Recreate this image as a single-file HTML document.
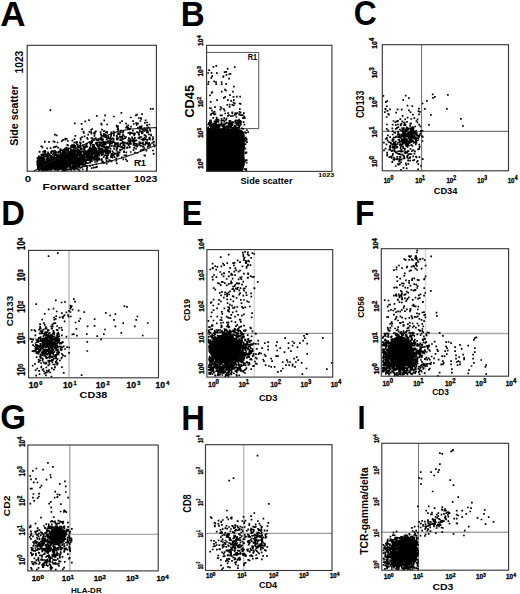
<!DOCTYPE html><html><head><meta charset="utf-8"><style>html,body{margin:0;padding:0;background:#fff;width:520px;height:594px;overflow:hidden}</style></head><body><svg width="520" height="594" viewBox="0 0 520 594" style="position:absolute;left:0;top:0;font-family:'Liberation Sans', sans-serif">
<rect width="520" height="594" fill="#fff"/>
<path d="M421.6 44.7V170.8" stroke="#666" stroke-width="1" fill="none"/>
<path d="M382.3 131.3H508.5" stroke="#555" stroke-width="1" fill="none"/>
<path d="M69.0 250.4V377.8" stroke="#bbb" stroke-width="1.4" fill="none"/>
<path d="M28.6 338.3H158.5" stroke="#999" stroke-width="1" fill="none"/>
<path d="M254.3 249.6V377.1" stroke="#d8d8d8" stroke-width="1.6" fill="none"/>
<path d="M206.9 333.3H332.7" stroke="#7a7a7a" stroke-width="1" fill="none"/>
<path d="M425.5 248.7V376.2" stroke="#d8d8d8" stroke-width="1.5" fill="none"/>
<path d="M381.3 333.5H508.6" stroke="#aaa" stroke-width="1.4" fill="none"/>
<path d="M69.8 445.0V570.9" stroke="#aaa" stroke-width="1.4" fill="none"/>
<path d="M27.8 534.3H158.2" stroke="#999" stroke-width="1" fill="none"/>
<path d="M243.7 444.7V570.5" stroke="#bbb" stroke-width="1.4" fill="none"/>
<path d="M205.5 533.3H332.0" stroke="#888" stroke-width="1" fill="none"/>
<path d="M418.5 443.3V570.2" stroke="#777" stroke-width="1" fill="none"/>
<path d="M381.8 532.2H508.6" stroke="#777" stroke-width="1" fill="none"/>
<path d="M206.6 52.45 H258.75 V128.6 H206.6" fill="none" stroke="#555" stroke-width="1"/>
<path d="M206.6 171.4 L206.6 128.5 L236 128.5 Q244.8 129 244.8 136 L244.3 166 L243 171.4 Z" fill="#000"/>
<ellipse cx="225" cy="349" rx="16" ry="13.5" fill="#000"/>
<ellipse cx="400" cy="352" rx="12" ry="16" fill="#000"/>
<ellipse cx="57.5" cy="535.5" rx="8" ry="9" fill="#000"/>
<ellipse cx="408" cy="550" rx="9" ry="13" fill="#000"/>
<path d="M213.4 66.9h0m2.9-1h0m11.4 3h0m7-1.8h0m-26.6 5.9h0m1-2.8h0m2.4 2.7h0m5.4 0.3h0m7.7-1h0m1.7-0.3h0m0.2 3h0m2.7-0.9h0m1.3-0.2h0m-21.9 8h0m2.7-3.9h0m0.8-1.8h0m2.1 5.3h0m9-4.6h0m0.3-0.4h0m5.5 2.3h0m-20.8 5.4h0m7.8-2h0m0.2 2h0m5.4-2.1h0m0.2 2.2h0m4.3-0.4h0m7.7 2.8h0m-22.1 6.4h0m0.5-0.8h0m9.5-0.6h0m3.3-1.9h0m1 0.8h0m7 1.1h0m-23 3.7h0m13.8 2.6h0m1.4-1h0m4.8-1.8h0m3.5 1.8h0m3.3-0.3h0m3.3 0.1h0m143.3-0.9h0m22.3-0.1h0m3.2 2.5h0m23.8-3.9h0m0.2 3.5h0m2-1h0m13-2h0m-237.3 7h0m6.4-1.6h0m10.2 4.8h0m0.7-4.8h0m1.7 4.5h0m1.6-3.8h0m1.2 4h0m1.1-2.2h0m0.3 2.6h0m0-5.2h0m1 3.3h0m4.8 0.1h0m1 0.3h0m145.2-1.6h0m1.3-1.1h0m16.1-1.2h0m4.3 5.7h0m15.1-2.1h0m4.3-2.7h0m-376.5 9.4h0m100.3-1.4h0m2.3 0h0m57-0.6h0m0.9 0.1h0m1.1 2.4h0m2.1 1.1h0m0.9-4.6h0m5.3 2.4h0m0.3-2.6h0m0.9 1.3h0m2.3 0.7h0m0.8 1.6h0m5-3.8h0m10.2 2.3h0m145.5-0.2h0m0.4 0.4h0m1.1-2.9h0m0.7 4.5h0m2.6-1.5h0m7.5 0h0m4.1 0.3h0m7.2 0.6h0m3.5-4.1h0m6.1 5h0m0.4-2.5h0m6 0.1h0m22 0h0m-350.1 7.1h0m8.3-0.6h0m8.7 1.2h0m7.6-3.7h0m9.4 4.7h0m5-2.2h0m1.2-0.7h0m5.1-0.4h0m68.7 0.7h0m0.7-1.2h0m1.8-0.5h0m0.8 1.2h0m0.5-2.5h0m0.8 2.3h0m1.2 3.5h0m3.9-2.3h0m1.5-0.1h0m3.2-1.8h0m2.6 2.3h0m0.2-2.6h0m1 2h0m1.9 0.9h0m1.3-3.8h0m0.2 1.2h0m0.4 2.5h0m1.9-1h0m0.3-0.7h0m0.3-1.1h0m0.4 1.5h0m0.5-1h0m0.2 3.3h0m1-3.8h0m1.8 1.1h0m0.4-2.4h0m0.7 3.3h0m0.3-2.5h0m0.6 2.5h0m1 0.3h0m0.7-0.5h0m1-1.9h0m0.3 3.6h0m0.4 1h0m140.2-5.6h0m1.9 4.9h0m1.5-3.2h0m0.8 0.8h0m7.1-1.9h0m6.5 3.2h0m5 1.7h0m2.9-5.5h0m2.4 2.6h0m6.2-0.3h0m0.7-2.5h0m11.1 2.9h0m-356.1 8.5h0m10.5-1.9h0m3.8-1.2h0m12.1 3.5h0m3.1-3.4h0m15.8 2.4h0m1.9-1.5h0m4.1 2.5h0m7-2.5h0m3 1.9h0m0.5-0.1h0m1.3 0.7h0m0.9-5.7h0m1.6 3h0m0.4-2.9h0m0.3 0.7h0m3.7 4.1h0m0.8-2.5h0m1.5 2.1h0m61.8 1h0m0.1-0.7h0m0.5 0.4h0m0.4-2.1h0m0.6-0.7h0m0 2.9h0m0-0.1h0m0.4-2.9h0m0.2 1.8h0m2.1 1.6h0m0-5.8h0m0.1 5.8h0m0.3 0.1h0m0.9-2.4h0m0.3 2.1h0m0.3-1.8h0m0.2 0.5h0m0.4-0.8h0m0.4-1.5h0m0.2 3h0m0.7-3.8h0m0.1 2.2h0m1.2-1.6h0m0.1 2.1h0m0.2-1.6h0m2.7 0.7h0m0.2-2.1h0m0.1 4.1h0m1-2.4h0m0.8-0.1h0m0.5 0h0m0.3-2.3h0m0.2 3.5h0m1 2.2h0m0.6-3.8h0m0.3 3.1h0m0.2-4.4h0m0.1 3.9h0m1.8 0.5h0m1-2.2h0m0.2 1.5h0m0.3 0.1h0m0.3 0.3h0m0.4-1.7h0m0.5 2.2h0m1.1-0.7h0m0.1-0.3h0m0.8-0.2h0m2 0.9h0m0-1.8h0m0.8 1.7h0m0.2-2.5h0m0.9 2.2h0m0.3-1.2h0m0.1-0.9h0m0.8 2.8h0m0.3-1.1h0m0.2-0.6h0m0-0.5h0m0.2 1.2h0m0.1-2.7h0m0.1 0.9h0m1 0.4h0m0.3 2.2h0m0.1-0.5h0m0.6-0.9h0m1.9-3.6h0m0.6 4.1h0m1-4h0m0.2-0.2h0m148.7 3h0m2 1.1h0m1.2-0.8h0m1 0.2h0m0.2-0.7h0m2.4-1.6h0m1.2 4.4h0m0.8-2.3h0m1.8 1.3h0m0.6 0.5h0m0 0.6h0m0.5-4.3h0m1.8 2.5h0m4 1.4h0m0.2-4.3h0m3.2-0.8h0m2 2.8h0m1.1 1.4h0m0.1-3.1h0m43.3-0.5h0m-379.3 5.1h0m0.5 5.3h0m9 0.6h0m1.1-0.8h0m9.5-4.3h0m0.3 5h0m5.1-5.2h0m9.5 1h0m0.3 0.6h0m0.4 1.2h0m0.4 2.3h0m0.4-1h0m0-2.3h0m0.2 3.5h0m7.9-2.2h0m0.7-1.3h0m1 1.9h0m0.1-0.6h0m0.3-2.3h0m0.2 3.1h0m0.8 1h0m0.8-0.6h0m0.9-2.2h0m2.7-2.6h0m3 0.8h0m1.2 2.8h0m1.1 0.9h0m0.9-1h0m0-0.7h0m1.3 1h0m0.1-0.4h0m0.2 1.4h0m0.1-2.7h0m2.7 1.9h0m0 1h0m1.2 0.6h0m1.4-1.5h0m0.2 0.6h0m0-3.7h0m0.1 0.7h0m1.6 1.9h0m0.6-3.1h0m0.6 4.8h0m58.1-4.8h0m0 3.8h0m0-0.9h0m0.8-3.5h0m0.6 5h0m0.1-3.6h0m0.9 1.6h0m0.4-1.4h0m0.3 3h0m0.3-4.5h0m0.1 1.4h0m0.1 0.8h0m0.5-0.7h0m0.2 1.9h0m0-3h0m0 1.8h0m0.8-2.1h0m0 2.8h0m0-1.4h0m0 0.7h0m0.1 1.4h0m0.4-3.5h0m0.8 4.8h0m0-3.7h0m0.1-0.5h0m0.1 2.4h0m0.4-1.6h0m0.6 3.7h0m0-2.1h0m0.1-1.9h0m0.1 4.2h0m0.1-4.7h0m0.6 2.6h0m0-0.5h0m0.4-1h0m0-0.7h0m0.2 2.1h0m0.6-2h0m0.4 3.4h0m0.1-3.8h0m0.2 2.1h0m0 2.5h0m0.2-0.8h0m0.2-1.6h0m0.1-2.7h0m0.1 1.7h0m0.3-1.7h0m0.1 1.2h0m0.2 1.1h0m1.1-1.7h0m0.5-0.9h0m0.5 1.7h0m0.3-1h0m0.7 1.4h0m0.2 2.3h0m0.2-0.7h0m0.4-2.7h0m0.2-1h0m0 0.8h0m0.2 2.3h0m0.1-0.5h0m0.1 1.5h0m0.3-3.6h0m0.2-0.1h0m0.7 2.7h0m0-0.3h0m0.2 0.9h0m0.2-0.2h0m0.5-0.3h0m0.3-1h0m0.3 1.5h0m0.6-0.8h0m0 1.3h0m0.4 0.1h0m0.6-3.2h0m0 2h0m0.1-0.7h0m0.4 0.3h0m0.2-2.6h0m0.1 0.2h0m0.1 1.1h0m0.1 0.3h0m0 1.4h0m0.3-2.2h0m0-0.7h0m0.1 0.8h0m0.2 0.2h0m0 1.4h0m0.1-0.4h0m0.4 0.9h0m0.7-1.8h0m0 2.2h0m0.1-0.3h0m0.1-2.8h0m0 1.6h0m0.8-1.5h0m0 0.7h0m0.3-0.8h0m0.1 3.4h0m1.4-0.7h0m0.4 1.4h0m0-1.5h0m0.1-0.9h0m0.6-0.6h0m0.2 2.8h0m0-2.5h0m0 0.8h0m0.2-0.4h0m0.1 1.1h0m0 2.2h0m0-2.8h0m0.1 1h0m1-3.7h0m0.4 3.8h0m0.2-2.9h0m0-0.7h0m0.1 3.7h0m0.6-0.2h0m0-3.7h0m0.3 0.1h0m0.1 3.9h0m0.2-2.7h0m0.1 1.6h0m0.4-0.1h0m0 0.9h0m0.1-2.7h0m0 0.6h0m0.5 0.1h0m1.1-1.3h0m0.9 4h0m1.5 0.6h0m1.1-4.4h0m142.3 4.3h0m0.3-4.4h0m5.3 3.9h0m0.3-3.7h0m3 4.3h0m0.2-3.8h0m0.9 3.3h0m0.4-0.6h0m0.8-3.4h0m0.4 2.6h0m1.6 2.4h0m0.6-4.8h0m0.3 0.7h0m1.4 2.8h0m0.4 0.8h0m1.2-1h0m0.2 0.8h0m0.2-3.7h0m1 0h0m0.3-0.3h0m0.4 4.5h0m0.3 0.2h0m0.4-2.1h0m0.4 0.4h0m0.5 1.8h0m0.6 0.1h0m0.2-0.7h0m0.3-0.7h0m1.5 0.3h0m0-2.7h0m0.1 2.6h0m0.1-4.6h0m1 4h0m0.5 1.4h0m0.8-2.1h0m0.3 0.8h0m0.6 0.8h0m0.1-1.2h0m1.6-1.1h0m3.9-1.8h0m1.3 1.6h0m8.5-1.5h0m34 1h0m-408.1 8.9h0m1.8 0.6h0m26.8-3.6h0m0.5 1.2h0m4.3 1.8h0m1.2-2.8h0m1.9 0.3h0m0.2 1.4h0m2.5-0.6h0m0.3 0.4h0m0.1 2.4h0m0.3-1.9h0m0.2-1.7h0m1-0.9h0m4.7 0.9h0m0.3 2h0m0.4 1.6h0m0.7-0.2h0m0.7 0h0m0.9 0.2h0m0.2-4.7h0m0.1 2.8h0m0.6-2.9h0m0.6 4h0m0.6 0.7h0m0.1-3.1h0m0 2.2h0m1.2-3h0m0.2 0.9h0m3.9 3.1h0m0-1.7h0m0.3-1.7h0m2.2-0.7h0m0.2 2.1h0m0.1 1.8h0m0.3-3h0m3.4 1h0m0.6 0.5h0m0.4-1.1h0m1 0.4h0m0.1 1.2h0m0.9-2.1h0m0.2-1.8h0m0.1 1h0m2 0.8h0m0.1 2.2h0m0 0.7h0m0.3-4.3h0m5.1 1.7h0m1.4-0.1h0m0.3 1.6h0m0.6-1.6h0m1 0.3h0m1.1 0.3h0m0-2.7h0m0.1 0.1h0m0.9 3.3h0m0.3-0.6h0m0.1 2h0m0.1 0h0m0.8-1.7h0m1.9-1.5h0m0.5-0.2h0m0.9 1.2h0m0.3 0.8h0m0.5 0.8h0m0.6-4.5h0m0 1.6h0m0.2-1.2h0m1.9 2h0m0-1.2h0m0 1.8h0m0.6-1.3h0m0.2 0.9h0m0.2-3h0m1.5 1h0m0.1 4.2h0m1 0.4h0m1.1-4.9h0m0.1 0.9h0m0.1 0.4h0m0.3 0.6h0m0.4-0.2h0m0.2-1.7h0m0.4 2h0m0.9 1.9h0m1.3-3.7h0m0.7 3.8h0m0.1 0.8h0m93.6-3.4h0m1.3 0.8h0m0.8-2.7h0m1.3 2h0m139.8 3.2h0m0.2-5h0m4.6 4.2h0m0.1-3.4h0m1.4 1.4h0m1 0.4h0m2.5 2.1h0m0.3-0.2h0m0.2-1.4h0m0-1.9h0m0.1 1.6h0m1.2 1.3h0m0.2 1.4h0m1.5-5.3h0m0.3 4h0m0.8 1h0m0.3-1.2h0m0.2-2.6h0m0.2-1.2h0m0.1 2.9h0m0.1 1.7h0m0.2 0.3h0m0-1.6h0m0.4 0h0m0-1.1h0m0.1-0.4h0m0.6 0.2h0m0 1.3h0m0.3-1.6h0m0.1 0.9h0m0.1-2.6h0m0 4.8h0m0.3-0.1h0m0.1 0.6h0m0-2.2h0m0.5-2.7h0m0.1 0.6h0m0.7 2.2h0m0.1-3h0m0.2 0.7h0m0.1 3.8h0m0.1 0.5h0m0.1-0.6h0m0.2-1.3h0m0.6 1h0m0.2 0.3h0m0.1-0.4h0m0.1-1.8h0m0.2 0.8h0m0.1-1.1h0m0.4-0.5h0m0.1 0.7h0m0.2 0.4h0m0.2 1.6h0m0-0.5h0m0.2 0.6h0m0-1.2h0m0.3-2.1h0m0.2 0.6h0m0.2 2.2h0m0.1-0.2h0m0.1-4.2h0m0 3.6h0m0.1 0.9h0m0-2.8h0m0 1.9h0m0.2-1.7h0m0.1 3h0m0.5-4.6h0m0.2 0.2h0m0 1.7h0m0 2.3h0m0.2 0.4h0m0-0.8h0m0.3-0.9h0m0.4 0.1h0m0.2-2.7h0m0.5 3.2h0m0.4-1.8h0m0.1-0.9h0m0.3 1.1h0m0.2 0.2h0m0.3 3.3h0m0.4-3.1h0m0.1 1h0m0.4-0.8h0m0 0.6h0m0.4-2.5h0m0.5 3.3h0m0.2-1.2h0m0.2 1.3h0m2 1.2h0m0.7-0.4h0m0.6-1.4h0m0.5-2.6h0m0.1 2.2h0m1.5-2.5h0m-377.6 10.7h0m4.2 0.3h0m4.5-0.4h0m8.4-0.2h0m1.2-1.4h0m2.1-0.1h0m0.1-1.1h0m1.4 0.3h0m1.1 1.9h0m4.6-0.1h0m2.1-1.5h0m0.9-3.3h0m5.2 2.2h0m0.1 1.5h0m1.5-2.6h0m1.1 4.8h0m1.3-5.4h0m2.6 1.4h0m0.5 1.1h0m3.7-0.9h0m0.2 2.6h0m0 0.8h0m0.5 0h0m0.2-3h0m0.3 2.3h0m0.1-0.4h0m0.8-0.3h0m1-1.4h0m1.3-0.4h0m1.1 2h0m1.1 0.1h0m1-0.7h0m1.8-0.2h0m0.2-0.2h0m0.1-0.3h0m0.1-0.4h0m0.6 0.7h0m0.1 0.9h0m1.2-0.8h0m0 2.4h0m2.1-4.6h0m0.7-0.6h0m0.1 0.3h0m0.6 2.8h0m0.1-1.9h0m1.3 3.4h0m0.1-2.7h0m0.2-2h0m0 0.5h0m0.1-0.5h0m1.3 4.8h0m0-2.8h0m0.6 1.6h0m0.3-2.5h0m0.3 1.3h0m0.5 3h0m0.1-2.2h0m1.3-1.2h0m0.4 3h0m0.3-0.4h0m0.2-1.9h0m3-0.8h0m0-2.4h0m0.3 0.4h0m0.1 3.4h0m0.6-0.6h0m0.6-1.1h0m1.5-1.1h0m0.4 2.7h0m0.1 0.6h0m0.3-2.9h0m0.9-0.7h0m0.2 3.5h0m0.4-3.4h0m0.1 0.8h0m0.1 1.1h0m0.3 3.2h0m1-3h0m0.8-2.4h0m0.9 1.7h0m0.3-1h0m0.4-0.1h0m2.4 3.2h0m0.5-2h0m0.3 3.2h0m1.1-1.5h0m0.1-0.9h0m0.1 0.2h0m0 2.1h0m0.3-0.7h0m1.2-3.3h0m0.4 3.1h0m0.4 0.9h0m0-2.1h0m0.2 0.3h0m0.1 1.7h0m0.4-1.2h0m1-0.8h0m0.4-1.4h0m0 3h0m0.3 0h0m1.3-0.4h0m1.8-2.4h0m1.1-0.4h0m0.2 0.8h0m0.1-1.4h0m1.7 0h0m0.1 2.5h0m1.2 0.3h0m0.4-0.9h0m0.6 1.4h0m0.5-1h0m0.2-1.8h0m1 1.4h0m0.2-0.3h0m0 0.7h0m0.6-2.6h0m0.9 3.2h0m0.3 0.1h0m1.8-2.2h0m0.2 1.4h0m0.4-1.5h0m0.2 1.7h0m2.6 0.3h0m0.4-2.7h0m0.1 1.8h0m91 1h0m0.6 1.6h0m0.3-0.8h0m0.4-2.3h0m0.1-0.4h0m0.1-0.3h0m0 3.1h0m0.3-2.3h0m0.2 1h0m0.1-0.8h0m0.6 1h0m138.9-0.6h0m1.1-1.1h0m0.1 0.8h0m0.8 2h0m2.4-3.6h0m2.1 3.2h0m0.5-0.5h0m0.2 1.1h0m0.1-1.8h0m0.6-1.6h0m0 2.1h0m1-2.1h0m1.1 4h0m0.1-4.4h0m0.3-0.6h0m1.9 0.6h0m0.2-0.1h0m0.3 2.8h0m0.2 0.2h0m0.3-3.1h0m0.2 3h0m0.5-2.3h0m0.1 3.8h0m0.7-3.8h0m0.2 4h0m0.7-3.1h0m0.2-2.5h0m0 4.7h0m0.1-1h0m0.1 1.2h0m0.1-4.5h0m0.1 3.3h0m1.2 0.7h0m0.2-1.3h0m0.1 2.4h0m0-1.5h0m0.1-2.9h0m0.2 4.7h0m0.2-1.5h0m0.3-0.6h0m0.2-2.2h0m0 0.5h0m0.1 3.5h0m0.3-1.2h0m0-1.6h0m0.1 1.1h0m0.1 1.2h0m0.5-0.8h0m0.3-1.3h0m0 1.2h0m0.1 1.3h0m0.1-2.1h0m0.2-2.6h0m0 4.6h0m0.7-1.8h0m0.1 2h0m0.4 0.1h0m0-5.4h0m0.2 5h0m0.4-4.6h0m0.2-0.5h0m0.2 2.6h0m0-0.9h0m0.2 3.4h0m0.2 0.1h0m0.1-3.6h0m0-1h0m0 2h0m0.3-1h0m0-0.3h0m0.1 3.6h0m0.1-4.2h0m0 0.1h0m0.2 1.8h0m0.1-0.6h0m0.2 0.3h0m0.1 1h0m0.2-1.3h0m0.1 2.6h0m0.1 0.6h0m0.2-2h0m0 0.6h0m0.1-2.4h0m0-0.1h0m0.1-0.8h0m0 2.4h0m0.4-1.9h0m0.2 4.5h0m0.1-3.6h0m0-1.4h0m0.2 3.9h0m0.1 0.9h0m0.1-0.3h0m0-0.5h0m0.2-3.8h0m0 3.4h0m0.4-4.3h0m0.1 5.2h0m0.2-3.5h0m0.2-1.3h0m0.1-0.2h0m0 4.9h0m0.2-3.6h0m0.2 0.3h0m0.1 0.8h0m0.4 0.1h0m0.8-1.2h0m0.2 1.1h0m0.2-0.7h0m0.2 0.5h0m0.1 1h0m0.3 1.8h0m0.1-2.7h0m0.3 2.3h0m0.3-0.3h0m0.3-0.1h0m0.1-4.3h0m0.1 2.1h0m0.4-2.1h0m0-0.1h0m0.6 2.2h0m0.3 1.9h0m0.8-3.2h0m2.7-0.6h0m0.6 4.8h0m0.1-4.5h0m0.1 0.5h0m-381.4 9.3h0m0.3 0.1h0m0.8 0.9h0m2.4-5.4h0m8.9 5.4h0m1-5.3h0m0.4 4.9h0m1.3-0.6h0m1.2-3.8h0m0.4 5.2h0m8.3-0.2h0m1-2.6h0m0.7 0.4h0m3 0.9h0m0.8 0.5h0m0.2-1.7h0m0.1 2.4h0m0.3-2.3h0m0.3 1.5h0m1.3-2h0m0 2.6h0m0.1-1.6h0m0.1-3.1h0m0.9 3.4h0m0.3 1.4h0m0.7-4.4h0m0-0.8h0m0.9 2.4h0m0.1-2.4h0m0.5 4.9h0m0-2.6h0m0 1.4h0m0.9 1.3h0m1-1.2h0m0.4-3.5h0m0.2 4.9h0m0.3-1.2h0m0-1.7h0m0.4-1.2h0m2.2 2.2h0m0.3 1h0m0.4 0.8h0m0.1-0.6h0m0.5 0.8h0m0.5-0.6h0m0.6-0.6h0m0.9-1.8h0m0 2.6h0m0.2-1.7h0m0.7-1.8h0m0 3.1h0m2.2-4.5h0m0.3 5.2h0m0.5-4.2h0m0.2 4.2h0m0.2-2.2h0m0.3-1.6h0m0.7-0.1h0m0.5-1.2h0m0.6 4.7h0m0.1-2h0m0.3 2.8h0m0.1-1.7h0m0.7-1.1h0m0.3 0.9h0m0.4 1.7h0m0.9 0.1h0m0.4-3.9h0m0-0.3h0m0.1 0h0m0 0.2h0m0.1-0.6h0m0.4-0.4h0m0.5 2.6h0m0 0h0m0.5-2.4h0m0.1 1.8h0m0.1 1h0m0.2 0.7h0m0.3-0.5h0m0.2 0.5h0m0.1 1.3h0m0.3-0.3h0m0.3-2h0m0.2-3.1h0m0 3.6h0m0.3-1.1h0m0.1 0h0m0.1 0.2h0m0-0.9h0m0 0.8h0m0.3-0.7h0m0.1 1.1h0m0.6-2.9h0m0.3 0.9h0m0.3 2.1h0m0.1 1h0m0.5-3.9h0m0-0.1h0m0.1 3.6h0m0.2-3h0m0.2 1.9h0m0 1.5h0m0.1-3.5h0m0.2 2.7h0m1.1 1.6h0m0-3.3h0m0.1-0.6h0m0 2.7h0m0.1 1.8h0m0.1-4.5h0m0.1 4h0m0.1-5h0m0 2.1h0m0.4 0.1h0m0.1-1.3h0m0.2 4.2h0m0.1-3.6h0m0.1-0.2h0m0.1-0.4h0m0 0.5h0m0.2-1.3h0m0.1 1.9h0m0.3-2.2h0m0.4 4.9h0m0.2-0.3h0m0.8-4.3h0m0 5.1h0m0 0.4h0m0.3-4.8h0m0.4 4h0m0.2 0.7h0m0.4-0.3h0m0.1-4.5h0m0 0.1h0m0.9 3.8h0m0-3.6h0m0-1.2h0m0 4.6h0m0.1-2.6h0m0.1 1h0m0.3-3h0m0.4 1.1h0m1.3 2.7h0m0.1-2.1h0m0.8-1.6h0m1.2 4.6h0m0.2-4.4h0m0.2 3.8h0m0.4-1.1h0m0.1-1.4h0m0.4-0.5h0m0.2 2.9h0m0.6-2h0m0.2-0.8h0m0 1.1h0m0.2 3.1h0m0.1-3.1h0m0.7 3h0m0.3-4.1h0m0.3 2.3h0m0.1-2h0m0-0.5h0m0 3.3h0m0-1.3h0m1.5 1.5h0m0.7-1.7h0m0.2-0.9h0m0.8 3.2h0m0.2-4h0m0.4 4h0m0.3-0.5h0m0.9 1.2h0m0.2-3.1h0m0 2.8h0m0.1-4.7h0m0.3-0.5h0m0.1 2.9h0m0.1-2.9h0m0.1 1.3h0m0.7 3.3h0m0.1-1.4h0m0.3-2.8h0m1.4 0.9h0m0.5 4.2h0m0.3-4.1h0m0.3-1.1h0m0 4.8h0m1.1-2.3h0m0.5-1.6h0m0.5 4h0m0.2-0.6h0m0.1-5h0m0.3 2.1h0m0.3-1.8h0m0.4 1.7h0m2.6-0.4h0m0 1.4h0m0.3-2.8h0m0.3 1.6h0m0.7 2h0m0.6-2.2h0m0.5 2.5h0m0.1-2.2h0m0.9 0.3h0m0.1 0h0m0.2 2.2h0m0.1-0.9h0m1.9-1.6h0m0 1.1h0m0.1-0.6h0m0.1-2.2h0m0.2 2.5h0m0.6-1.9h0m0.3 0.6h0m0.1 2.7h0m0.3-0.1h0m0.3-2.6h0m1.7 3.3h0m0-3.9h0m0.2 1.4h0m0.3 2.1h0m1.7-1.5h0m0.5-1h0m0.3-1.7h0m0.8 1.5h0m0.3-1.3h0m0.7 4.7h0m0.3-3.3h0m0.3 1.3h0m0.4-1.4h0m0.4-0.7h0m0.2 3h0m0.6 0h0m0.4-1.4h0m1.8-1.4h0m1.5-1.1h0m0.2 2.4h0m0.2-2.4h0m0.6 4.5h0m88.8-1.4h0m0.5 2.8h0m0-3.6h0m0.1 1.9h0m1.5-2h0m1.5-2h0m136.9 0.6h0m2.6 1.6h0m2.5-2.1h0m0.7 4.3h0m0.4-0.1h0m0.1 1.4h0m0.4-5.2h0m0 3h0m0.3-2.3h0m1.3 0.7h0m0.2 3.3h0m0.1-3.1h0m0.4 2h0m0.3 1h0m0.6-4.5h0m0.3 4.9h0m0.1-3.5h0m0.1-0.3h0m0.4 2h0m0.5 0h0m0.1-3.7h0m0 1.1h0m0.1 2.6h0m0.3-1h0m1.1 1.9h0m0.1 1h0m0.5-3.6h0m0 3.1h0m0.7-4.7h0m1.3 0h0m0.5 2.3h0m0.6-0.7h0m0.1 2.9h0m0.5-1.3h0m0.1-0.8h0m0.2-0.1h0m1-2.5h0m0 0.2h0m0.1 1.8h0m0.1-0.1h0m0.3 2.4h0m0.6-4.2h0m0.6 0.9h0m1.6-0.6h0m0 2h0m0.5 0.7h0m0.2-2.1h0m0.1 2.5h0m0.6 0.4h0m0.5 0.6h0m0.1-1.8h0m0.4-1.1h0m0.4-1.6h0m0.5 3.2h0m0.9-3.5h0m0 0.9h0m1.2 2.1h0m0.6 0h0m0.1-3.1h0m0.6 4.1h0m1.4-3h0m0.4-1h0m1.6 2.4h0m0.1-1.9h0m0.5 0.1h0m2.8 2h0m0.2 2.7h0m0.3-0.7h0m-380.1 5.1h0m0.1 0.1h0m3.4 0.1h0m0.2 0h0m0.5-0.6h0m1.2-0.5h0m0 2.6h0m0.5-1.6h0m1.7-3.5h0m0.3 5.5h0m0.6-1.5h0m2.5-4.2h0m0.3 4h0m0.3 0.5h0m0.2 0.5h0m0.3-2h0m1 0.1h0m0.3 0.3h0m0.2-0.1h0m0.3 2.2h0m0.3-0.6h0m0.8 0.8h0m0.4-2.9h0m0.2 1.2h0m0.1 1.4h0m1.3-1.3h0m1.9 0.7h0m0.2-1.3h0m1.2-0.6h0m0.4-1.8h0m0 3.4h0m0.2 0.2h0m0-3.6h0m0.4 1.3h0m1.1 0h0m0.5 2.2h0m0.1-2.3h0m0.2 1h0m0.7 2.1h0m0-3.9h0m0.1 4h0m0.6-1.8h0m0.2-1.7h0m0.1 1.6h0m0.2 2h0m0.3-2.6h0m0.1-2.4h0m0.7 3.8h0m0.1 0.3h0m0.4-3.1h0m0.1-1.2h0m0 4.6h0m0.1-4.7h0m0.2 4.9h0m0.1-2.4h0m0.1-2.1h0m0.1-0.2h0m0.3 0.1h0m0.5 1.5h0m0.4-1.6h0m0.1 2.4h0m0-2.7h0m0.3 0.7h0m0.3 2.5h0m0 1.2h0m0.1-0.7h0m0.1 0.9h0m0.6 0.5h0m0-1.2h0m0.7 0.1h0m0-4.2h0m0 4.2h0m0.2 0.4h0m0.2-2.8h0m0.3 0.3h0m0 1.3h0m0.2-0.9h0m0.9 2h0m0 0.2h0m0.1-2.8h0m0.1 0.7h0m0 2.7h0m0-1.7h0m0.1 1.8h0m0.3-1.2h0m0 0.2h0m0.2-1.6h0m0.1 0.6h0m0.1-1.1h0m0 2.8h0m0.1 0.3h0m0-0.8h0m0.2-1.6h0m0.3-2.1h0m0.1 3.1h0m0.1 1.5h0m0.1-1.4h0m0.1-0.4h0m0.3 0.8h0m0.2-0.3h0m0.1 0.1h0m0-1.9h0m0 1.3h0m0.5-1.7h0m0.2 3.7h0m0.1-1.3h0m0 0.4h0m0-2h0m0.3-0.5h0m0.6-0.3h0m0.4 1.7h0m0.5-2.7h0m0.2 4.2h0m0.1-3.4h0m0.1 3.2h0m0.1-0.9h0m0.1 1.5h0m0-0.5h0m0.1-3h0m0-0.4h0m0.1-0.4h0m0 3.2h0m0.3-1.4h0m0.7-0.7h0m0.1 0.8h0m0.6 0.8h0m0.2-0.8h0m0 2.5h0m0.3-4.9h0m0.5 0.5h0m0.2 4h0m0-5.3h0m0.1 4h0m0-3.7h0m0.2 1h0m0.2 2.2h0m0.4-2.6h0m0.2 2.4h0m0.8 0.2h0m0.8 0.4h0m0.2 1.2h0m0-4.8h0m0 0.8h0m0.2 1.4h0m0.2-2.4h0m0 2.5h0m0 2h0m0.3-4.5h0m0.1 1.8h0m0.1 3.6h0m0-2.7h0m0.5 0.7h0m0.9 0.1h0m0.4 1.7h0m0-1.5h0m0.4 1.4h0m0.1 0.3h0m0.1-1h0m0.2-1.4h0m0.2 0.5h0m0.6-1.6h0m0.2 3.3h0m0.1-0.8h0m0-0.4h0m0.1 0.9h0m0.2 0.7h0m0.1-3.7h0m0.1 3.3h0m0-3.3h0m0.1 1.7h0m0 0.4h0m0-2.7h0m0.2-0.6h0m0.2 0h0m0 4.4h0m0.4-2.8h0m0.2-0.9h0m0 0.3h0m0 0.6h0m0.2 1.5h0m0 1.1h0m0.1 0.4h0m0.3-1.8h0m0.1-2.7h0m0.3 3.2h0m0.1 0.5h0m0.1-3h0m0-0.3h0m0.1-0.7h0m0.1 2.7h0m0.1-2h0m0.4 1.7h0m0.1 2.1h0m0.3-0.1h0m0.1-4.4h0m0 2.6h0m0.2 0.4h0m0.1-3.6h0m0.5 4.5h0m0.1-3h0m0.1 4h0m0.1-2.6h0m0.1-1.8h0m0.3 0.7h0m0.6-0.9h0m0 2.4h0m0-1.2h0m0.1 3.5h0m0-2.6h0m0.2 1.1h0m0 0.8h0m0.1-0.7h0m0.1-1.3h0m0.5-2.1h0m0.1 0.5h0m0 0.4h0m0.1 2.9h0m0.4-1.2h0m0.1-1h0m0.1 0.1h0m0.1 3h0m0.1-4.3h0m0 0.1h0m0-0.3h0m0.3 1.9h0m0.1 1.5h0m0.1 0.1h0m0.2 0.2h0m0.4 0.9h0m0.1-1.4h0m0.1 1.1h0m0.6-2.4h0m0.1 1h0m0.2-2.8h0m0.3 3.7h0m0.1-2.7h0m0.1-2.2h0m0.3 1.3h0m0.4 0.6h0m0 2.3h0m0.2 0.8h0m0.2-0.8h0m0.1-0.7h0m0.2 2.1h0m0.5-3.8h0m0.1 0.2h0m0-1.3h0m0.4 4.6h0m0.2-4.8h0m0.2 0.9h0m0 2.8h0m0.1-0.9h0m0-0.4h0m0.1 0.7h0m0 1.2h0m0.1-2.9h0m0.3 1.3h0m0.1 0h0m0.1 1.6h0m0.1-1.2h0m0.3-0.9h0m0.2 0.5h0m0.1 0.1h0m0.8-1.1h0m0.8 2.4h0m0.1-1.1h0m0.3-0.9h0m0-1.4h0m0.2 4.3h0m0.1-0.5h0m0.1-1.6h0m0.2 1.4h0m0.1 0.1h0m0.3-3.5h0m0 2.6h0m0.2-0.9h0m0-2.6h0m0.8 1h0m0.3-1.5h0m0.1 4.4h0m0.3-1.6h0m0.2 2.7h0m0.2-0.3h0m0.4-2.4h0m1 1.4h0m0.1-1h0m0.2-2.3h0m2.1 2.4h0m0.7 1.7h0m0.8-4.2h0m0.4 4.5h0m0.6 0.5h0m0.9-0.3h0m0.5-4h0m0 0.9h0m0.3-1.1h0m0.5-1.2h0m0.2 3.9h0m0.3 0.2h0m0 1.3h0m0.8 0.3h0m1-1.5h0m0.4-2.6h0m0.2 0.7h0m1.7-0.9h0m2.1 1.8h0m0.1 0.8h0m0.3-3.4h0m1.9 3.6h0m4.4-0.3h0m2.9-1.9h0m0.4-2.2h0m1 4.6h0m1-3.8h0m1.3 4.2h0m3.4-2.5h0m1.7-0.9h0m0.9 0.4h0m0.2-0.2h0m0.8-1.6h0m2.1 2.6h0m6.6-0.2h0m89.5-1.2h0m0.6 1.6h0m2.3-2.2h0m0.1 4.5h0m0.2-0.6h0m0.2-0.3h0m0.6 0.3h0m137.5-2.3h0m1.6-1.7h0m1.5 4.1h0m2.1-3.1h0m1 0.2h0m1.6 1.4h0m0.6-0.8h0m0.9-2.4h0m1 3.5h0m0-1.3h0m0.3-1.5h0m0.4-0.8h0m0.2 3.5h0m0.6 0.7h0m0.4 0.6h0m0.1-0.4h0m1.2 1.2h0m0.6-2.2h0m0.9 2.5h0m0.9-2.6h0m0.8-2.8h0m0.4 3.3h0m0.3-1.8h0m0.2 0.8h0m0.6 0.8h0m0.7 0h0m0.3-3.4h0m1.5 1.7h0m0.1-1.3h0m0.1 3.8h0m0.4 0.8h0m0.1-0.1h0m0.4-1.1h0m1.2 1h0m0.7-1.6h0m0.2-0.3h0m0.6 0.1h0m2-2.2h0m1.4 2.1h0m0.6 0h0m0.9-1h0m1.1 3.6h0m0.5-2.2h0m3.1-2h0m0.9-0.2h0m-381.5 8.6h0m0 0.8h0m1.4-2.2h0m0 0.6h0m0.1 1.8h0m0.4 0h0m0.4-1.2h0m0.4-0.2h0m0.1 1.3h0m0-0.4h0m0.3-1.2h0m0.3 1.1h0m0.1 0.8h0m0.3-4.3h0m0.1 4.8h0m0.2-3.3h0m0.5 1.7h0m0.1 1.8h0m0.1-1.6h0m0 1.6h0m0.1-0.5h0m0 0.3h0m0.1-4.6h0m0.1 4.6h0m0.3-2.2h0m0.1 0.4h0m0.1-2.6h0m0.1 4.1h0m0.1-5.2h0m0 5.4h0m0.1-0.4h0m0.6-2.7h0m0.2 2.6h0m0-4.7h0m0.1 1.8h0m0 0.9h0m0.5-0.3h0m0.1-0.4h0m0.7-1.1h0m0.1 0.7h0m0.4 3.2h0m0.6-4.3h0m0 2h0m0.7 0.6h0m0.2 2.1h0m0.1-1.2h0m0 0.8h0m0.1-0.9h0m0.1-0.5h0m0.1-1.4h0m0.1 2.9h0m0-3.3h0m0.4 2h0m0.2 1.9h0m0.1-1.7h0m0.3 1h0m0.1-4.8h0m0.5 0.7h0m0.1 0.7h0m0.1 3.8h0m0.2-3.8h0m0.3 1.4h0m0.5-1.1h0m0 2.1h0m0.1 0.3h0m0.6-0.2h0m0.1 0.4h0m0.1-2h0m0 2.9h0m0.5-1.2h0m0.4-1.1h0m0-2.4h0m0.2 4.4h0m0.2-1.6h0m0.4 0.2h0m0.2-0.4h0m0.3 0.1h0m0.1 0.7h0m0 0.9h0m0.2 0.4h0m0.1-4.3h0m0.2 3.1h0m0.1-2.2h0m0.1 2.8h0m0.1-0.4h0m0-3.1h0m0.3 3.5h0m0.1-0.7h0m0.1-2.9h0m0 2.7h0m0.6 0.5h0m0.1 0.7h0m0.1-4.8h0m0.4 5h0m0.1 0.5h0m0-0.8h0m0.1-1.8h0m0-2.6h0m0.2 4h0m0.1-3.3h0m0 1h0m0-0.5h0m0.2 3.4h0m0-4.6h0m0 4.5h0m0.1-4.1h0m0 3.6h0m0.4-1.1h0m0.4 1.2h0m0-2.8h0m0.1 2.3h0m0.2-2.3h0m0.1 0.3h0m0.2 1h0m0.2-1.8h0m0 2.9h0m0.2-2.1h0m0.2 1.6h0m0.2-2.8h0m0 1.9h0m0-0.7h0m0.3-0.1h0m0.1 1.2h0m0.2-1.8h0m0.2 3.6h0m0-2.7h0m0.2 1h0m0.2 2.4h0m0-1h0m0.2-0.9h0m0.1-3.6h0m0.2 0.2h0m0.1 2.8h0m0 2.1h0m0.2 0.1h0m0-3.2h0m0.1 2.1h0m0.1-1.5h0m0-1.5h0m0.3 2.6h0m0.1 1.4h0m0-2h0m0 2.4h0m0.4-5h0m0.1-0.1h0m0 4.4h0m0-4.9h0m0.1 4.2h0m0-3.3h0m0.1-0.9h0m0 4.4h0m0.1-4.5h0m0.1 3.2h0m0.1 2.1h0m0-3.7h0m0.1 0.8h0m0 2.5h0m0.3 0.4h0m0.1-0.8h0m0.2 0.8h0m0-1.7h0m0.1 1.8h0m0.2-1.4h0m0-3.3h0m0-0.5h0m0.1 0.2h0m0 4h0m0-2.2h0m0.1 3h0m0.1-3.6h0m0.1-1.8h0m0 2.7h0m0.4 2.5h0m0.1-3.4h0m0 4h0m0-1.4h0m0.1 0.5h0m0-2.8h0m0 3.8h0m0.2-5.7h0m0.1 1.6h0m0-0.9h0m0 4.5h0m0-1.4h0m0.1-1.2h0m0 0.1h0m0.1-0.5h0m0.1-0.8h0m0 1.5h0m0.2 0.6h0m0.3 0.5h0m0.6-0.5h0m0-1h0m0 1.3h0m0.1-2.9h0m0.1-0.4h0m0.1 1.6h0m0.1 1.4h0m0 0.5h0m0-2.4h0m0.1 1.8h0m0-0.2h0m0.1-3.4h0m0 0.8h0m0 0.3h0m0.3 4h0m0-2.9h0m0.4 1.4h0m0 2.2h0m0.4-3.7h0m0 3.5h0m0.2-4.5h0m0.1 2h0m0.1-0.1h0m0.1 1.8h0m0.1-4.2h0m0.1 4.9h0m0.3-3h0m0.1 0.1h0m0.1-2.4h0m0.2 1.8h0m0-1.8h0m0.2 4.6h0m0-2.5h0m0.3-2.1h0m0 1.1h0m0.1-0.5h0m0.2 3.1h0m0.2-3.2h0m0 1.5h0m0.1 0.4h0m0-2.3h0m0 3.7h0m0.1 1.9h0m0.1-3.6h0m0 1.2h0m0 2.1h0m0-2h0m0 0.3h0m0.1-3.7h0m0 3.3h0m0 0.1h0m0.1 2.3h0m0-0.4h0m0.1-1.8h0m0 1h0m0.1-3.5h0m0-1.1h0m0.2 2.8h0m0 0h0m0.1 1.8h0m0-0.6h0m0-0.2h0m0-0.4h0m0.2 1.3h0m0.1 0.9h0m0-5.3h0m0.2 4.3h0m0-3.3h0m0.1-0.5h0m0 1.7h0m0.6-2.4h0m0 4.2h0m0.2 0.1h0m0-0.8h0m0.3-2.2h0m0.1 2.4h0m0-0.7h0m0.5 1.1h0m0.1-1.5h0m0.2-1h0m0.2 1h0m0 1.3h0m0 1.8h0m0-0.8h0m0.1-4.6h0m0 2.9h0m0.1-0.6h0m0.1 1.8h0m0.1-3.7h0m0.1 0.7h0m0.1 1.5h0m0-1.2h0m0.2 2.6h0m0.1-2.9h0m0 1.8h0m0 2.5h0m0.1-0.2h0m0.1-4.4h0m0.1-0.5h0m0 1.4h0m0 3.3h0m0.1 0h0m0.1-3h0m0 0.6h0m0 1.2h0m0.1-3.6h0m0.1 2.7h0m0.1-0.8h0m0.2-0.9h0m0 2.7h0m0 1.1h0m0.1-3.7h0m0.1-0.1h0m0.2 2h0m0.2-0.2h0m0-2.1h0m0.1 2.2h0m0.6-2h0m0-0.9h0m0.1 4.8h0m0.2-4.1h0m0.4-1.1h0m0 3.9h0m0 1.4h0m0.6-4.7h0m0.1 4.6h0m0.1-3.2h0m0.2-1.6h0m0.1 3.2h0m0-2h0m0.1-1.3h0m0 3.7h0m0.2-3.8h0m0.1 5.1h0m0 0.3h0m0.4-0.5h0m0-1.7h0m0.1-1.3h0m0.3 0.1h0m0.1 3.3h0m0.2-0.4h0m0.1-2.2h0m0.2-2.3h0m0.1 4.5h0m0.2-2h0m0 1h0m0-0.7h0m0.3-1.9h0m0-0.9h0m0 0.1h0m0.1 3.1h0m0.3 1.2h0m0-4.7h0m0.3 5h0m0.2-2.3h0m0.1 2.5h0m0.2-4.1h0m0.1-0.4h0m0.1 1.8h0m0.1 1.9h0m0.1-3h0m0-1.3h0m0.2 1.3h0m0.3 1.7h0m0 0h0m0.4-2.6h0m0.1 2.4h0m0.2-3.1h0m0.1 0.4h0m0.3 3.2h0m0.1 1.9h0m0.2-5.2h0m0.2-0.7h0m0.4 2.9h0m0.4-0.7h0m0.2-0.2h0m0.1 3.3h0m0.6-3.8h0m0.1 2.2h0m0.1-3.1h0m0.2 5.2h0m0.2-2.7h0m0.2-1.7h0m0.1 2h0m0.4 0.8h0m0.1-2.6h0m0 0.2h0m0.1 0.7h0m0.6 1.7h0m0 0.6h0m0-3.9h0m0.1 1.2h0m0 0.7h0m0 2.8h0m0.1-1.3h0m0.1 0.6h0m0.5 0.9h0m0.1-0.6h0m0-2h0m0.3 0.3h0m0.3 1.5h0m0.1 0.5h0m0.2-3.5h0m0.2-1.5h0m0 2.9h0m0-0.1h0m0.2 0.5h0m0.1-3.2h0m0.1 1.9h0m0.1-0.6h0m0 0h0m0.1 3h0m0-2.3h0m0 1.1h0m0.4-3.2h0m0.1 2.7h0m0 0.9h0m0.1 0h0m0.2-1h0m1 1.4h0m0-0.6h0m0.4-2.1h0m0.3 0.7h0m0.1 0.3h0m0.5 2.6h0m0.1-2.5h0m0.2 3h0m0.1-4.8h0m0.2 3.2h0m0.3-3.6h0m0-0.3h0m0.1 1.8h0m0.1 0.5h0m0-1.7h0m0.5 2.9h0m0.1 1.6h0m0.1-3.3h0m0.5-0.3h0m0.1-0.4h0m0.6 2.6h0m0-3.1h0m0 3.4h0m0.5-4.2h0m0.3 4.3h0m0.1 1.2h0m0-3.9h0m2 3.7h0m0.3-5.3h0m0.1 0.8h0m0.1-0.2h0m0 0.5h0m0.1-0.9h0m0 4.8h0m1-4.7h0m0.8 2.8h0m0.9-1.8h0m0.7 0h0m0.8 3.6h0m0.2-1.1h0m0.5-0.7h0m0.1-1.1h0m0.2-0.7h0m0.3 2h0m0.2 0.9h0m0.4-4.3h0m0.1 1.2h0m0-0.3h0m2.9 2.2h0m0.1-1.6h0m0.3-1.6h0m0.4 0h0m0.1 2.5h0m0.6 1.3h0m0.2-2.3h0m0.3-0.6h0m0.7 0.7h0m0.9 1.7h0m1.6 1.3h0m0.8-3.5h0m0.3 1.4h0m1.2-0.8h0m3.3 1.8h0m1.5 2h0m1.1-4.1h0m1.4 0.2h0m0.1 3.8h0m0.5-3.9h0m18-0.1h0m0.7 0.4h0m8.5-1.8h0m90.3 4.7h0m143.2-2.9h0m0.2-1.1h0m2.1 2.6h0m0.6-0.2h0m1.1-0.3h0m0.5 1.1h0m0.1-0.1h0m0.9-2h0m0.4-1.8h0m0.5 5.6h0m0.6-1.7h0m2 1.3h0m1 0.2h0m0.1-2.4h0m0.3 1.9h0m1.9 0.2h0m0.4-2.1h0m0-2.7h0m0.2 2.7h0m0.1 2.8h0m0.5-2.4h0m0.3-2.6h0m0.6 4.9h0m1.2-5.1h0m0.6 1.2h0m0.1 2.8h0m0.6-2.4h0m0.2 1h0m0.4 1.2h0m2.6-1h0m0-1.1h0m0.7-0.9h0m0.4 3.1h0m0.4-4.4h0m1.2 3.9h0m0.3-0.9h0m0.1-2.8h0m1.1-0.2h0m1.8 2.3h0m2.8 0.3h0m0.5 0.7h0m2.9-0.1h0m3.4 2h0m-385.7 2.4h0m0.3 2.7h0m0 0.6h0m0.1 0.5h0m0-2.9h0m0 2.9h0m0 0h0m0.1-0.6h0m0 0.1h0m0.1-3.9h0m0 0.8h0m0 1.6h0m0.1 1.6h0m0-1.9h0m0 1.2h0m0.1-3.8h0m0 5h0m0.1-2.5h0m0 2.5h0m0.1-4.2h0m0 1.5h0m0.1-0.3h0m0.1 1.3h0m0 1.3h0m0.1-3.4h0m0.1 1.9h0m0 0.2h0m0.1 1.6h0m0.1-3.5h0m0 3.9h0m0.1-1.1h0m0-0.2h0m0-4.6h0m0 0.2h0m0 3.6h0m0 0.9h0m0.4-1.8h0m0.3 1.3h0m0.1 0.4h0m0-2.3h0m0-0.8h0m0.1 4.1h0m0 0.3h0m0-1.6h0m0.1 1h0m0.1-0.9h0m0.1-1.4h0m0-2.1h0m0.1 3.4h0m0.1-3.2h0m0 4.7h0m0-4.6h0m0.4 3.6h0m0-2.9h0m0.1 2h0m0.1 0.8h0m0-0.9h0m0.1-2.7h0m0.3-0.7h0m0 5h0m0.1-1.8h0m0-1h0m0-1.9h0m0.2 4.9h0m0-0.2h0m0-3.6h0m0.2 4h0m0.2-1.1h0m0-3.8h0m0 3.4h0m0.1 0.9h0m0.2-4.2h0m0 0.3h0m0.2-0.1h0m0.1 4.4h0m0.2-0.2h0m0-3.5h0m0.1-0.5h0m0 1.3h0m0.1 0.1h0m0.1 2.4h0m0-4.9h0m0 0.4h0m0-0.3h0m0.1 5.3h0m0.1-3.8h0m0-1h0m0.1 2.9h0m0.1-0.7h0m0-0.9h0m0.1-0.7h0m0.1 0.7h0m0.1-1.2h0m0 4.9h0m0-5.3h0m0.1-0.5h0m0.5 0h0m0.1 3.6h0m0 1.4h0m0.1-2.9h0m0-0.4h0m0.3 1.7h0m0 1.8h0m0-3.7h0m0.1 1.3h0m0.1 0.7h0m0-2.1h0m0 3.1h0m0.1-1.5h0m0.2 1.4h0m0.1-1.6h0m0.1 0h0m0.3-0.9h0m0.1 1.8h0m0-0.8h0m0.1 1.7h0m0.2-0.3h0m0.1-2.4h0m0 1.9h0m0.1 1.1h0m0 0.1h0m0.1-1.2h0m0 0.8h0m0.2-4.1h0m0.2 4.2h0m0.1 0.2h0m0.1-2.1h0m0-0.9h0m0.1 1.6h0m0.1-3.4h0m0 2.5h0m0 0.5h0m0.1 1.9h0m0.2-3.3h0m0 1.5h0m0.1 1.8h0m0.1-2.2h0m0.1-1h0m0 1.7h0m0.3-2.8h0m0.2 2.2h0m0.1-0.5h0m0.3-0.7h0m0 0.1h0m0.1 1.3h0m0.1 1.5h0m0-0.5h0m0 1.1h0m0.3-5h0m0 3.4h0m0-1.3h0m0.1 1.1h0m0.1-2.5h0m0-0.5h0m0.1 3.9h0m0 0.8h0m0.1-3.6h0m0.1-1.6h0m0.1 1.2h0m0 0.5h0m0 3.1h0m0.2 1h0m0.1-2.6h0m0.1-3.1h0m0 5.8h0m0.1-0.9h0m0-3.7h0m0.1 4.2h0m0-3.5h0m0.1 2h0m0-0.2h0m0.2-0.1h0m0 0.8h0m0.2-3.4h0m0.2 0.3h0m0 4.4h0m0.1-0.7h0m0.1-4.1h0m0.2 2.2h0m0-0.9h0m0.1-1.6h0m0.1 2.3h0m0.1 1.3h0m0.1-2.3h0m0-0.1h0m0.1 3.5h0m0-1.9h0m0.2 0.5h0m0-1.4h0m0 2.7h0m0.2-2.5h0m0 0.9h0m0-1.5h0m0.1-1.5h0m0.1 4.3h0m0.2-5h0m0 4.4h0m0.1-2h0m0.1-2.3h0m0 5.2h0m0-2.8h0m0.3 1.8h0m0-2.5h0m0.5 1.3h0m0 2h0m0.1-2.6h0m0.2-0.1h0m0.2 1.6h0m0-2.4h0m0.2 1.8h0m0-1.2h0m0.1 2.6h0m0.1 0.8h0m0.1-1.2h0m0.1-3.2h0m0.2 4.4h0m0-0.2h0m0.1-0.4h0m0.1-0.9h0m0.1-3.8h0m0.1 5.3h0m0.1-2h0m0.1-1.8h0m0 2.2h0m0.1 1.5h0m0.1-3.5h0m0.1 2.3h0m0-2.8h0m0-0.4h0m0 3.8h0m0.1-1h0m0.1-1h0m0-1.1h0m0.1 3.3h0m0.2 0.1h0m0-3.1h0m0.1 0.7h0m0-2.2h0m0 0.1h0m0.1 1.1h0m0.1 0h0m0 2.2h0m0 1.6h0m0-3.9h0m0 0.3h0m0.1 1.5h0m0-2.9h0m0.2 1h0m0 1.7h0m0.1 0.9h0m0.1-1.3h0m0 1.2h0m0.1-3.3h0m0.1 0.2h0m0.1 0h0m0.1-0.5h0m0.1 4.6h0m0-3.9h0m0.2 2.4h0m0.1 1.2h0m0.1-1h0m0 2.1h0m0.1-2.6h0m0.2-2.4h0m0.2 4.6h0m0.1-3h0m0-1.7h0m0.1 1.8h0m0-2h0m0 1.9h0m0-1.7h0m0 2.3h0m0.2 0.4h0m0-0.7h0m0.1 2h0m0.1-4.8h0m0 3.7h0m0-3.6h0m0.1 4.5h0m0-2.6h0m0.1 0.2h0m0.1-1.5h0m0.2-0.6h0m0 2.1h0m0.1-1.9h0m0 0.9h0m0.1 3.7h0m0-1.6h0m0.1-2.5h0m0.1-0.1h0m0.3 2.7h0m0-2.8h0m0.1 1.1h0m0 3.7h0m0-1.3h0m0.1-3.8h0m0 5.6h0m0.2-2.4h0m0.1 0.7h0m0-3.3h0m0.1 0.3h0m0 3.4h0m0-1.8h0m0 2.7h0m0-5h0m0 3.7h0m0.1-1.2h0m0 1.7h0m0.1-4.3h0m0 2h0m0.1-1.2h0m0 2.5h0m0 1.6h0m0.1-1.7h0m0-2h0m0 1.1h0m0.1 1.2h0m0-3.7h0m0 5.1h0m0.1-1.3h0m0-2.6h0m0.1 1.7h0m0-0.9h0m0.1 1.9h0m0-0.8h0m0 2.4h0m0-0.6h0m0.1-4.1h0m0 1.4h0m0 0.8h0m0.1 2.2h0m0-4.3h0m0.1 3.1h0m0-1.6h0m0.1 1.6h0m0 1h0m0.1-3h0m0 1.7h0m0.1-1.6h0m0-1.4h0m0-0.1h0m0 2.9h0m0.1 0.7h0m0-2.3h0m0.1 1.9h0m0-2.9h0m0.1 0.7h0m0.1-0.1h0m0-1h0m0.1 3.8h0m0-0.7h0m0.4 0h0m0 0.9h0m0.1-0.4h0m0-0.1h0m0.2-2.2h0m0 3.1h0m0.2-3.4h0m0.1 3.1h0m0-3.8h0m0-0.9h0m0.1 1.2h0m0.1 0.9h0m0.3 0.6h0m0.1-0.1h0m0.1-1.9h0m0.1 2.8h0m0.1-0.1h0m0.1 0.8h0m0-0.8h0m0.1 1.1h0m0-1.7h0m0.1 0.5h0m0.1-3.1h0m0.1 1h0m0 2.9h0m0.1 1.4h0m0.1-3.3h0m0.1-1.1h0m0.1 1.6h0m0 0.9h0m0.1 2.1h0m0-5h0m0.1 2h0m0-0.6h0m0.1 2.7h0m0.1-2.3h0m0.1 1h0m0-0.5h0m0 2.1h0m0.2-1.5h0m0 1.8h0m0.1-3.9h0m0.1-1.4h0m0.1 2.3h0m0.1 0.1h0m0-0.1h0m0.1 2.9h0m0 0.2h0m0.1-0.7h0m0.1-4.8h0m0 1.6h0m0.2 3.4h0m0.1-2.2h0m0-1.5h0m0.1 0.3h0m0.2-1.3h0m0.1 2.2h0m0.1-0.3h0m0 1.1h0m0.1-2.2h0m0.1 0.9h0m0 1h0m0-1.9h0m0.1 4h0m0.2-4.4h0m0 0.8h0m0.5 0.9h0m0.1 2.1h0m0-2.2h0m0 2.7h0m0.1-2.2h0m0.1-1.9h0m0.1 4.7h0m0-1.7h0m0.3-0.3h0m0-1.7h0m0 0.9h0m0.1 1.7h0m0.1-4.4h0m0.1 1.2h0m0.1 1h0m0 1.5h0m0 1.1h0m0.2 0.8h0m0.1-1.2h0m0-4.2h0m0 2.3h0m0.2-2.6h0m0 2h0m0.2 2.7h0m0.2-1.8h0m0.3-2.5h0m0.1 1.3h0m0.3 0.6h0m0.3-0.9h0m0.1 1h0m0 0.8h0m0.2-2.1h0m0 2.2h0m0.3 2.2h0m0.2-4.6h0m0 1.6h0m0.3 2.9h0m0.1-3.7h0m0 3.5h0m0.1-3.4h0m0.2 1.9h0m0-2.7h0m0.1 0h0m0.3 4h0m0-2.2h0m0-2.9h0m0.1 0.5h0m0 3h0m0.1-1.9h0m0.2-0.6h0m0 1.1h0m0.3-1.6h0m0 1.2h0m0 1.7h0m0.1 0.4h0m0.1-3.7h0m0.2 1.1h0m0.1-0.7h0m0.2 1h0m0.3-0.6h0m0.1 4.9h0m0-1.9h0m0.1-2h0m0-0.6h0m0.1 1.4h0m0-1.5h0m0.2 1.5h0m0.3-1h0m0 2.9h0m0.3 0.4h0m0.2-3.7h0m0.1 1h0m0.1-0.8h0m0 1.9h0m0.1 1h0m0.1-1.2h0m0.3 0.9h0m0-0.5h0m0.2-1.8h0m0.1 1.3h0m0.1 1.3h0m0-3.3h0m0.2 0.5h0m0.2 4.3h0m0-5.8h0m0.7 3.9h0m0.2-3.8h0m0.1 2.1h0m0.2-0.9h0m0.1 4h0m0.1-4.4h0m0 2.4h0m0.1-2.7h0m0.3 3.9h0m0.4-1h0m0.2-1.3h0m0.1-1.8h0m0.1 3.5h0m0.3-2.3h0m0 1.7h0m0.1-0.9h0m0.1-0.2h0m0.1 0.7h0m0.1 1.8h0m0.4-3.4h0m0.2 3.3h0m0-1.2h0m0.4-2.7h0m0.1 1.8h0m0.2 2.4h0m0-3.2h0m0 0h0m0.2-1.5h0m0 1.2h0m0.1 1.7h0m0.1-1.8h0m0 2.7h0m0.1-1.7h0m0-2.4h0m0.1 2.8h0m1.1 1.4h0m0.3-4.1h0m0.1 0.5h0m0 4.7h0m0.3-4.1h0m0.3 0.2h0m0 1.8h0m0.2 0.1h0m0.1 2.3h0m0.5-5.5h0m0.6 3.2h0m0.1-3.1h0m0.2 2.9h0m1.1 0h0m0.6-2.6h0m0.4-0.2h0m0.3-0.2h0m0.2 5.8h0m0.2-4.9h0m0.1 1.8h0m0.1-2.1h0m0.4 0.1h0m1.1 0.5h0m0.6 4.1h0m1.5-5.3h0m0.9 2h0m1.3 2.4h0m0.7-2.7h0m0.6-1.1h0m0.3-0.7h0m3.6 0.6h0m0.2 0.1h0m0.6 1.9h0m0.6-0.9h0m1.1 1.6h0m2.5-2.4h0m0.1 2.9h0m1.5-2.1h0m1.3-1.5h0m0.7 0.4h0m1.5 0.8h0m4.7-0.4h0m0.5 2.5h0m10.4-2.3h0m12.8-0.1h0m103.9 3.5h0m0-1.9h0m0.9-1.1h0m0.3-1.1h0m1.5 2.3h0m0.1-2.6h0m145.6 2.1h0m0.1-0.7h0m1.6-1.6h0m0.2 0.1h0m3.7 4.1h0m0.8 0.5h0m0.3-3.3h0m0.6-0.6h0m0.1 3h0m1.4-1.4h0m4.7 1.1h0m0.4 1.6h0m1.9-4.3h0m0.2 3.1h0m1.8-3.2h0m2.8-0.1h0m1.4-0.6h0m2.5 2.1h0m0.9-1.2h0m0.6 3.3h0m-380.5 2.1h0m0 0.3h0m0.1-0.4h0m0 2.3h0m0-1.8h0m0 0.2h0m0.1 1.5h0m0-0.9h0m0.1 0.1h0m0.1-0.6h0m0 0.6h0m0-0.9h0m0 1.6h0m0-0.5h0m0 0.1h0m0.1-1.8h0m0 0.5h0m0 2.1h0m0 0.1h0m0.1-0.2h0m0 0.2h0m0-2.6h0m0 2.9h0m0-2.2h0m0.1 1.8h0m0 0.1h0m0 0.4h0m0-0.2h0m0-2.6h0m0 0.9h0m0.1 1.2h0m0-0.2h0m0-0.4h0m0.1-0.5h0m0 1h0m0 0.9h0m0-2.1h0m0.1 1.6h0m0-0.8h0m0 1.8h0m0.1-2.8h0m0 2.9h0m0 0.5h0m0-3.4h0m0 3.5h0m0-2h0m0.1 1.7h0m0 0h0m0-1.5h0m0 0.1h0m0.1 0.6h0m0.1-0.2h0m0 0.5h0m0.1 0.1h0m0.1-1.6h0m0-0.7h0m0 1.5h0m0-1.6h0m0.1 1.5h0m0-0.9h0m0-1.5h0m0.1-0.1h0m0.1 1.4h0m0-1.4h0m0.1 2.5h0m0-1.1h0m0 0.4h0m0-1.5h0m0.1 0.5h0m0.1-0.5h0m0.1 0.1h0m0 2.5h0m0.1-0.1h0m0-1.1h0m0.2 0.9h0m0-2h0m0 0.9h0m0-1.4h0m0 2.7h0m0.1-0.1h0m0.1-1.2h0m0.2 0.5h0m0 0.4h0m0-0.8h0m0.1 0h0m0.1-1.8h0m0 3.1h0m0.2-1.8h0m0.1 0.7h0m0.1 0.3h0m0.1 1.4h0m0-2.3h0m0-0.3h0m0-0.9h0m0.1 0.3h0m0-0.7h0m0 3.2h0m0.1 0.3h0m0.2 0.7h0m0.1-2.9h0m0 3.2h0m0.1 0h0m0-0.6h0m0-2.9h0m0.1-0.6h0m0 1.4h0m0-1.1h0m0.2 1.6h0m0.1-1.5h0m0.2 1.9h0m0.1 0.4h0m0-2.4h0m0.1 1h0m0 2.2h0m0.1 0.5h0m0-4.1h0m0.3 3.9h0m0-4.2h0m0.1 2.1h0m0.1 0.8h0m0.1-0.9h0m0.2 2.2h0m0.1-1.9h0m0-0.4h0m0.2 0.8h0m0-0.1h0m0-2h0m0.1 0.4h0m0.2 1.7h0m0.2 1h0m0-2.2h0m0.2-0.4h0m0.4 3.4h0m0.1-4.1h0m0 2.6h0m0-2.8h0m0.1 1.3h0m0 0.5h0m0.3-1.7h0m0.2 3.1h0m0-1.6h0m0-1.2h0m0 0.6h0m0.3 0.9h0m0.1-0.3h0m0 2.2h0m0.1-2.3h0m0-1.5h0m0.1 2.6h0m0.2-0.3h0m0.1 1.8h0m0.3-3.4h0m0 3.3h0m0.3-3.4h0m0.1 2.6h0m0-1.5h0m0-1.1h0m0.1 3.3h0m0-1.9h0m0.3-2.1h0m0.1 2h0m0 1.7h0m0.1-0.9h0m0-1.8h0m0 1h0m0.1-1.5h0m0.1 0.3h0m0 1.3h0m0.1-1h0m0.1 0.1h0m0 1.8h0m0.1-1.2h0m0.1-0.9h0m0.2 0.2h0m0.2 0.2h0m0.2-0.9h0m0 1.1h0m0 2.4h0m0.3-3.2h0m0.3-0.1h0m0.1 1.3h0m0.4 0.4h0m0.2 0.7h0m0.1-2.2h0m0 1.1h0m0.2 1.3h0m0-0.7h0m0.1-0.4h0m0.1 0h0m0.1 1.1h0m0-0.8h0m0.1-1.8h0m0.1 3.5h0m0.3-2.6h0m0.3-0.2h0m0-0.6h0m0-0.3h0m0.2 2.1h0m0-0.2h0m0.1 0.1h0m0-0.3h0m0.3 0.6h0m0.1-1.5h0m0.2-1.3h0m0.2 0.8h0m0.1 1.1h0m0.1 0.9h0m0.1-0.8h0m0.1-0.4h0m0.1-1.1h0m0 2.4h0m0.3-2.9h0m0.1 2.3h0m0.4-2.1h0m0 1.8h0m0.1 1.4h0m0.3-2.7h0m0.1 0.6h0m0.2 1.2h0m0.1-0.2h0m0.2 1.6h0m0 0.2h0m0-2.6h0m0.1-1.4h0m0.1 2.7h0m0.1-2h0m0.3-0.8h0m0.1 2.5h0m0-1.6h0m0.1-0.4h0m0 1.5h0m0.1-0.2h0m0.2 1.2h0m0.1-1.1h0m0.1 1.8h0m0-1.6h0m0-1.6h0m0 3.3h0m0.2-2.4h0m0 0.5h0m0.3 0.9h0m0-1.8h0m0.1 1.4h0m0.2-2.2h0m0.1 2.6h0m0.1-0.6h0m0.2-0.1h0m0.2-0.7h0m0 3.1h0m0.2-2.8h0m0-0.3h0m0.3 0.3h0m0.1 1.4h0m0.1-2.8h0m0.1 2.9h0m0.1-2.4h0m0.1 1.8h0m0-1.9h0m0.2 1h0m0 0.2h0m0.1-0.9h0m0.3 0.3h0m0.1 0.3h0m0.1 1.6h0m0.1-3.2h0m0.1 2.6h0m0.3-0.3h0m0.1-1.7h0m0.1 2h0m0.2-1.4h0m0.2-0.6h0m0 1.5h0m0.1-0.6h0m0-0.2h0m0.1 1.7h0m0.2-2.9h0m0.8 1.1h0m0.1 2.4h0m0.1 0h0m0.1 0.6h0m0.1-3.7h0m0.1 1.5h0m0.2-0.8h0m0.1 1.6h0m0.1-1.9h0m0 0.5h0m0-1h0m0 0.5h0m0.3 0h0m0.1 0.2h0m0.1 2.3h0m0.1-1.7h0m0-0.6h0m0.2 0h0m0.1 0.9h0m0.1 0h0m0.1 2.4h0m0.1-4.2h0m0.1 4h0m0.1-0.4h0m0.6-1.2h0m0-2.2h0m0.2-0.2h0m0 0.3h0m0.1 1.2h0m0.1 0.4h0m0-1.6h0m0.1 0.9h0m0.1 3h0m0.2-1.5h0m0.1 1.4h0m0.3-3.7h0m0.3 1.4h0m0.8-1.1h0m0.3 0h0m0.1-0.3h0m0.1-0.5h0m0.2 3.4h0m0.5-2.9h0m1.2-0.1h0m0.1 1.4h0m0.2 0h0m0.1 1h0m0.1 0.7h0m0.8 0.4h0m0-0.9h0m0.3-1.9h0m0.4 0.1h0m0.6 0.3h0m0.1 0.3h0m0.4 0.4h0m0.4-2h0m0.2 3h0m0.2-3.2h0m0.1 1.2h0m0.5 2.4h0m0.1-0.7h0m0.3-2.6h0m0.2 0.5h0m0.2 0.8h0m0.2 0.4h0m0.6 0.7h0m0.5 0.2h0m0.1-1.9h0m0.4 1.1h0m1-1.9h0m0.1-0.1h0m0.3 3.2h0m0.7-2.8h0m0.2-0.2h0m0.2 4h0m1-2.5h0m1.3-0.6h0m1 2.1h0m0.6-3.4h0m3.5 2.9h0m0 1.6h0m0.2-4.2h0m0.2 1.3h0m4.5 0.6h0m2.1-0.5h0m1.9-0.2h0m1.3-0.6h0m144.1 1h0m3.7 1.4h0m1.4 1.2h0m0.1-1.2h0m149.5-3.2h0m5.2 3.9h0m2.5-2.1h0m3.2 0.6h0m11.4 0.9h0m2.7-3.3h0m-363 87.2h0m170.9 1.5h0m14.1-2.1h0m0.5 2h0m1.8-2.7h0m2.6 2.4h0m0.2-1.9h0m1.1 2.9h0m3.4-2.2h0m1.9 0.9h0m162.4-1.5h0m0.5-2.1h0m-368.6 5.8h0m172.1 0.9h0m17 3.2h0m5.6-4h0m0.5 3.9h0m0.4-1.9h0m0.4-0.8h0m1.2 3.4h0m0.7 0.9h0m1.7-1.2h0m0.8 0.8h0m2.1-3.5h0m153.2 1.2h0m1.3 0.7h0m3.4-3.7h0m0.2 3.7h0m0.8-2.7h0m1.1-1.1h0m0.6 3.2h0m0.5 0.6h0m0 0.2h0m0.8 0h0m2.2-1.9h0m0.4-2h0m0.5 0.1h0m0.1 3.3h0m0.5-1.6h0m1 2.4h0m2.3-1.1h0m0.2 0.2h0m2.4-0.7h0m2.1 1.5h0m6.5-3.8h0m-218.6 7.2h0m0.4 4.2h0m2.2-1.6h0m2.2 0.6h0m4-0.4h0m1.7-2.8h0m1.1 1.6h0m3-2.1h0m0-0.1h0m5.9 0.2h0m0.8 2.1h0m0.7-2.4h0m5.3-0.7h0m0.2-0.1h0m2.4 4.3h0m3.2-3.9h0m0.2 0.5h0m0.2 0.1h0m0.5 3.5h0m1.2-1.2h0m0.3-0.7h0m2.4 0.4h0m146.1 2.2h0m2.4-1.8h0m7.8 1.9h0m0.4-0.8h0m4.4 0.1h0m1.8-0.9h0m0.9 0.9h0m1.5-2.6h0m0.4 1h0m0.2-2.2h0m0.6 3.1h0m1.4-4h0m7.2 3.7h0m-215.4 3.8h0m2.4-1.2h0m3.6 1.3h0m4.1 2.4h0m3.7 1.2h0m0.1 0.2h0m5-1.5h0m1.1-4h0m1.2 5.6h0m2.9-1.8h0m1-3.6h0m0.8 2h0m2.4 1.6h0m1.6-1.2h0m3.8 3.1h0m2.6-5.6h0m1.5 5.4h0m146-3.3h0m2.4-0.6h0m5.6-1.3h0m2.8 5.1h0m4.7-2.3h0m1.5-0.6h0m4.4-1.9h0m0.4 0.2h0m1.4 1.3h0m4.4-1.4h0m-209.1 8.2h0m0.4 2.9h0m1.1-4.7h0m2.4 2.2h0m5.4-2.9h0m1.8 2h0m3.1 2.7h0m1.9-2.5h0m0.3-0.2h0m2.3-1.3h0m1.1-0.1h0m0.3 3.8h0m2.4-3.7h0m0 0.2h0m3.6 4.1h0m1.7-1.6h0m1 1.5h0m0.3-2.2h0m6 1h0m0.5-0.3h0m0.1-3.6h0m2.4 2.1h0m1.6 0.8h0m1.6-0.1h0m143.3 0h0m3.1 1.8h0m4.1-2.9h0m8 2.7h0m2-0.1h0m9.8 1h0m0.5-0.9h0m1-2.1h0m-207.6 6.7h0m1.3 0.6h0m1.5 1.5h0m1-3.4h0m1 0.4h0m2 0.9h0m1.9 2.2h0m2-1.5h0m2.1-0.4h0m0.4-2.1h0m0.6 1.6h0m3.6 1.6h0m1.4-1.3h0m1.4 0.4h0m1.1-0.2h0m2.7 1.2h0m1.3-3h0m14.4 0.3h0m139.7-0.7h0m2.5 3.6h0m2-1.5h0m1.8 0.3h0m2.2-3.3h0m3.2 0.6h0m0 2h0m1.4 2.7h0m1.6-5.4h0m2.1 3.9h0m2 0.6h0m1.4-4.8h0m1.2 0.2h0m-205.1 8h0m1.6 1.5h0m6.7 2.2h0m8-0.4h0m2.3-2.3h0m0.8-0.3h0m0.1-2.2h0m1.1 4.6h0m0.1-1.1h0m0.2-3.9h0m1.3 2.1h0m1.1 0.1h0m0.2 0.7h0m0.8-1.6h0m1.3 2.8h0m1.2-2.2h0m3.1 0.6h0m0.5 2h0m0.7-2.4h0m1.3-1.8h0m8.3 1.7h0m0.1 0.3h0m139.6-0.8h0m2.1-0.4h0m0.7 0.3h0m3.9 3.2h0m2.2-4.8h0m2.2 1.6h0m1.5 4h0m1-3.7h0m3.7 1.9h0m2.3 0.9h0m1.1-0.9h0m0.7 0.3h0m1.7-2.1h0m0.4-1.8h0m6.6 2h0m6.7 2.7h0m-211.1 2h0m1.3 2.4h0m2.7 2.4h0m1.2-3.2h0m0.2-2.2h0m0.1 0.1h0m1.6 1.1h0m0.2 2.7h0m0.2-1.6h0m1.2-2.1h0m0.7 2h0m3.5 1.7h0m0.9 0.4h0m5.7-1.9h0m0.8-1.6h0m3.2 2.5h0m2.8-2.9h0m0.5 2.4h0m4.5-1.7h0m0.2 3.3h0m142.6-1h0m1.9-0.4h0m0.3-0.6h0m0-0.3h0m0.5 1.6h0m2.1-1.7h0m0.7 1.9h0m0.2 1.2h0m1.1-1.9h0m0.7-0.9h0m0.1 1.6h0m0.3-4.3h0m0.1 2h0m2.4 0.9h0m0.6-0.5h0m0.8 0h0m2.6-1.7h0m0.5 4.8h0m6.7 0.3h0m3.3-2.4h0m0.1 0.1h0m1.6-1.1h0m3.6 1.3h0m1.1-2.6h0m-369.4 7.4h0m5.8 2.1h0m3.4-0.6h0m8.8-2.8h0m1.3 2.6h0m135.7 1.2h0m0.7-0.9h0m2.1-2.3h0m5.4 0.2h0m1.8 1.4h0m6.4-2h0m0.4 3.8h0m3.1-3.6h0m2.6 1.8h0m3.2-3.3h0m4.3 1.8h0m0.7 3.4h0m2.5-3.2h0m3.2 1.4h0m1.7 0.6h0m135.8-1.9h0m3.8 0.4h0m9.3-0.9h0m0.2 0.6h0m1.5 1.9h0m2.3-2.6h0m0.1 3h0m0.2-4.6h0m0.1 1.2h0m2.8-0.7h0m1.2 2.7h0m1-1.6h0m0.4-0.9h0m5.2 1.2h0m5.3-1.1h0m1.6-0.6h0m3.1 3.7h0m0.2 0.3h0m-386.8 2.1h0m12.5 5.2h0m4.8-0.8h0m16.9 0h0m0-3h0m0.5 1.5h0m0.2 0.1h0m0.6-1.1h0m0.9 3.5h0m51.8-3.5h0m2.6 0.8h0m86.2-1.4h0m3.9 2.9h0m1.5-4.3h0m5.8 4.3h0m3.8-1.3h0m1 1.8h0m0-1.3h0m0.7-3h0m2.1 1h0m0.9 2.4h0m1.5-0.2h0m0.3-0.8h0m2.5 0h0m4.9-0.2h0m1.1 1.3h0m2-0.7h0m4.6-0.9h0m138 0.1h0m1.3-1.9h0m0.9 0h0m4.5-0.8h0m0.4 5h0m6.9 0.9h0m1.8-1.9h0m0.6-1.8h0m2.7 3.2h0m3.6 0.2h0m0.1-0.6h0m1.9-3.4h0m1.1-0.9h0m0.4 1.5h0m1.6 0.2h0m2.2 3.2h0m0.5-2.9h0m-373.6 7.3h0m12-2.4h0m5.2 1.6h0m2.7 2.1h0m1.8-2.9h0m1.7 2.8h0m0.9-4.3h0m1.4 1.2h0m8.2-1.4h0m5.6 1.5h0m21.6 0.8h0m4.4 2.6h0m5.2-1.3h0m96.3-1.8h0m1.9-2.3h0m8.3 1.7h0m0.4 2h0m5.8-3.6h0m0.2 0.9h0m0.8 0.6h0m2.2 3.1h0m1.4-2.5h0m3.7-0.9h0m1.7 3.5h0m3.8 0.7h0m2-1.2h0m8.2-1.3h0m136.4-2.1h0m2.4-1.1h0m2.3 0.6h0m0.7 4.1h0m2.1-2.4h0m2.1-0.8h0m2.1 0.2h0m4.7-0.5h0m5.1 0.4h0m0-0.1h0m0.3-1.2h0m6.7 3.2h0m2.1 0.4h0m3.3-1.3h0m1.6-0.4h0m0.2 3.1h0m1.1-0.6h0m11.2-2h0m0.4 3.3h0m-394.7 3.8h0m11.9-2.2h0m0.1 2.1h0m1.5-0.7h0m0.5-2.8h0m3.6 1.2h0m2.7-0.4h0m0.5 1h0m0.6-1.8h0m1 5.2h0m3.9-4.6h0m2.3-0.2h0m8.2 4.7h0m1.3-2.6h0m14.3 0.5h0m19.5 0.8h0m22.1 0h0m1.2-3.4h0m71 4.3h0m2.7-4.3h0m2.4 4h0m3.8-3.8h0m3 3.3h0m1.2-2.4h0m0.1 2.5h0m5.1-3.5h0m1.3 0.9h0m1 0.5h0m1.6 0.2h0m1 3.2h0m3.4-4.7h0m4.7 3h0m0.8 0.1h0m0.3 2h0m10.8-4.5h0m135.4-0.3h0m1.2 0.2h0m7 2.3h0m0.7-1h0m0.6-1.7h0m1.6 3.7h0m2.3-4.1h0m1.7 1.2h0m3.5 1h0m3.7-0.7h0m2.1-1.8h0m0.9 2.2h0m0.1-0.7h0m2.4-0.7h0m1.6 0.1h0m1.4-0.7h0m1.6 2.6h0m2.2 0.9h0m2.5 1.3h0m1.3-3.7h0m-385.3 9.2h0m0-2.4h0m3.8-1.1h0m0.9 1.8h0m1 2.2h0m5.4-0.7h0m1.2-2.1h0m0.3 2h0m1.1-2.9h0m1.5-0.2h0m1.8 2.8h0m4.4 1.6h0m14.1-5.1h0m12 3.9h0m7-0.5h0m20.8 0.5h0m7.8-3.2h0m11.6 3.2h0m13-3.4h0m61.1 4h0m1 0.1h0m2-1h0m0.2-1.1h0m0.6 0.5h0m4.1-2.2h0m4.1-0.3h0m0.4 4.4h0m0-2h0m0.7 0.9h0m1.2-3.8h0m3.6 0h0m0.1 4h0m1-1.7h0m0.4-2h0m0.1-0.4h0m0.1 4.3h0m0 0.7h0m0.8-0.5h0m6.2-4.7h0m0.5 4h0m1.3-1.3h0m1.7 2.8h0m0.8-0.5h0m1.5-0.9h0m2.7-0.7h0m6.4 2.1h0m137.3 0h0m2.6-3.8h0m1.3-1.7h0m0.2 3.8h0m0.3-2.3h0m6.1 3.5h0m1.7-4.3h0m0.9-0.1h0m2.3-0.7h0m0.3 3.9h0m0-0.9h0m0.5-0.1h0m4-0.8h0m0.3 3.4h0m0.4 0.2h0m1.2-1.9h0m0.1-3.2h0m2.7 0.8h0m0.1 3.9h0m1.2-1.2h0m2 1.4h0m1.5-4.1h0m1.3 2.2h0m3.6-1.9h0m0.9 2.5h0m-391.6 3.9h0m2.8 0h0m1 0.9h0m3.7-1.6h0m0.6 3.8h0m0.4-5.2h0m0.4 2.9h0m0.2-2.3h0m0.4 2.8h0m0.3 2h0m0.4-0.3h0m0.2 0h0m0.1-1h0m0.1-1h0m0.5-0.6h0m0.9 3.1h0m0-4.2h0m1.3 3.4h0m0.4-0.8h0m0.2-3.5h0m0.6 5.2h0m0-0.9h0m0.4-4.2h0m0-0.4h0m0.7 3.8h0m0.5-1.9h0m0.6 0.1h0m0.1-0.2h0m0.1 3.5h0m0-2.9h0m1.1 2.2h0m2-4.5h0m0.5 0.2h0m0.5 5.1h0m0.8-2.9h0m0.2 1.5h0m0.6 0h0m2.5-2.5h0m0.6 3.9h0m0.3-3.6h0m0.6 2.6h0m1.1-4.8h0m2.8 2.3h0m14.3-1.3h0m28.6 0.6h0m16.3 3.4h0m87.4-2.6h0m0.2 1.5h0m0.2 0.4h0m1.4-2.7h0m0 3.1h0m0.9-3.2h0m0.8-0.3h0m1.8 3.8h0m0.6-2.3h0m0.2 2.9h0m0.3-1.4h0m1.2 0.2h0m0.2-0.2h0m0.1-2.1h0m1.1 1.7h0m0.2 0.8h0m0.5-2.4h0m1.6 1.9h0m0.2-2h0m0.5 2.1h0m1.3-1.3h0m0.5 1.7h0m0.2 0.8h0m0.7-0.9h0m0.8 0h0m0.2 0.7h0m0.1-4.1h0m0.1 2.5h0m0.2-1.5h0m0.5 0.4h0m0.6 3.4h0m0.3-4.2h0m0.2 3.7h0m0-0.2h0m0.6-2.4h0m0.3 1.3h0m0.8 1.4h0m0.8-1.3h0m0.6-1.8h0m0.4 0.5h0m0.3 1.1h0m0.4-0.5h0m0 0.2h0m0.1 1.1h0m0-1.2h0m0.7-0.1h0m1.7-1.1h0m0 0.8h0m0.6 0.7h0m0.9-3.3h0m0.2 3.9h0m0-1.6h0m0.2-1.7h0m0.3 0.6h0m0.9 2.8h0m0.6 0.5h0m0.4-3.1h0m0.7-0.8h0m0.2 4h0m0.1-2h0m0.2-1.9h0m0.6 1.3h0m1.2 0.3h0m0.4 2.7h0m0.3-1.7h0m1.1 1.3h0m1.8-2.1h0m0.5-0.7h0m0.9 0.7h0m0.6-1h0m5.2-1.6h0m1.5 2.9h0m3 2.2h0m129.1 0.2h0m2.5-0.3h0m1-4h0m0.2 0.5h0m0 3.6h0m0.9-2.5h0m0.6-0.3h0m0.5-2.8h0m3.6 5.3h0m0.8 0.2h0m0.4-4.9h0m0.6 4.8h0m0.9-2.8h0m0.5 3.3h0m0.6-4.4h0m1 2h0m1.6 1.5h0m0.8-1.1h0m0.3 2h0m1.1-0.6h0m0.1 0h0m1-2.1h0m0.5 2.1h0m1.6-0.6h0m0.3-0.5h0m0.2 0.3h0m0.7-1.5h0m0.4-2.4h0m1.7 2h0m0.3 2.1h0m0.4 0h0m0.6 1.1h0m1.7-0.8h0m0.6-0.2h0m0.4 0.9h0m0.8-0.2h0m4.9-3.5h0m1.1 0.4h0m0.2 0.6h0m1.6 2.6h0m0.6-2.7h0m0.2-1.8h0m0.8 3.2h0m4.4 0.2h0m1.4 0.4h0m10.6 0.1h0m-409.1 6h0m1.5 0.6h0m1.2 0.1h0m2.2-4.3h0m2.8 4.2h0m0.7-1.7h0m1.4 1.1h0m0.2-1.8h0m0.2 2.7h0m0.9-1.2h0m0.5 0.3h0m0 0.6h0m0.2-0.8h0m0.7 0.8h0m0.5-3.4h0m0.5 2.3h0m0.5 1.3h0m0-4.9h0m0.1-0.4h0m0.6 3.8h0m0.6-0.8h0m0.1 0.7h0m0-2.6h0m0.3-1.4h0m0.2 5.3h0m0.5-3.7h0m0.3 2.2h0m0.3 0.1h0m0-2h0m0.2 0.7h0m0.1 0.9h0m0-2.7h0m0.1 4.7h0m0.2-2.4h0m0.3-1.3h0m0.7 0.7h0m0.8 0.8h0m0 2h0m0-0.7h0m0.3-3.5h0m0.2 4h0m0 0.1h0m0.1-2.9h0m0.1-0.6h0m0.2 0.9h0m0 1.7h0m0.1-0.3h0m0.1-0.3h0m0.2-2.6h0m0.3 2.7h0m0-0.8h0m0.3-0.7h0m0.1 3.4h0m0.1-4.1h0m0.1 2.8h0m0.4-0.2h0m1-2h0m0 2.2h0m0.6 1.1h0m0.1-0.8h0m0-4.6h0m0.1 4.1h0m0.1-1.9h0m0.6 2.9h0m0.1 0h0m0.1 0.2h0m0-0.7h0m0.8-1.2h0m0.2 0.8h0m0.1 0h0m0.1 1.3h0m0.2 0h0m0-0.9h0m0.2-0.3h0m0.2-2.7h0m0.2-1.1h0m0-0.3h0m0.1 1.1h0m0.1 4h0m0.1-0.5h0m0.2-4.9h0m0.1 4h0m0.3-0.9h0m0.1-0.7h0m0.7-2.1h0m0.3 5h0m0.1-3.1h0m2.5-1h0m4.6 1.3h0m5.9-2.1h0m1.5-0.3h0m3.2 1.5h0m9.8-1.5h0m10.4 2h0m3.9 3.2h0m2.7-5.2h0m38.9 1.3h0m65.9 4.1h0m0.2-2.7h0m0.5-2.5h0m1.5 1.7h0m0.7 0.9h0m0.4 0.2h0m0.3-2.5h0m0.2 3.8h0m0-0.4h0m0.2-1.9h0m0 0.8h0m0 2h0m1-0.5h0m0.4-3.2h0m0.1 2.9h0m0.2 1.2h0m0.6-5.4h0m0.1 0.4h0m0.1 2.6h0m0 2.2h0m0.4-1.7h0m0.1 0.1h0m0.7 2h0m0.4-0.3h0m0.1-0.3h0m0 0h0m0.2-1h0m0.5-2.4h0m0.3 3.9h0m0.2-2.9h0m0.3 2.7h0m0-2.3h0m0.1-0.2h0m0.4 2.8h0m0.5-3.7h0m0.3-0.1h0m0.1 2.1h0m0.4-0.4h0m0.7 1h0m0-2.2h0m0.2 2.2h0m0-1.4h0m0.4-1.3h0m0 2.8h0m0.1 0.9h0m0.2 0.2h0m0.3-0.9h0m0.3 1h0m0-5h0m0.1 4.8h0m0.1 0.1h0m0-0.9h0m0.1 0.7h0m0.1-1.8h0m0.2 0.8h0m0.1-2.6h0m0.2 1.2h0m0.1-2.2h0m0.5-1h0m0.2 5.1h0m0.1-0.5h0m0.2-0.9h0m0.2-3.4h0m0.1 4.9h0m0-0.9h0m0-1.8h0m0.1 2.6h0m0.3-4.5h0m0.1 4.8h0m0.7-3.6h0m0.1 3.4h0m0-1.6h0m0.3 0.2h0m0.4-3.2h0m0.2 1.2h0m0 0.9h0m0.5-0.3h0m0-0.4h0m0-0.1h0m0.3-1.5h0m0.1-0.1h0m0.4 0.3h0m0.1 2.4h0m0.1 2.2h0m0.1-1.4h0m0.1-2.8h0m0.7 3.3h0m0.1-4.3h0m0.5 1.6h0m0 0.3h0m0.1 1.8h0m0 0.9h0m0.1 0.2h0m0.5 1.1h0m0-4.1h0m0.1 1.2h0m0 0.9h0m0.3-1.9h0m0.1-1.4h0m0 2.3h0m0.2 1.4h0m0.4-2.7h0m0.1 0.4h0m0 2.6h0m0.2-2.2h0m0.6 1.4h0m0.3-1.4h0m0.1 3.2h0m0.1-4.8h0m0 3.6h0m0-1.6h0m0.2 1h0m0.1 1.4h0m0.2-4.5h0m0.1 4.5h0m1.1-3.9h0m0.3 3.3h0m1 0.3h0m0.2-2.4h0m0.1 2.2h0m0.3-3.6h0m0.1 3.8h0m0.1-2h0m0 1.1h0m0 1.3h0m0.6-5.1h0m0.7 2.1h0m0.3 0.8h0m0.3-1.6h0m0.5 3.8h0m0.7-2.8h0m0.7-0.9h0m0.6 4h0m0.1-0.7h0m0.1-1.2h0m0.4-3.4h0m0.1 5.6h0m0.6-3.6h0m0.1 1.9h0m0.2-1.6h0m0.5-0.5h0m0.2-1.8h0m0.2 2.4h0m0.3 0.3h0m1 2.4h0m0.5 0.3h0m2.2-4.4h0m0.3 4.3h0m0.1-0.2h0m0.3 0h0m0-0.3h0m3.2-2.7h0m4.3-2.4h0m29.3 4.3h0m18.8-2.4h0m0.8 2.4h0m1.7-4h0m0.7 0h0m15.6 3.6h0m60.1 0.1h0m0.4-1.2h0m1.5-0.7h0m0.4-0.7h0m0 0.5h0m0.2-1.6h0m0 5.2h0m2-2.9h0m0.9-1.5h0m0.1-0.8h0m0.1 2.8h0m2.5-0.1h0m0.1 0.3h0m0.3 2.4h0m0.2 0h0m0.1-3.3h0m0.8 2.6h0m2.6 0.4h0m0.5-0.6h0m0.1 0.1h0m0.3-3.6h0m0.6 4.3h0m0.4-2.1h0m0.3 1.3h0m0-3h0m0.2 1.5h0m0.4-2h0m0.2 1.7h0m0.1 1.5h0m0.7-3.1h0m0.4 2.1h0m1-0.3h0m0.1 2.7h0m0-2.1h0m0.3 1.2h0m0.1-2.1h0m0.4 0.5h0m0.1 1.3h0m0.3-1.3h0m0.3-2h0m0 3.5h0m1.3-4h0m0.3 4h0m1.1 0.6h0m0.7-0.3h0m0.2-3.2h0m0.3-1h0m0.3 3.5h0m0.2 0.7h0m0.1-0.5h0m0.4-3.2h0m0.1 2.6h0m0.2-1.2h0m0.1 0.6h0m0.2 2.2h0m1.1-0.2h0m0.2-1.7h0m1.2-1.7h0m1 0.8h0m0.2-1.1h0m0.4 0.9h0m0.2 1.8h0m0.3 1.2h0m0.1-1.1h0m0.6-3.5h0m1.6 0.9h0m0.6 3.8h0m2.4-5.4h0m3.3 0.9h0m2 4.1h0m1.2-2.9h0m0.7 2.3h0m0.5 0.5h0m1.3-5h0m0.3 1.1h0m16.3 0.5h0m31 4.1h0m0.9-1.7h0m1.6-0.8h0m-444.4 4.5h0m1 3.2h0m2.6-2.1h0m0.3 1.8h0m0.1 0.8h0m0.4-5.6h0m0.3 2.2h0m0.3 2.7h0m0.7-4.8h0m0 1.1h0m0.2-0.1h0m0.4-0.4h0m0.1 1.1h0m0.1 4h0m1.7-4.7h0m0.1 2.7h0m0.2 1.7h0m0.8 0h0m0.7-4.4h0m0.3 1.5h0m0.2 2.5h0m0-2.1h0m0 1h0m0.4-3.1h0m0.2 0.1h0m0 2.6h0m0.1-2.9h0m0 1.4h0m0.1-1.7h0m0.1 4.1h0m0.2-3.3h0m0.1-1h0m0.2 3.1h0m0.1 1.3h0m0-0.8h0m0.1-0.2h0m0-1.4h0m0.2-0.1h0m0 3h0m0.3-5.1h0m0.1 5.2h0m0-5.1h0m0.1 5.5h0m0.2-2.7h0m0.2 0.5h0m0.1-2h0m0.1 0.6h0m0-1.8h0m0.1 1.2h0m0.3 3.9h0m0.1-4.5h0m0.1 0.8h0m0 1.4h0m0.4-2.1h0m0.4 2.2h0m0.1-2.7h0m0.1 0.5h0m0 3.2h0m0.3 0.1h0m0-0.1h0m0.1-2.9h0m0 2.1h0m0.2 1.9h0m0.1-5.1h0m0.1-0.1h0m0.1 4.7h0m0-3h0m0.1-1.6h0m0.4 3.2h0m0.2 0.8h0m0.1-3.5h0m0.1 4.3h0m0.3-1.7h0m0-3.1h0m0 0.5h0m0.1 2.6h0m0.1-2.9h0m0 3.4h0m0.1-0.3h0m0.1-1.3h0m0.1 0.8h0m0-1.5h0m0.2 1.8h0m0.3 1.5h0m0 0.1h0m0.4-0.8h0m0.2 1.4h0m0-4.4h0m0.1 4.5h0m0.4-2h0m0.1-2.2h0m0 0.8h0m0.1-0.7h0m0 3.4h0m0.1-2.3h0m0-2.6h0m0.1 4.1h0m0-2.3h0m0.1-1.1h0m0.2 2.3h0m0-2.2h0m0.1 3h0m0-3.3h0m0.1 2.7h0m0-2.8h0m0.3 1.1h0m0 4h0m0.3-3.1h0m0.1-0.7h0m0-1.7h0m0 2.1h0m0.3 1.9h0m0.9 0.6h0m0.2-2h0m0.4 1.5h0m0.2 1.6h0m0.1-1.3h0m0-3.9h0m0.1 3.2h0m0.2 1.7h0m0.1-5.4h0m0 4.2h0m0-3.2h0m0.3 0.9h0m0-1.7h0m0.1 3.6h0m0.2 0.7h0m0 1.3h0m0.6-0.3h0m0.5-4.9h0m0.1 4.9h0m0-4.2h0m0.4 2.2h0m0.3-0.9h0m0.8-1.5h0m0.4 0.9h0m0.4-1.8h0m0.5 3.6h0m0.9-0.1h0m0-0.8h0m1-0.5h0m0.2 0.5h0m0.9-0.6h0m24.4-0.3h0m121.3-1h0m0.2 1.1h0m0.1 0.6h0m0.3 3h0m0.5-2.4h0m0.4 0.5h0m0-2h0m0.3 3.7h0m0.1-5h0m0.2 1h0m0.1 0.7h0m0.1 3h0m0.2-0.7h0m0.3-1.3h0m0.2-1.6h0m0 2.2h0m0.6-1.1h0m0.1-0.3h0m0.6 2.7h0m0.1-3.9h0m0.3 3.5h0m0-1.9h0m0.2 1.3h0m0.3-1.9h0m0.2 2.5h0m0.3-0.6h0m0-0.4h0m0.2 2.2h0m0.2-2.9h0m0.3 2.9h0m0-1.5h0m0.1-4.3h0m0.3 0.5h0m0.1 1.5h0m0.5 0.1h0m0 3.2h0m0-0.7h0m0.5-4.3h0m0-0.3h0m0 4h0m0.1-4.1h0m0.1 2.2h0m0-1.6h0m0.4 2.4h0m0.2 0.7h0m0-1h0m0 2.7h0m0.3-0.7h0m0 1.2h0m0.2-1.7h0m0 0.6h0m0.1-2.2h0m0 3.2h0m0-2.6h0m0-1.2h0m0.1 3.7h0m0.2-0.3h0m0.3-3.1h0m0 2.4h0m0.3-1.6h0m0.3 0.3h0m0.2-3h0m0.1 4.7h0m0-4.9h0m0.1 0.2h0m0.2 2.7h0m0.1 0.6h0m0.1-3.3h0m0.1 4.5h0m0 0.8h0m0.1-0.8h0m0.1-1.2h0m0.2 1.4h0m0.1-0.3h0m0 0.3h0m0.1-2.9h0m0.1 1.7h0m0.1-3.1h0m0.1 5h0m0.3-3.1h0m0-0.4h0m0.2 2.4h0m0-4.3h0m0 3.3h0m0 1.3h0m0 0.6h0m0.1-1.3h0m0.1-2.8h0m0.2-0.1h0m0 2.1h0m0.1-2h0m0.1-0.1h0m0.1-0.6h0m0 0.7h0m0.2 1.2h0m0-2.4h0m0 4h0m0-4.3h0m0.3 5h0m0.1-1h0m0.1-3.7h0m0.1 2.9h0m0.1-1.2h0m0 3.9h0m0.1-3.5h0m0 0.6h0m0.1 1.3h0m0.3-1.4h0m0-1.2h0m0 0.5h0m0 0.6h0m0.1-0.5h0m0.1-1.7h0m0.1 2.8h0m0-1.9h0m0 2.8h0m0.1 1.1h0m0-2.9h0m0 1h0m0-1.1h0m0.1 3.3h0m0.1-3.2h0m0 0.8h0m0.1-1.8h0m0.1 2.3h0m0-2.5h0m0.3-0.7h0m0.1 1.1h0m0.2 3.3h0m0-2.8h0m0.1 3h0m0.2-3.8h0m0 3.4h0m0.1 0.4h0m0.1-2.5h0m0-0.2h0m0.2-1.6h0m0.1 1.2h0m0.1 3.5h0m0.1-0.7h0m0-2.9h0m0.1 2.2h0m0.1-0.5h0m0.1-0.4h0m0 0.2h0m0 1.1h0m0.1 0.3h0m0.1-1.9h0m0.1-1.7h0m0.2 0.9h0m0.1 3.1h0m0-1.5h0m0.2-0.8h0m0.1-0.2h0m0.1 3.1h0m0.1-3.5h0m0 2.9h0m0.1-1.8h0m0.2-2.8h0m0 1.9h0m0.1-1.5h0m0 3.8h0m0.3-4.5h0m0.1 5h0m0.3-3.2h0m0 0h0m0.1-1.4h0m0 2.4h0m0-2.4h0m0 0.3h0m0 2.1h0m0.1-0.7h0m0 1.1h0m0.1-0.1h0m0.1-3h0m0 4.8h0m0-0.1h0m0.1-3h0m0 3.3h0m0.1-0.4h0m0-0.6h0m0.1 0.5h0m0-1.4h0m0.2 0.7h0m0.1 0.8h0m0-3.6h0m0 3.1h0m0.1-1.5h0m0.1-1.1h0m0.1-1.3h0m0 5.2h0m0.3-5.1h0m0.1 0.9h0m0.1 4.2h0m0.1-0.3h0m0-1.1h0m0.1-1.1h0m0 2.4h0m0.1-1.9h0m0.1 1.9h0m0-3.3h0m0.4-1.2h0m0.1 0.7h0m0.2-0.8h0m0 0.2h0m0.2 0.9h0m0.1 1.7h0m0 0.6h0m0.1-2.8h0m0.1 0.2h0m0 1.9h0m0.2 1.9h0m0.4-2.5h0m0-2.7h0m0.1 4.8h0m0.1-4.5h0m0.1 4.6h0m0-0.2h0m0.1-3h0m0 1.7h0m0.3-2.5h0m0 3.1h0m0.1-1.9h0m0.1 0.7h0m0 0.6h0m0.3-3.8h0m0.1 4.2h0m0.1-2.1h0m0.1 2.3h0m0.3-3.5h0m0.1-0.2h0m0.2 3.1h0m0.1-1.1h0m0.2 2.7h0m0.2-0.8h0m0.2-3.8h0m0 1.4h0m0 2.7h0m0.1 0.3h0m0.1-2.4h0m0.1 0.6h0m0-2.1h0m0-1h0m0.1 4.1h0m0.2-1.2h0m0-3.3h0m0 4.3h0m0 0.7h0m0-1.2h0m0.1-1.5h0m0.2 2.9h0m0.2-3.3h0m0-0.4h0m0.2 3.2h0m0.2-0.6h0m0.3 0.8h0m0.2 0.6h0m0.2-0.6h0m0.1-3.2h0m0.2 0.4h0m0 0.7h0m0-0.6h0m0.2-1.3h0m0 2.1h0m0 0.3h0m0.2 0.2h0m0-0.5h0m0.2-1.2h0m0.4 2.9h0m0.2 0.4h0m0.1-3.6h0m0-1.3h0m0.1-0.3h0m0.3 3.3h0m0.2-2.6h0m0 2.1h0m0.1 2h0m0.1 0.4h0m0.1-1.1h0m0 0.3h0m0-0.1h0m0.3-3.1h0m0 1.2h0m0.2 2.1h0m0.3-0.9h0m0-3h0m0.1 0.8h0m0.1 0.9h0m0-1.4h0m0.1 3.2h0m0.2-2.9h0m0.4 1.6h0m0.1 0.1h0m0 2.2h0m0.2 0h0m0.6-3.3h0m0.3 3.5h0m0.1 0.2h0m0.8-2.5h0m0.1 2.2h0m0.1-0.7h0m0 0.6h0m0.6-0.7h0m0.6-3.8h0m0.3 4.5h0m0.3-0.7h0m0.6-0.5h0m0.5-2.2h0m0 3.3h0m0.4 0.1h0m0.1-2.8h0m0.2 1.3h0m0.1-0.7h0m0.9-2.5h0m0 0.3h0m0.1 0h0m0.4 4.3h0m0.6-2.8h0m0.4-1h0m0.1 4.4h0m0.2-1.2h0m1 0.7h0m0-4.4h0m0.7 3.5h0m0.8 0.6h0m0.9-1.3h0m2.1 0.4h0m2.4-3.1h0m0 3.3h0m6.6-0.8h0m3.3-1h0m8.1 3.4h0m0.9-3.4h0m11.4 1h0m4.1-1.7h0m0 4.1h0m1.6-2.4h0m5.7 0h0m3.3-2.5h0m4 2.9h0m75.6 2h0m0-3.4h0m0.1 2.7h0m0.7-0.9h0m0.3-1.4h0m0.2 3.1h0m0.1-1.3h0m0.5-4h0m0.1 4.2h0m0.1 1.1h0m0.6-5.2h0m0.1 5.3h0m0.2-2.7h0m0.1-0.5h0m0.2 0.4h0m0.1 2.3h0m0-1.4h0m0.1-2.3h0m0.1 0.5h0m0.1-1.1h0m0.4 0.7h0m0.3-0.1h0m0.3 1.4h0m0.1-0.2h0m0.6-1.7h0m0 4h0m0.1-2.4h0m0.1 0.4h0m0.3-1.1h0m0 1.2h0m0.2-0.4h0m0.6 3h0m0.5-0.4h0m0 0.1h0m0.1-2.2h0m0.2 2.3h0m0.2-2.7h0m0.8-1.3h0m0.4 0.8h0m0-1.9h0m0.1 3.7h0m0.1 0.8h0m0.1-1.9h0m0.1-2.7h0m0.3 4.1h0m0.1-1.7h0m0.6-0.4h0m0.1 2.4h0m0.1-3.8h0m0.2 1.3h0m0.2-2.3h0m0 3h0m0.3-0.8h0m0 0.1h0m0 0.9h0m0 1.4h0m0.2 0.9h0m0.2-2.5h0m0.2-2.7h0m0.1 0.1h0m0.2 2.3h0m0.2 1.4h0m0.2-4.2h0m0.1 0.8h0m0.2 4.1h0m0.1-1.9h0m0.1 0.8h0m0 0.7h0m0.1-1.2h0m0.1-1.8h0m0.1 4.2h0m0-4.2h0m0 2.3h0m0.3-1.7h0m0.3 1.7h0m0.2-3h0m0.1 0.1h0m0 4h0m0-1.1h0m0.2-1.2h0m0.2-0.7h0m0.2 1.5h0m0.1-0.9h0m0 1.9h0m0.3 1h0m0.1-2.8h0m0.2 1.2h0m0.1 0.9h0m0.6-0.6h0m0-4.1h0m0 1.2h0m0.5 2.3h0m0.3 1.1h0m0.2 1.2h0m0.2-2h0m0.2 0.9h0m0.3-3.5h0m0.7-0.8h0m0 0.2h0m0.1 3.3h0m0.1-2.4h0m0.1 1.6h0m0.6-3h0m0.3 2.9h0m0.2 0.7h0m0.1 0.5h0m0.1-3.1h0m0.4 1.2h0m0 2.6h0m0.1-1.9h0m0.2-3h0m0.2 2.2h0m0-0.3h0m0.3 3.5h0m0.5-0.2h0m0-4.6h0m0 2.3h0m0.3-2.1h0m0.2 2.1h0m0.4-0.5h0m0 3.2h0m0-0.1h0m0.2-4.5h0m0.1 2h0m0.3 2.2h0m0.1 0.6h0m0.2-4.6h0m0.1 1.8h0m0-0.4h0m0.2 0.5h0m0.2 1h0m0.2-2.3h0m0.1-1.3h0m0 4.1h0m0.1-0.1h0m0-2.7h0m0.3 3.9h0m0.2 0.2h0m0.2-1.6h0m0.1-2.4h0m0.2-1.6h0m0 5.5h0m0.1-0.3h0m0 0.1h0m0.4-4.9h0m0.4 4.3h0m0.5-1h0m0-2.5h0m0.2 4.3h0m0.1-0.3h0m0.1-0.8h0m0.1-1.2h0m0.2-1.2h0m0.1 2.9h0m0.2-3.5h0m0.1 3.4h0m0-4.7h0m0.2 3.5h0m0.1 0.9h0m0.6-1.8h0m0.2 0.6h0m0 1.8h0m0.1-1.7h0m1-0.1h0m0.1 2.1h0m0.7-3.4h0m0.1-1.4h0m0.1 2.9h0m0.4 2h0m0.6-1.7h0m0.4-1.7h0m1.1 3.3h0m0.3-0.2h0m0.3-4.5h0m0.1 3.9h0m0.1-0.9h0m1.4 0.8h0m0.5 0.1h0m1-1.4h0m1.1 1.2h0m0.6 0.5h0m0.3-0.4h0m0.8-4.5h0m0.3 2.1h0m1.9 0.6h0m0.5-0.8h0m0.4 0h0m1.9 3.7h0m1-0.4h0m2.9-1.4h0m2.6-2.4h0m11.5 0.6h0m2.5-0.2h0m2.5 1.2h0m8.9 1.6h0m8.2 0.8h0m-435.7 5.6h0m1.4 0.1h0m0.2-0.4h0m0.4-4.5h0m0.9 2.5h0m0.1 1.4h0m0.3 0.3h0m0.1-2.8h0m0 1.4h0m0.3 0.1h0m0.7-0.7h0m0.3-1.2h0m0.6-1.3h0m0.5 3.1h0m0.2-2.6h0m0.3 3.1h0m0.4 1.5h0m0.2-3.7h0m0.1-1.4h0m0.7 3.6h0m0.1 1h0m0-4.5h0m0.3 2.1h0m0.6-1.2h0m0 2.4h0m0.8-2.1h0m0.6-0.7h0m0.3-0.2h0m0 2.1h0m0.1 2.8h0m0.1-5.3h0m0.2 1h0m0.1 3.7h0m0.4-1.4h0m0.3-2.8h0m0.2 4.2h0m0-4.4h0m0.1 0.1h0m0.1 0h0m0.1 4.2h0m0.1 0.2h0m0.1-4h0m0.3 4.3h0m0.1-1h0m0.2 1h0m0.5-1.9h0m0 2.2h0m0.1-1.7h0m0.2-2.6h0m0.5 3.9h0m0.1-4.7h0m0.2 3.4h0m0.2 1.2h0m0.7-4.3h0m0.3 2.6h0m0.5-1.9h0m0-0.9h0m0.1-0.2h0m0 1h0m0 1.5h0m0 2.4h0m0.3-1.3h0m0.1 0.8h0m0-2.5h0m0.3 2.5h0m0.1 0.9h0m0.4-3.8h0m0.1 2.8h0m0.2 0.3h0m0.3-4.3h0m0.5 1.3h0m0.2 1.2h0m0.1 2.5h0m0-3.9h0m0.2-0.6h0m0.2-0.5h0m0.1 4.5h0m0.1-4.4h0m0-0.4h0m0.2 1.3h0m0 3.8h0m0.1-1.5h0m0-2.8h0m0.3 1.1h0m0.1 1.9h0m0.1-0.1h0m0-2.1h0m0.4-1.4h0m0.2 0.1h0m0.1 3.2h0m0.1-3.4h0m0.3-0.3h0m0.3 5.7h0m0.7-4.6h0m0 1.1h0m0.5-0.3h0m0.7 1.9h0m0 0.5h0m0-2.4h0m0.1 2.5h0m0.1-3.8h0m0 0.5h0m0.5-1.1h0m0.3 3.6h0m0.1-3.8h0m0.2 1.6h0m0.1 3.1h0m0.3-3.7h0m0 0.5h0m0.1 2.1h0m0-2.1h0m0.7 3.9h0m0.1-4.8h0m1.7 0.1h0m0.2 2.2h0m0.3-1.8h0m0-0.4h0m0.1 3.1h0m0 0.4h0m0.3-0.9h0m0.5 0.1h0m0.6-2.1h0m1.4-0.8h0m1.3 2.6h0m2-1.8h0m2.2 0.3h0m18 3.5h0m121.8-4.1h0m0.1 1.3h0m0.1 2.7h0m0.1-0.9h0m0-0.9h0m0.3 0.2h0m0-2.7h0m0.2 0.4h0m0.4 1.3h0m0.6 2.7h0m0 0.7h0m0.1-4.2h0m0.2 3.7h0m0.1-1.4h0m0 0.2h0m0.1-3.7h0m0 3.2h0m0.1-0.4h0m0.1 0.2h0m0-3.3h0m0.6 1.8h0m0.2-1.8h0m0.2 5.7h0m0.3-1.6h0m0 1.5h0m0-0.4h0m0.1-3.1h0m0 1.5h0m0-1.4h0m0.6-2h0m0 5.5h0m0.2-1.8h0m0.1-3.9h0m0 4.7h0m0.1 0h0m0.3-2.2h0m0.1 1.6h0m0.1-1.2h0m0.1-0.4h0m0.2-1.8h0m0.1-0.4h0m0.2 3.1h0m0.1-2.8h0m0 2.9h0m0-3.5h0m0.2 5.4h0m0.5-3.3h0m0 0.2h0m0.1-1.9h0m0.1 3.4h0m0.1-3.8h0m0.1 4.2h0m0.1 0.8h0m0.4-1.2h0m0 0.7h0m0.1-4.4h0m0.2 1.5h0m0.1 4.1h0m0.1-4.1h0m0 3.7h0m0.2-3.1h0m0.2 1.7h0m0.1 1.1h0m0.2-1.9h0m0-0.2h0m0.2-2.7h0m0.3 1.1h0m0 0.5h0m0 1.5h0m0.1 2.1h0m0-3.9h0m0.1 1.2h0m0 0.1h0m0.1 2.6h0m0.1-3.5h0m0.1 1.1h0m0-0.9h0m0 3.4h0m0-5.3h0m0 1.1h0m0.1 2.6h0m0 1.6h0m0-0.5h0m0-0.2h0m0-2.4h0m0.1-2.2h0m0.1 4.2h0m0-1.6h0m0.1-0.1h0m0.1-0.8h0m0.1-1.1h0m0 2.3h0m0.1-1.4h0m0.1 0.3h0m0.1 2.7h0m0-4.6h0m0 5.1h0m0.1-3.2h0m0.1 2.4h0m0.1-0.4h0m0.1 0.3h0m0.1-2.3h0m0 2.4h0m0-3.4h0m0.4 0.7h0m0 2.2h0m0-2h0m0.1 3.9h0m0-4h0m0.2-1.7h0m0.1 3.1h0m0-3h0m0.1 3.1h0m0-3.3h0m0.2 4.1h0m0.1-3.2h0m0 4.8h0m0.1-3.3h0m0.1-2.2h0m0.1 1.6h0m0 1.6h0m0-3.5h0m0.2 4h0m0.1 1.1h0m0-3.5h0m0 1.3h0m0.2-2.7h0m0.1 4h0m0.2-2.6h0m0 1.5h0m0.4-1.8h0m0.2 0.9h0m0-1.1h0m0-0.5h0m0.1 0.3h0m0.1 1.9h0m0-2.4h0m0.1 0.3h0m0 4.8h0m0.1-4.7h0m0 2.1h0m0 0.4h0m0.1 2.6h0m0-1.5h0m0-2.9h0m0.3 2.1h0m0.1-2.8h0m0-0.8h0m0.1 4.2h0m0-2.3h0m0.3-0.2h0m0.2 2.7h0m0.1 1.4h0m0-2.1h0m0.1-0.1h0m0 1.6h0m0.1-1.2h0m0.1-0.1h0m0-3.8h0m0.1 0.6h0m0.1-0.2h0m0.1 2.9h0m0-1.5h0m0.1-0.2h0m0-0.1h0m0.2 3.4h0m0.1-3.3h0m0 0.5h0m0.1 0h0m0 2.8h0m0-4.4h0m0.2-0.3h0m0.1 4.7h0m0-2.1h0m0 0.3h0m0.1-3.1h0m0 0.8h0m0.2-0.1h0m0.1 3.2h0m0-2.9h0m0.1 4h0m0-4h0m0 0.7h0m0 3.8h0m0.1-5.3h0m0 1.9h0m0.2 0.9h0m0.1 1.1h0m0.1 1h0m0.1-3.6h0m0 0.3h0m0 1.2h0m0.1-0.5h0m0-1.9h0m0.1 0.5h0m0-0.9h0m0 0.3h0m0.1-0.6h0m0.1 2.6h0m0 0.9h0m0.2-2.3h0m0-1h0m0.1 3.6h0m0.1 1.9h0m0.3-4.5h0m0 4.2h0m0-4.3h0m0.1 1.8h0m0.1 2.3h0m0-2.5h0m0-2.2h0m0 2.3h0m0 0h0m0.2 1.1h0m0.1-2.5h0m0-0.1h0m0 1.4h0m0.3 1.4h0m0 1.8h0m0.1-5h0m0 2.9h0m0-2.3h0m0.1-0.6h0m0 4.3h0m0-2.9h0m0.1 3.6h0m0.2-3.9h0m0.1 3.1h0m0-5.1h0m0.2 3.1h0m0 1.3h0m0-0.5h0m0.2 0h0m0.1 1.3h0m0.3-4.9h0m0.2 0.3h0m0.3 1.3h0m0.2-0.6h0m0-0.3h0m0-1h0m0.1 2.8h0m0 2.7h0m0.1-2.5h0m0.1-2.2h0m0 1.6h0m0 1.1h0m0.2-2.3h0m0.1 2.4h0m0-1.4h0m0.4 1.5h0m0 0.3h0m0.1 1.4h0m0-2.9h0m0.1-1.8h0m0.1 0.7h0m0 0.8h0m0.1-1.5h0m0.1 2.9h0m0 0.3h0m0.1-3.9h0m0 0.9h0m0 1.8h0m0-1.8h0m0-0.9h0m0.1 0.4h0m0 5.4h0m0-4.1h0m0.5-1.6h0m0.1 0.9h0m0 3.2h0m0.2-2.7h0m0.1 0.1h0m0.1 1.7h0m0-3.3h0m0.1 4.3h0m0.3-3.6h0m0.2 1.7h0m0.1 3.3h0m0-3.6h0m0 0h0m0.4 3h0m0.2-0.7h0m0.1-3.7h0m0 2.4h0m0.2-1.9h0m0.1 1.8h0m0-0.3h0m0-1.2h0m0.7-0.8h0m0.2 1.8h0m0.2 1.9h0m0.1-3.4h0m0 3.4h0m0-0.6h0m0.2-3.6h0m0.1 3.7h0m0 0.5h0m0.3-0.5h0m0.1-0.8h0m0.3-1.4h0m0 0.4h0m0.1 1.9h0m0 1h0m0 0.5h0m0.1-5.3h0m0.2 0.1h0m0.1 5.2h0m0-1.9h0m0.5-1.7h0m0.2 0.7h0m0-1.4h0m0.1 2.6h0m0.1 1.3h0m0-1.2h0m0.2 2h0m0-5.7h0m0.1 3.2h0m0-2.5h0m0.3-0.9h0m0 0.1h0m0.2 4.8h0m0-3.7h0m0 0.6h0m0.1-1.4h0m0 2.5h0m0 1h0m0-2.8h0m0 1.7h0m0.4-0.1h0m0.3-2.4h0m0.3 4.7h0m0-2.8h0m0.1-2h0m0.3 4.7h0m0.3-4.3h0m0.1 1.6h0m0.2 0h0m0.1 0.9h0m0.1-0.2h0m0.1-2.7h0m0.1 5.3h0m0-2.2h0m0.2 1.6h0m0.1 0.2h0m0.1-2.4h0m0.1-1.2h0m0.4 0.4h0m0.5-1.8h0m0.3 1.8h0m0.4 0.6h0m0.2-0.4h0m0.1 1.9h0m0.3-3.5h0m0.2 1.8h0m0.2-0.1h0m0.5 2.9h0m0.5-3.9h0m0.4 1.5h0m0.2 0.6h0m0.1-0.3h0m0.2 0.3h0m0.7-1.1h0m0.4-1.3h0m0.2 2.7h0m0.2-2.6h0m0.1 4.6h0m0.3-1h0m0.5-3.7h0m0.7 1.5h0m0.1 2.5h0m0.2 0.8h0m1.4-0.9h0m0.1-1.6h0m0.2 2h0m3.9-2.2h0m5.5-0.8h0m5.9-1.7h0m0 3.3h0m9 0.8h0m3.1-2.4h0m8.3 0h0m2.4 3.1h0m6.6-4h0m85.4 2.2h0m0.2 0.8h0m0.2-1.2h0m0.5 1.9h0m0.1-0.3h0m0.6-0.8h0m0.5 2h0m0.3-3h0m0.5-0.3h0m0.1-1.4h0m0.5-1.2h0m0.3 4.2h0m0.6 0.9h0m0.3 0.1h0m0.2-1.7h0m0.6-1.9h0m0 4h0m0.1-5.5h0m0.3 4.6h0m0.2 0.6h0m0.1-0.2h0m0-4h0m0.2-0.6h0m0.1 2.8h0m0.3 0.7h0m0.6 0.5h0m0.5-0.1h0m0 1.4h0m0.2-4.1h0m0.1 0.3h0m0.2 2.3h0m0.1-2.9h0m0.2-0.2h0m0-0.1h0m0.1 2h0m0.2 1.8h0m0.1-3.3h0m0.8 2.1h0m0.1-1.9h0m0 1.2h0m0.2 1.6h0m0.1-3.2h0m0.4 3.1h0m0 0.7h0m0.1-0.8h0m0-2.7h0m0.3 2.3h0m0 1.2h0m0.4-1h0m0-0.7h0m0 2.1h0m0.2-4.8h0m0.1-0.1h0m0.2 1.9h0m0 2.3h0m0.2-2h0m0.1 0.8h0m0 1.8h0m0.1-1.2h0m0 0.8h0m0.1-2.8h0m0-2.3h0m0.1 1.6h0m0 3.9h0m0.3-0.3h0m0.2-1.4h0m0.5-3.3h0m0 1.9h0m0.1-1.6h0m0.1 3.6h0m0.1 0.8h0m0.1-4.3h0m0 3.9h0m0.2-2.1h0m0.1 1.4h0m0.3-1.2h0m0 1.5h0m0.2-1.5h0m0.1 0h0m0.1-2h0m0.1 2.8h0m0-0.2h0m0 1.9h0m0.1-1.7h0m0.1-2.3h0m0 3.5h0m0.1 0.1h0m0.2 0.3h0m0.3-4.8h0m0.4 2.6h0m0 2.7h0m0-1.9h0m0.1-3.2h0m0 2.7h0m0 0.3h0m0 1.9h0m0.1-0.8h0m0.1-1.4h0m0.1-2.3h0m0.2-0.3h0m0 1.6h0m0.1 1.7h0m0.1 0.9h0m0.1-2.3h0m0 0.6h0m0.1-2.2h0m0.5 1.4h0m0 3.3h0m0.1-5.4h0m0.1 2.2h0m0 2.4h0m0.1-2.3h0m0 2.3h0m0.3 0.3h0m0 0.5h0m0.2-3.9h0m0.2 2.6h0m0.1-2.7h0m0 3.4h0m0.1 0.3h0m0-2.1h0m0.1 1.3h0m0 1.1h0m0.1-1.8h0m0.1-4h0m0.2 1.2h0m0 3.5h0m0.2 0.3h0m0-0.6h0m0-1.7h0m0.2-1.3h0m0 3.1h0m0.1-4.2h0m0.2 1.8h0m0.2-2h0m0 2.4h0m0.1-1.8h0m0.1 4.7h0m0-0.1h0m0-4.8h0m0.1 3.7h0m0.1-3.6h0m0.1 0.2h0m0.1 1.5h0m0.1-1.8h0m0.1 4.3h0m0-3.4h0m0.5 2.6h0m0.1 1.4h0m0-1.6h0m0.1-3.5h0m0.2 4.7h0m0.2-4.6h0m0 1.2h0m0.1 1.9h0m0.1-3.1h0m0 4.2h0m0.2-3.5h0m0.1 4.5h0m0-3.6h0m0 0.5h0m0.2 2.9h0m0-3.1h0m0.1 0.5h0m0 2.3h0m0.3-0.1h0m0.3-3.4h0m0.2-1.1h0m0 0.5h0m0-0.2h0m0.1 0.2h0m0.1 0.8h0m0.1-1.1h0m0.1 3h0m0.3-0.7h0m0.1-1.3h0m0.1-0.2h0m0.4 4h0m0.6-4.5h0m0 0h0m0.2 4.8h0m0.2-0.9h0m0-0.8h0m0 0.5h0m0-3.7h0m0.2 1.8h0m0.1 1.9h0m0.1 0.3h0m0.1-2.6h0m0 3.3h0m0.6-0.9h0m0.2 0.7h0m0.2-0.8h0m0-2.1h0m0 0.3h0m0.4 0h0m0 1.6h0m0 1h0m0.2-4.5h0m0.1 3.1h0m0-3.4h0m1.2 5.3h0m0-0.5h0m0-0.7h0m0.1-2.3h0m0.1 1.6h0m0-0.3h0m0.7 2.1h0m0.4-2.8h0m0-0.5h0m0.3 1.4h0m0.5-0.4h0m0.3-1.1h0m0.2 0.8h0m0.2 0.2h0m0.1-0.4h0m0.7 0.7h0m0.1 2.1h0m0.3-2.1h0m0.1 0.1h0m0.4 1.8h0m1-5.5h0m0.2 4.5h0m1.4 1.3h0m0.2-2.5h0m0.1 0.9h0m0.4-3.5h0m0.1 1.6h0m0.3 1.7h0m0.3-1.1h0m0.5 2.5h0m0-4.1h0m1.2-0.1h0m0.2 0h0m0 4.3h0m0.3-0.2h0m1.5-4.4h0m0.2 3.2h0m0.3 1.3h0m1.6-5.5h0m0.9 1.8h0m0.1 1h0m0.9-1.9h0m0.6 3.3h0m0.7 0.9h0m6.2-4.6h0m1 3.3h0m0.8 1.5h0m7.2 0h0m0.9-4.8h0m0.9 1.7h0m0.8 2.4h0m7.3-3.3h0m0 4h0m6.6-2.3h0m13.1-0.8h0m-438.5 4.1h0m0.1 1h0m0.2 3.9h0m0.1-4.4h0m0.2 0.4h0m1.1-1.2h0m0.3 1.7h0m1.1-1.7h0m0.7 4.9h0m0.2-0.7h0m0.1-1.8h0m0.4 1.5h0m1-3.4h0m0.1 0.2h0m0.4 2.8h0m0-0.7h0m0.3-1h0m0.9-0.3h0m0.3-0.5h0m0.3-0.9h0m0.1 3.6h0m0.1-1.6h0m0.5-0.4h0m0.3 0.2h0m0.1-1.4h0m0.1 3.5h0m0.3-3.2h0m0.4 0.9h0m0.1 3.2h0m0.6-2.6h0m0.3 3.6h0m0.1-4.4h0m0.2 1.2h0m0-0.1h0m1.2 2.7h0m0-3.8h0m0.4-1h0m0-0.3h0m0.1 0h0m0.2 1.9h0m0.2 0.3h0m0-0.5h0m0.1 0.3h0m0.1-0.3h0m0.1 2.4h0m0-1.8h0m0.5-1.3h0m0.1 1.8h0m1 1.7h0m0.2 0.4h0m0.4-3.6h0m0.2 3.2h0m0 0.5h0m0.1-4.7h0m0.2 5.1h0m0.5-1h0m0.2-3.8h0m0.1 0.7h0m0 1.1h0m1.1 1.7h0m1.1-1.3h0m0.5 1.7h0m0.2-0.9h0m0.4-0.5h0m0.1-0.3h0m0 0.5h0m0.2-2.4h0m0.9-0.6h0m0.3-0.3h0m0.3-0.1h0m0 1.7h0m0.2 0.6h0m0.8-1.8h0m2.5 4.9h0m0.1-3.5h0m1.2 1.4h0m2 0.9h0m4-3.4h0m140.6 3.9h0m0-4.6h0m0.2 5.5h0m0.7-5.3h0m0.3 0.8h0m0.4 0.6h0m0-1.4h0m0.1 1h0m0.1 0h0m0.2 4.3h0m0.1-4.3h0m0.3-0.2h0m0.1 2.5h0m0.9-2.4h0m0.1 2.6h0m0.3-3.9h0m0.4 3.8h0m0.6-0.9h0m0.3-1.2h0m0.3 3.5h0m0-1.7h0m0.1-0.7h0m0 2.5h0m0-0.6h0m0.1-1.6h0m0-0.2h0m0.1-1.5h0m0 4h0m0.2-2.2h0m0.3 2.2h0m0.1-3.6h0m0-1h0m0.1 0.2h0m0 3.7h0m0.1 0.8h0m0-0.1h0m0 0.2h0m0.1-0.9h0m0.1-1.4h0m0.3-0.8h0m0 2.8h0m0-2h0m0.1-2.5h0m0.2 3.9h0m0 0.8h0m0.1-4h0m0 2h0m0-3.1h0m0.1 0.7h0m0 4.6h0m0-5.7h0m0.1 2.1h0m0 2.9h0m0.1-2.8h0m0.1 3.3h0m0.2-1.7h0m0.2-0.6h0m0.1-1.5h0m0 1.4h0m0.1 2h0m0.2-3.7h0m0.1 3.3h0m0-0.3h0m0.1-1.2h0m0.1-1.8h0m0.2-0.5h0m0 1.4h0m0.3-1.2h0m0-0.3h0m0.1 3.7h0m0-0.4h0m0.1-2.9h0m0.1-0.6h0m0.1 0.6h0m0.1 4.6h0m0.1-2.5h0m0-2.7h0m0 0.3h0m0.1 2.7h0m0-2.8h0m0 4h0m0.1-0.8h0m0.2-2.3h0m0 0.7h0m0.1 0.2h0m0-1.8h0m0.1 1.6h0m0 0.4h0m0.1-2.4h0m0.1 1.8h0m0-0.3h0m0.1-0.2h0m0.1-0.2h0m0-0.2h0m0 4.2h0m0-3.3h0m0.2 0.6h0m0 2.8h0m0.1-3.4h0m0 3.2h0m0-4.7h0m0 0.7h0m0.1 0h0m0.2-1.3h0m0.2 3.6h0m0-0.8h0m0.2 1.3h0m0-2h0m0.1 0.4h0m0-1.8h0m0.1 0.7h0m0.1-0.7h0m0.1 0.6h0m0 4.3h0m0.1-3.3h0m0.1-1.4h0m0 3h0m0.1-2.7h0m0.1 0.7h0m0 2.4h0m0-4.3h0m0.1 1.4h0m0 1.9h0m0.1 2.3h0m0.1-3.6h0m0-0.8h0m0 2.3h0m0.2 0.3h0m0-1.6h0m0-0.8h0m0.3-1.3h0m0 2.7h0m0 0.6h0m0.1-1h0m0-1.6h0m0 0h0m0.1 1.9h0m0 1.1h0m0-1.2h0m0.1 1.6h0m0-0.9h0m0.1-0.1h0m0-0.2h0m0.2 0.3h0m0.1 2.2h0m0.1-2.6h0m0.2-0.2h0m0-2.1h0m0.1 0.1h0m0 4.7h0m0.1 0.2h0m0.3-1.9h0m0.1-2.2h0m0 3.6h0m0.2 0.3h0m0-1h0m0.2 0h0m0-2.7h0m0.2 0h0m0.3 2.1h0m0-2.8h0m0.1 3.1h0m0.1-2.7h0m0.1 0.7h0m0.1 1.8h0m0.1-1.9h0m0 0.2h0m0.1-1.7h0m0 4.7h0m0-0.4h0m0 0h0m0-2.8h0m0.1 2.2h0m0-1.6h0m0 1.8h0m0.1 0h0m0-3.2h0m0.1-1h0m0-0.2h0m0.1 1.6h0m0-1.5h0m0.2 2.8h0m0.1 0.3h0m0.2-2h0m0.1 3.8h0m0-4.9h0m0.1 0.7h0m0.1 0.1h0m0-0.5h0m0.1 3h0m0.1-2.2h0m0 0.7h0m0.1-2h0m0 3.7h0m0.1-2h0m0 3.1h0m0.2-2.9h0m0.3 0.8h0m0.2 1.5h0m0.1 0.4h0m0-2.1h0m0.1 1.2h0m0 1.8h0m0.1-4.9h0m0-0.3h0m0.1 4.8h0m0-4.3h0m0 0.3h0m0.1-0.6h0m0 2h0m0.1 2.8h0m0-3.7h0m0 3.8h0m0-1.7h0m0.1-2.7h0m0.3-0.8h0m0 2.3h0m0.1 1.7h0m0.1-1.1h0m0.2 2h0m0.1-1.5h0m0.2-0.9h0m0-2.3h0m0 5.1h0m0.2-5.2h0m0.1 0.5h0m0.3 2.9h0m0.1 0h0m0-2.5h0m0.1 3.7h0m0-4h0m0 0.1h0m0.2 4.7h0m0.2-0.4h0m0.2-4.6h0m0.1 3.3h0m0.3 0.4h0m0.1-0.6h0m0.3-1.5h0m0-1.1h0m0 3.7h0m0-2.2h0m0.1 2.5h0m0.1-2.9h0m0.1-2.3h0m0 3.8h0m0-1.3h0m0.1-1.5h0m0 1.7h0m0-0.5h0m0.3 2h0m0.2-2.4h0m0 4h0m0-4h0m0.2-0.9h0m0 4.4h0m0-2.8h0m0 1.4h0m0.3 1.1h0m0-3.5h0m0.2 0.5h0m0-0.6h0m0.1-0.8h0m0 4.8h0m0-4.4h0m0.1-0.8h0m0.2 4.5h0m0.2-3.4h0m0 0.2h0m0.1-0.5h0m0 1.2h0m0.1 2.7h0m0.1-4.9h0m0.1 2.1h0m0-0.7h0m0.2 1.3h0m0.2-2.1h0m0.1 0.3h0m0.1 1.8h0m0-2h0m0.3 1.6h0m0.2-2.1h0m0.1 3.3h0m0-0.3h0m0-0.4h0m0.1 0.9h0m0.1 0.9h0m0-0.5h0m0 1.6h0m0.5-1.3h0m0-0.6h0m0.3 0.6h0m0.1 1.1h0m0.1-0.2h0m0.1-2.5h0m0-1.5h0m0.2 0.1h0m0 3.5h0m0.1-1.2h0m0.1-2.4h0m0-0.5h0m0 3h0m0.1-1.2h0m0 0.2h0m0.1 1.5h0m0 0.2h0m0.1-1.3h0m0.3-1.3h0m0-1.1h0m0-0.6h0m0.3 1.4h0m0-0.4h0m0.1 3.9h0m0.1-4.8h0m0.1 0.4h0m0 3.6h0m0.1 1h0m0.1-1.8h0m0.2-3.5h0m0 1.9h0m0.1 1.3h0m0.2-2.2h0m0.4 2.2h0m0.2 2.2h0m0.1-2.5h0m0.2-2h0m0.1 4.6h0m0-2.5h0m0.3 1.3h0m0 0.6h0m0.2-3.5h0m0.2 2.9h0m0.2-4.2h0m0.3 0.1h0m0.1 4.4h0m0.1-2.5h0m0.1-2h0m0 1.9h0m0-0.1h0m0.1 1.3h0m0-2.7h0m0.1 2h0m0.1-0.8h0m0.2 2.8h0m0.1 1h0m0.2-3.1h0m0.4 2.4h0m0-1.7h0m0.4-0.8h0m0.1-0.7h0m0.1 2.3h0m0.1-0.2h0m0-2.7h0m0 2.9h0m0.8-0.3h0m0-2.9h0m0.3 3.2h0m0.2-3h0m0.1 0.8h0m0 1.7h0m0.2-2h0m0.6 0.2h0m0.4 1.2h0m0.4-0.1h0m0.3-0.5h0m0 2.9h0m0-2.3h0m0-1.2h0m0.6 1.9h0m0.5-2.1h0m0.5 3.8h0m0.2-5.2h0m0 2.7h0m0.9-1h0m1.1-0.8h0m1.2 3.4h0m0.7-0.8h0m0.3-1.5h0m0 0.6h0m2 3.1h0m0.3-3.5h0m2.6 0.1h0m0.9-1.4h0m1.7 0.7h0m3.4 1.2h0m1 1.5h0m10.6 0h0m1.7 0h0m6.5-4.1h0m12.3 5h0m10.5-3.3h0m75.6-1.1h0m0.2-0.6h0m0.1 5.6h0m0.2-1.4h0m0.5 0.8h0m0-2.5h0m0.1-1.5h0m0.4 1h0m0 2.7h0m0 0.5h0m0.1-4.7h0m0.3-0.6h0m0.1 2.8h0m0.3 2.1h0m0.1 0.2h0m0-3h0m0.6 3.5h0m0.2-4.8h0m0-0.3h0m0.1 5h0m0.1-4.2h0m0 1.4h0m0.1 0.8h0m0-0.7h0m0.4 1.7h0m0.2 0.9h0m0.7-0.2h0m0.1 0.3h0m0.1-2.8h0m0.1 2.6h0m0-2h0m0.1-2.5h0m0.1 4h0m0.3-3.6h0m0 4.6h0m0.2-1.3h0m0-1.2h0m0.1 1.2h0m0.5-1.9h0m0.7-0.1h0m0 0.5h0m0 1.9h0m0-0.3h0m0.1-4.4h0m0 3.2h0m0.1-0.6h0m0.1 0.2h0m0.2-1.8h0m0.2 3.7h0m0.1 0.6h0m0.1-1.8h0m0.1-0.4h0m0-1.8h0m0.2 2h0m0.3-1h0m0.1 2h0m0.2-2.7h0m0-1.7h0m0 5.6h0m0-4.8h0m0.1 4.6h0m0.2-3.5h0m0.1 1.5h0m0 0h0m0.2 2.2h0m0.3-4.1h0m0.1 4h0m0-0.2h0m0-2.7h0m0.1 1.2h0m0-0.5h0m0-2.6h0m0.1 4.5h0m0.1-3.9h0m0-1.5h0m0.1 2h0m0.1 2.9h0m0-2.7h0m0.1 0.6h0m0.2-1.8h0m0.1 2.7h0m0.1 1.4h0m0-0.5h0m0-1.6h0m0.1 2h0m0.2-3.9h0m0 1.8h0m0.2-1.8h0m0-0.3h0m0 2.7h0m0 1.3h0m0.1-1.5h0m0-0.4h0m0.1-1.1h0m0-0.8h0m0.1 3.8h0m0.2-1.7h0m0 1h0m0.1-2.8h0m0 3.2h0m0.1-2.9h0m0 3h0m0.1-1.7h0m0.1 1.4h0m0-0.7h0m0 2.1h0m0.1-4.2h0m0.2 0.4h0m0-0.2h0m0.1-0.9h0m0 1.5h0m0 3.6h0m0.1-1.1h0m0.1-4.4h0m0 2.9h0m0.2 1.7h0m0-4.8h0m0.1 1.5h0m0.2-0.1h0m0.2-1.4h0m0 1.6h0m0 0h0m0.1 3.6h0m0.1-4.9h0m0.1 1.7h0m0-0.3h0m0 0.7h0m0.2 0.2h0m0.1 0.7h0m0.1-1.4h0m0.2 2h0m0 1.5h0m0 0h0m0.2-1.1h0m0 1.3h0m0.1-0.3h0m0.1-3h0m0.1-2.4h0m0 0.7h0m0 1.1h0m0.1 0.1h0m0 2.6h0m0.1-2.7h0m0.1 3.7h0m0.1-2.7h0m0 1.8h0m0.2-2.6h0m0 3.5h0m0.1-3.8h0m0.1 2h0m0.2-1.6h0m0.2 3.1h0m0-5.1h0m0.1 1.8h0m0 3.2h0m0-2.7h0m0.1 2.4h0m0.1-2.4h0m0.2 1.5h0m0 0h0m0.1-1.2h0m0 0.3h0m0-0.2h0m0.1-1.7h0m0 0.1h0m0.1 1h0m0.2-1.1h0m0.4 4.6h0m0-2.6h0m0.2-0.2h0m0.3 0h0m0.3 2.1h0m0.2-1h0m0-1.6h0m0-0.7h0m0.1 1.4h0m0.1-2.2h0m0.2 4.9h0m0-1.5h0m0.2 1.3h0m0.2-5h0m0 5.1h0m0-5.1h0m0-0.4h0m0.1 3.3h0m0-1.9h0m0.2-1.1h0m0.1 0.8h0m0.1-1.4h0m0 1.9h0m0.3 3.9h0m0.2-4.2h0m0 3.8h0m0.1-3.3h0m0.1 1.9h0m0 1.5h0m0.1-5.5h0m0 2.2h0m0.1-2.2h0m0.1 4h0m0 1.3h0m0.1-3.8h0m0.1 0.7h0m0.1-1.7h0m0.1 0.6h0m0.1 1.9h0m0 2.4h0m0.2-1.8h0m0.1-3.6h0m0 5.3h0m0.2-0.2h0m0-3h0m0-1.1h0m0.1-0.6h0m0.1 2h0m0.2 2.4h0m0.1-1h0m0.1-1.9h0m0.3-0.9h0m0.1 2.6h0m0-1.7h0m0.1 0.4h0m0 0.6h0m0.1 0.7h0m0.3 1.4h0m0 0h0m0.1 0.6h0m0-3.1h0m0.1-1.3h0m0 2.8h0m0-3.8h0m0 1.7h0m0.1 1.1h0m0.1 1.5h0m0.2-2.3h0m0.1 0.1h0m0 3h0m0-1.9h0m0 0.3h0m0.2 2.1h0m0-1.3h0m0 1.3h0m0.1-2.2h0m0-0.7h0m0 2.6h0m0.4-0.6h0m0.2-4.5h0m0.1 5.3h0m0.2-1.8h0m0 0.2h0m0.1 0.6h0m0.1-3.1h0m0.1 1.5h0m0.1-0.7h0m0 0.7h0m0.1 0.4h0m0.2-1.2h0m0-1.1h0m0.4 3.9h0m0.1-4.4h0m0.2-0.6h0m0.1 2.2h0m0.1 2.2h0m0.1-2h0m0 0.1h0m0 0.6h0m0.1 1.9h0m0-0.5h0m0-2.3h0m0.1 2.7h0m0.2-3.4h0m0-1.4h0m0 1.4h0m0.1 0.7h0m0-0.3h0m0.1 1.2h0m0.1-2h0m0 2.8h0m0.2-3.3h0m0 4.7h0m0.3-1.6h0m0-2h0m0.1 0.3h0m0.1-0.8h0m0.3 2.1h0m0.2 0.3h0m0.1-1h0m0.1-1.6h0m0.2-0.1h0m0 1.4h0m0-1.8h0m0.2 3.9h0m0.1-0.8h0m0.6-3.6h0m0.2 2.1h0m0.1-1h0m0.1 0h0m0 1.9h0m0.3-1.7h0m0 2.7h0m0.1 1.3h0m0.1-3.7h0m0.2 1.3h0m0-2h0m0.1 2.2h0m0.1-0.9h0m0.1 1.7h0m0.1 0.6h0m0.9-3.1h0m0.1 3.2h0m0.2-2.1h0m0-1.3h0m0.2 0.7h0m0.3-1.7h0m0.2 3.6h0m0-1.8h0m0-1.5h0m0.2 1.1h0m0.8 4h0m0-5.2h0m0.3 5.2h0m0.2-5.5h0m0.2 0.4h0m0.2 0.4h0m0 0.5h0m0.3 0.6h0m0.6 3.4h0m0.3-5.5h0m0 0.2h0m0.2 2.5h0m0 1.1h0m0.2-1.7h0m0.1-0.4h0m0.3-1.7h0m0.2 2.3h0m0.1 1.5h0m0.5-3.7h0m0.2 5.3h0m0.4-0.2h0m0-1.3h0m0.5-0.2h0m0.4-3.2h0m0.1 0.6h0m0.8-0.7h0m0.3 0h0m0.5 1.1h0m2.2 4.3h0m0.2-5.7h0m4.9 4.5h0m3.9-2.7h0m6.6 2.4h0m2.4 0h0m2.3-2.1h0m9.2 1.3h0m3.2 1.7h0m4-2.5h0m9.9 0h0m1.7-2.5h0m-439.8 11.7h0m3.4-1.8h0m0.3-2.3h0m0.3 1.9h0m1.2-1.2h0m0.5-2.5h0m0.4 5.1h0m1.3-4.6h0m0.2 2.3h0m0.3-1.5h0m0.9 3.5h0m1.5 0.9h0m0.8-1h0m0.1-4.5h0m0 5.2h0m0.2-0.6h0m0.1-4.6h0m1.7 2.6h0m0.9 0.7h0m0.1-0.5h0m0 1.6h0m0.1-0.5h0m0.3-1.3h0m0.1-2.5h0m1.4 2.6h0m0.8-0.9h0m0.4 2.4h0m0.6-2h0m0.8-1.7h0m1.8-0.5h0m0.3 3.8h0m0.3 0.8h0m0-4.4h0m0.5 2.3h0m0.6 2.5h0m0.5 0.2h0m0-4.3h0m2.2 1.5h0m1.5-2.1h0m147.7 1.3h0m0.2 0.3h0m0-1.6h0m0.4 3.2h0m0.2 2h0m0.1-3.2h0m0.3-2.4h0m0.5 3.8h0m0.2-3.3h0m0.1 0.1h0m0 1.8h0m0-0.3h0m0.3-0.9h0m0.3 0.6h0m0.1 0.3h0m0.3 2h0m0-0.2h0m0.1-3.6h0m0.1 5.4h0m0.1-5.7h0m0.4 3h0m0.3-1.1h0m0.3-1.5h0m0.1 2.3h0m0.4-1.7h0m0.3 3.4h0m0.2-4.1h0m0.2 4.6h0m0.3-0.8h0m0.2-3.6h0m0.3-0.6h0m0.1 5.1h0m0.2-2.7h0m0.1 0.3h0m0.6-1.7h0m0.2 1.3h0m0.1-1.2h0m0.1 2h0m0.4 1.1h0m0.2-2.5h0m0.1 0.1h0m0.2 2.5h0m0-1.6h0m0-2.1h0m0.1 3.8h0m0.2-0.2h0m0.3-1.3h0m0-0.7h0m0.6 0.6h0m0.2-0.2h0m0.1 1.1h0m0 1.1h0m0.1-3h0m0.1 3.6h0m0.1-4.5h0m0.1 4.7h0m0.1-1.2h0m0.1-3.1h0m0.1 2.9h0m0.3-2.3h0m0.2 2.7h0m0-3.5h0m0 1.4h0m0.1 2.2h0m0.2-4.1h0m0 2.1h0m0.2 1.5h0m0-2.1h0m0-0.8h0m0.1-0.6h0m0 1.5h0m0.3-1.2h0m0.1 3.1h0m0-2.9h0m0 0.3h0m0.1 4.4h0m0-5.9h0m0.3 0.7h0m0.2 0.5h0m0.2 2.5h0m0.2-0.4h0m0.1-0.2h0m0.2 0h0m0.1 0h0m0.2 1.6h0m0-1.4h0m0.2-3.1h0m0 2.2h0m0.1-0.7h0m0-1.2h0m0 1.3h0m0-0.8h0m0.1-0.8h0m0.6 4.6h0m0.2-0.8h0m0.2 0.4h0m0-1.7h0m0 0.9h0m0.1 0.7h0m0.1-2h0m0.4 1.8h0m0.1-2.7h0m0 0.1h0m0.1 2.3h0m0 2h0m0.2-0.1h0m0-3.7h0m0 1.1h0m0-1.4h0m0.1 1.4h0m0.1 1.7h0m0-3.1h0m0.3 0.1h0m0.1-1h0m0 4h0m0.2-1.7h0m0.3-2.5h0m0.5 3.1h0m0 1h0m0.1-3.7h0m0.1 3h0m0.2 0.3h0m0-2.5h0m0-0.9h0m0.1 0.1h0m0.1 4.5h0m0.2-3.7h0m0.1-0.3h0m0-0.9h0m0.2 4.2h0m0-2.8h0m0.1 3.8h0m0-0.4h0m0.1-2.6h0m0.2 2.4h0m0-1.1h0m0-1.8h0m0.1 2.6h0m0.2-2.3h0m0.1-1.9h0m0.2 0.9h0m0 1.3h0m0.1 1.6h0m0-4h0m0.3 1.6h0m0.1 0.8h0m0.2 1.2h0m0.1-3.7h0m0.2 2h0m0.1-1.4h0m0 3.2h0m0.1-2.2h0m0.1 1.9h0m0.1-1.4h0m0.1 1.9h0m0.1 1h0m0.3-1h0m0.1-1.9h0m0.8-2.3h0m0 3.4h0m0.4-2.4h0m0.3-0.8h0m0 5h0m0.2-1h0m0-2.9h0m0.1-1.3h0m0 2.5h0m0.1-0.7h0m0 2.2h0m0.5 1.1h0m0.1-0.5h0m0-0.8h0m0.3 1.1h0m0.1-2.8h0m0.3 2.7h0m0.1-3.8h0m0.2-0.8h0m0.4 0.1h0m0.1 1.3h0m0.4 1.8h0m0.1 1.9h0m0-0.2h0m0.6-2h0m0.1-2.8h0m0.1 1.1h0m0.3-0.2h0m0.1-1h0m0.1 2.7h0m0.5-1h0m0-0.4h0m0.2 0.8h0m0.1-0.9h0m0.1 0.7h0m0.1 1.8h0m0.2-3.5h0m0.5 4.9h0m0.3-3.3h0m0.7 0.7h0m0.2-1.6h0m0.5-0.9h0m0.2 3.4h0m0.6-1.8h0m0-0.7h0m0.5 1.1h0m0.1 1.8h0m0-1.1h0m0.3-0.9h0m0 0.9h0m0.7 0.8h0m0-1.4h0m0.1 2.1h0m0.2-3.4h0m0.3-0.8h0m0.4 4.7h0m0-3.1h0m0.5-1.8h0m0 0.1h0m0 5.5h0m0.8-0.3h0m1.6-1.2h0m0.1-4.3h0m0.5 4.3h0m0.2 0.6h0m1.8 0h0m0.4 1h0m0.5-4.3h0m0.9-0.6h0m0.6 0.8h0m3.3 1.8h0m1 2.2h0m0.8-5h0m6.5 0.8h0m0.8 1.6h0m7.2-2.4h0m0.9 2.4h0m10.7 0.9h0m4.1-1.8h0m0.8 1.8h0m2.4 0h0m4.1-3.3h0m1.7 3.3h0m2.3-1.8h0m3.4 2.6h0m30.2 0h0m51.1-0.8h0m0.1-3.7h0m0.2 2.5h0m0.8 2.5h0m0.1-3.4h0m0.5-0.1h0m0 4h0m0.2-1.2h0m0.1 0.1h0m0.4-0.7h0m0.2-3.7h0m0.2 3.8h0m0.1 0.7h0m0.1-1.4h0m0.1-0.1h0m0.1-1.5h0m0.2 3.6h0m0.1-3.6h0m0.1-0.6h0m0.4-0.4h0m0 0.1h0m0.2 1.6h0m0-2h0m0.1 0.4h0m0 3.3h0m0-2.6h0m0.1-0.6h0m0.2-0.9h0m0 3.9h0m0.1-3.8h0m0 1.8h0m0.1 0.6h0m0 1.9h0m0.3-4.3h0m0.4 1.6h0m0.1 1.1h0m0-2.1h0m0.1 4h0m0.2-0.8h0m0 0.5h0m0.2-0.3h0m0.2 0.1h0m0.2-4.2h0m0.1 5.7h0m0.1-5.2h0m0.3-0.2h0m0.6 4.6h0m0.1-2.7h0m0.2 3.2h0m0-5h0m0.2 4.8h0m0.3-4.9h0m0.2 4.6h0m0.6-0.9h0m0-2.8h0m0.3-1h0m0 5.4h0m0-3.5h0m0.1 0.8h0m0-2.4h0m0.1 4.5h0m0 0.4h0m0.1-5.1h0m0.1 2h0m0.1 0.6h0m0-2.3h0m0.2 3.3h0m0.1 1.6h0m0-3.5h0m0.4 1h0m0-1.9h0m0.1 1.1h0m0.1 0.2h0m0 0.1h0m0.1-0.4h0m0-1.5h0m0.1 4.3h0m0-1h0m0-0.3h0m0.1-1.5h0m0 1.2h0m0.2-2h0m0 3.1h0m0.3-4.5h0m0.1 4.9h0m0.1 0.2h0m0-2.2h0m0.1 2.3h0m0-5.1h0m0.1 2.2h0m0-1.8h0m0 0h0m0 2h0m0.2-1.2h0m0 1.7h0m0.2 0.1h0m0-2.7h0m0 0.3h0m0.2 3.4h0m0-0.6h0m0.2-1.8h0m0.2 1h0m0.2-0.5h0m0.1-0.1h0m0-0.2h0m0.1 1.1h0m0.1 0.6h0m0.2-1.7h0m0 1.5h0m0-0.7h0m0-0.3h0m0 0.9h0m0.1-2.8h0m0.1-0.6h0m0.2 0h0m0.2 4.5h0m0.1-0.1h0m0.1-1.6h0m0-2.1h0m0.2 1.2h0m0 1.6h0m0.3 2.1h0m0.1-3.1h0m0 2.2h0m0.1-3.6h0m0.2 2.5h0m0.1 1.1h0m0 0.5h0m0.5-3.9h0m0.1 0.2h0m0.1-0.9h0m0.2-0.6h0m0 5.5h0m0-0.5h0m0.2 0.8h0m0.2-1.4h0m0-1.3h0m0.2-0.7h0m0 2.3h0m0.1 0.7h0m0-4.6h0m0.2 3.3h0m0.1-3.9h0m0.1 4.4h0m0.1 0.9h0m0-4.7h0m0.1 0.9h0m0-0.1h0m0.1-0.1h0m0-0.8h0m0 0.3h0m0.1 0.2h0m0-1.1h0m0.1 2.7h0m0-1.7h0m0.2 1.4h0m0-1.8h0m0.2 2.5h0m0-0.1h0m0.4-2.4h0m0.1-0.2h0m0.1 2h0m0-0.2h0m0 3.1h0m0.1-1.6h0m0.3 2h0m0-5.3h0m0.1 0.5h0m0.2 4.8h0m0-1.5h0m0-2.5h0m0 1.5h0m0.1-1.7h0m0.1 2.1h0m0 1.6h0m0.1-2.3h0m0.3 2.3h0m0.1 0.6h0m0.1-0.5h0m0-4.2h0m0.1 3.8h0m0-3h0m0.5 3.2h0m0-2.5h0m0.2 0.8h0m0.1 1.3h0m0.1-1.7h0m0-1.4h0m0.3-0.8h0m0.2 2.8h0m0-2.6h0m0.2 0.5h0m0 2.7h0m0.1 0.3h0m0-1.3h0m0-1.3h0m0.2-0.9h0m0 1.1h0m0.2-0.1h0m0.1 3.8h0m0.1-3.9h0m0.1 3.5h0m0 0h0m0.2-5.5h0m0.1 2.4h0m0.1 2.2h0m0.1-2.1h0m0 2h0m0.1 1.1h0m0 0.2h0m0.1-4.6h0m0.1 1h0m0 1h0m0.1 2.1h0m0.1 0.4h0m0.2-3.2h0m0 0.6h0m0 0.6h0m0.1 0.3h0m0.1-1.9h0m0.3-1.5h0m0 1.7h0m0 3.4h0m0.1-2.8h0m0 1.4h0m0.2-0.3h0m0.2-4h0m0.1 3.2h0m0.1-0.3h0m0.2-1.7h0m0.1 1.3h0m0.1 1h0m0.2 2.2h0m0.4-2.4h0m0.1 0.5h0m0.1-2.5h0m0.1 3.2h0m0.1-1.1h0m0.2-2.6h0m0.1 3.9h0m0-2.3h0m0.1 1.2h0m0-1h0m0.2-0.1h0m0.1 1.7h0m0.2-1.5h0m0.2-2.1h0m0.7 2.5h0m0.4-1.3h0m0.1 3.4h0m0.1-0.6h0m0.2-1.8h0m0-0.5h0m0-2h0m0.2 1.5h0m0.1 0.3h0m0.2 3h0m0-4.3h0m0.7 4h0m0.3 0.8h0m0.1-2.6h0m0.2-1.4h0m0.4 1.5h0m0.3-0.2h0m0.2 2.3h0m0-3.3h0m0.1 0.4h0m0.1-0.6h0m0.2-1h0m0.3 3.1h0m0.1-0.5h0m0.7 1.1h0m0.6-3.2h0m0.1 0.3h0m0 1.5h0m0-0.8h0m0.1 1.5h0m0.3 1.9h0m3.2-3.5h0m0 0h0m1.1 1.9h0m1.6 1.8h0m1.2-4.5h0m0.1-0.3h0m2.2 0.8h0m0.7 4.1h0m0.8-5.5h0m1.2 5.3h0m0-4h0m1.4 2.9h0m2.7 0.7h0m0.2-4.8h0m4.5 1.3h0m4.3 1.4h0m0.8 1.7h0m7.4-1.7h0m4.9-2.4h0m0.8 3.3h0m1.6-0.9h0m1.6 0.9h0m4.1-4.1h0m0 1.6h0m9-0.8h0m0.8 4.1h0m7.3-2.8h0m-448.5 5.7h0m4.6 2.8h0m4-1h0m0.1-1h0m2 2.5h0m2.9-1.5h0m1.9-2.1h0m1.2-1h0m2.4 3.7h0m0.1 0.4h0m1.4-4h0m0.6 5.1h0m0.8-4.9h0m0.2 2.4h0m0.1 0.3h0m2.1-2.7h0m4.9 2.4h0m146.6-0.1h0m0.1 2.8h0m0.3-4.6h0m0.2 1.9h0m0.4 2.3h0m0.9-4.1h0m0.2 3.7h0m0-1.2h0m0.1 1.7h0m0.2-3.6h0m0.2 1.8h0m0.2-0.2h0m0.1-3.2h0m0.1 5.4h0m0 0.1h0m0.2-1.3h0m0.1-3.5h0m0.3 3.4h0m0.7-1.4h0m0.2 1.9h0m0.1-0.9h0m0.7-0.6h0m0-3.2h0m0.2 1h0m0.3 0.3h0m0.1 1.5h0m0.6-2.7h0m0.2 2.7h0m0.1 0.7h0m0.2-2h0m0.2-1.3h0m0.1 2.2h0m0.1-0.2h0m0.1 2.2h0m0.2-2.1h0m0.1-0.7h0m0.2-1.8h0m0.3 0.7h0m0.1 2.5h0m0.1 2.1h0m0-0.5h0m0-0.7h0m0.1 0.2h0m0-0.2h0m0.3-2.7h0m0-1.1h0m0.4 4.1h0m0.4 0h0m0.4-0.5h0m0.1 0.7h0m0-1.5h0m0.3 0.4h0m0.2-2.1h0m0.2-1.1h0m0.3 1.4h0m0 3.5h0m0-0.5h0m0.1-1.9h0m0.2 0.1h0m0.5-2.9h0m0.4 2.5h0m0.1 1.4h0m0.2 0.5h0m0.2 0h0m0.3-1.4h0m0.2 0.8h0m0.1-1.3h0m0.2 3.1h0m0.2-2.9h0m0.1 1.3h0m0.1-2.7h0m0.4 2.6h0m0.2-2.9h0m0.4 1.8h0m0.2 2.9h0m0.1-1.8h0m0.9-3.2h0m0.3 0.5h0m0 2.2h0m0.1-2.2h0m0.2-1h0m0 2h0m0.1-0.9h0m0.1 1.4h0m0.1-0.8h0m0.2 3.5h0m0.1-2.4h0m0.1-2.2h0m0.2 0.2h0m0-0.8h0m0.1 3.8h0m0.1-3.4h0m0 1.7h0m0.2 1.1h0m0-1.3h0m0-1.7h0m0.1 3.7h0m0.1-1.8h0m0.2-2.2h0m0.1 0.8h0m0.1 2.3h0m0.1 2.3h0m0-0.3h0m0-0.9h0m0.1-2.7h0m0.3 1.2h0m0.4 2.5h0m0.1-4h0m0.1 3.7h0m0.3-0.5h0m0.1-0.9h0m0.3-1.8h0m0.1 2.7h0m0.1-4h0m0.2 5.2h0m0.1-0.9h0m0-4.2h0m0.2 1.2h0m0.5 1.1h0m0.6-2.5h0m0.1 2.8h0m0.3-2.4h0m0 4.7h0m0.3-0.9h0m0.2-3h0m0 2.2h0m0-3.1h0m0.1 3h0m0.3 0.4h0m0.1-3h0m0.2 3.9h0m0.1-2.2h0m0-0.1h0m0.6 0.1h0m0.4-1.2h0m0.1 3.2h0m0 0.1h0m0.5-4.1h0m0 2.6h0m0.7 0.4h0m0.9-3.8h0m0 3.4h0m0.1-3.5h0m0.2 0.8h0m0 2.4h0m0 0.1h0m0.4-2.4h0m0.9 3.8h0m0.1-0.7h0m1-2.7h0m0 3.4h0m0.3 0.5h0m0.2-3.8h0m0.2 1.7h0m0.4-1h0m0.1-0.4h0m0.3 1.9h0m0.1 1.7h0m0.2-2.5h0m0.2 2.6h0m0.2 0.4h0m0.4-5.2h0m0.6 1.4h0m1.7-0.8h0m0.3-0.2h0m1.9 0.5h0m0.4 3.6h0m0.3-0.8h0m2.1-3.3h0m2.7 4.3h0m1.9-3.1h0m0.9-0.3h0m2.9-1.8h0m8.7 1.2h0m3.3 0.8h0m2.3 0.9h0m3.4 0h0m8.2 1.6h0m3.2-3.3h0m3.2 0h0m3.4 0.8h0m0-1.6h0m2.4 2.5h0m11.5 1.6h0m20.4 0.7h0m56-1.1h0m0.2-3.2h0m0 2.5h0m0.1-2.7h0m0.4 3.6h0m0.3-3.1h0m0 3.2h0m0 0.9h0m0.2-1.9h0m0.2-2.3h0m0.4 3h0m0.2 1.6h0m0.1-5.6h0m0.2 4.1h0m0.1-2.9h0m0.5 4.5h0m0.1-1.7h0m0.2 1.7h0m0-0.3h0m0.1-5.4h0m0.3 2.6h0m0.2-2.1h0m0.1 1.2h0m0.5 0.4h0m0.1 2h0m0.1-3.4h0m0 0.2h0m0.1 1.6h0m0.5-2.2h0m0.1 2.9h0m0.1-3.3h0m0 1.9h0m0.2 1.4h0m0.1 0.3h0m0.6-3.7h0m0.2 2.4h0m0.2 2.5h0m0.1-0.1h0m0-3.4h0m0.2 2.5h0m0.2-2.5h0m0-0.2h0m0.1 0h0m0.1-0.5h0m0.2 0h0m0.1 1.9h0m0.1 2.9h0m0.4-5.4h0m0.7 2.2h0m0.1-2h0m0.2 3.1h0m0-3.2h0m0.1 3.8h0m0-0.5h0m0.4-1.2h0m0.1-1.6h0m0.1 2.5h0m0.1 0h0m0-1.9h0m0.1 3.5h0m0.1-3h0m0.1-0.1h0m0.2-1.4h0m0 5.4h0m0-2.3h0m0.1-2h0m0.1 0.1h0m0.1-1.5h0m0.2 0.1h0m0.2 1.4h0m0.1 2.3h0m0.3 0.8h0m0-4.6h0m0.2 1.9h0m0.1-0.8h0m0.6 3.6h0m0.3-2.6h0m0.2 3.2h0m0.6-4.5h0m0.1 3.5h0m0-1.4h0m0.1 1.2h0m0 0.9h0m0.1-1.3h0m0-2.4h0m0.1 0.1h0m0-0.9h0m0.2 1.2h0m0.1-0.6h0m0.2 2.9h0m0-3h0m0.2 4h0m0.3-2.4h0m0.4 2.5h0m0.1 0.3h0m0.1 0.4h0m0.3-0.4h0m0.1-3.8h0m0.2-0.6h0m0.1-0.4h0m0.1 3.8h0m0-2.9h0m0 0.9h0m0.1 1.4h0m0.1-1.8h0m0.1-1.7h0m0 1.4h0m0 3.6h0m0.1-3.8h0m0.2-1.2h0m0.3 3.5h0m0.5-3.7h0m0.2 4.7h0m0.1 1h0m0.1-3.8h0m0 0.8h0m0.1 2.5h0m0.1-2.9h0m0 0.3h0m0.1-1h0m0.2 3.7h0m0-4h0m0.2 0h0m0 4.3h0m0.1-2.8h0m0.3-0.9h0m0.1 1.4h0m0.2-1.7h0m0.2 2.9h0m0.1-3.3h0m0.5-1.3h0m0.2 1.1h0m0.2-1.1h0m0.2 2.9h0m0.1 0.1h0m0.1-0.7h0m0.2 2.6h0m0.1-1.4h0m0-2.8h0m0.5-0.2h0m0 0h0m0.5 4h0m0.2-4.5h0m0.1 1.7h0m0-1.2h0m0 0.3h0m0.1 3.3h0m0.1 0.5h0m0.4-3.2h0m0.1-1.2h0m0.2 0.4h0m0 3.4h0m0.7-3.6h0m0 4.4h0m0.1 0.5h0m0.1-0.8h0m0.3-2.6h0m0.3-0.7h0m0.6 2.2h0m0.2-1.7h0m0.2 0h0m0.2-0.7h0m0.1 2h0m0.3-0.2h0m0.3-0.3h0m0.1-2.3h0m0.1 2.2h0m0.1-0.2h0m0.1-2.2h0m0 5.3h0m0.1 0h0m0-3.3h0m0-1.1h0m0.2 2.6h0m0.1 0.8h0m0.2-1.2h0m0.4-0.6h0m0.1 2.4h0m0.4-4.1h0m0.2 3.5h0m0.1-1.5h0m0.1 2.9h0m0-3.4h0m0.7 0.1h0m0.2-2.2h0m0.1 0.3h0m0.1 0.9h0m0.1-0.6h0m0.3 0.1h0m0.4 4.5h0m0.3-2.8h0m0.1 3.1h0m0.5-1.8h0m0.4-3.2h0m0.2 3.2h0m0.1 1.3h0m0.2-4.3h0m0-0.4h0m0.5 2.1h0m0-2h0m1.8 4.1h0m0.7 0.6h0m0-2.6h0m0.7 0.1h0m0.7 1.1h0m0.6-2.2h0m0.9-0.9h0m0.5 2.2h0m0.9 2h0m0.1-3.5h0m0.1 0.1h0m0.3 2.5h0m0.7-3.6h0m0.3 0.9h0m0.6 0.8h0m1-1.9h0m0.7 1.8h0m1.8 3.7h0m0.9-1.2h0m0.9-4.4h0m10.5 0.3h0m1.7 0h0m8.2 0h0m0.8 4.8h0m5.7-4h0m2.4-0.8h0m11.5 1.6h0m13.9 0.9h0m0.8-1.7h0m-450.5 5h0m0.5 5.4h0m2.9-4.7h0m0.4 3.3h0m3-4.2h0m1.5 1.3h0m0.5 2.2h0m1.1-0.7h0m0.4 2.6h0m0.6-3h0m0.2-1.9h0m1.6 1.1h0m0.4-0.6h0m0.1-1h0m1.4 2.5h0m13.4 0.3h0m17.9 2.4h0m127.4-5.3h0m0.1 3.1h0m0.2 0.8h0m0.1-0.9h0m0.8-0.3h0m0-2.2h0m0 3.8h0m0.6-4h0m0.5 0.1h0m0.1 2.4h0m0.6-2.4h0m0.4 0.8h0m0.1 3h0m0.1-3.1h0m0.6-0.4h0m0.3-0.5h0m0.2 1.7h0m0.6 0.8h0m0.8 3.1h0m0.3-0.4h0m0.1 0.3h0m0.7-4.5h0m0.9-1.1h0m0.8 5.1h0m0-3.7h0m0.1 2.5h0m0.2 0.4h0m0-2.1h0m0.3-1.1h0m0.2-0.1h0m0.2 0.6h0m0 0h0m0.4 3.4h0m0-5h0m0 0.6h0m0.1 1.4h0m0.4 2.6h0m0.5-1.3h0m0.3-2.7h0m0.3 1.6h0m0.1-2.3h0m0.1 2.7h0m0.1 0h0m0.7-2.1h0m0.4 0.9h0m0 0.6h0m0 3h0m0.2-3.6h0m0 1.1h0m0.1-0.3h0m0.2 0.8h0m0-2.1h0m0.1 0.8h0m0.8 1.5h0m0-2h0m0.8 0.3h0m0.8 0.5h0m0.4 2.8h0m0.2-4.5h0m0.2 5h0m0.3-0.8h0m0-1.4h0m0.4 0.1h0m0.1 1.6h0m0.8-2.4h0m0.2 2.8h0m0.2-5h0m0.4 3h0m0.2-3.3h0m0.1 0.7h0m0.4 1.3h0m0 2.8h0m0.4-4.6h0m0.9 0.1h0m0.4 3.5h0m0.3-3h0m0.1 3.7h0m0-2.4h0m0.2-0.1h0m0.2-1.9h0m0.1 2.5h0m2.1 0.8h0m1.4-2.3h0m0.7 0.1h0m0.3-0.9h0m0.2 4.6h0m0.2-2.8h0m0.1 0.3h0m0.5-1.7h0m0.2-0.4h0m0.3 0.2h0m1.5 5h0m0.9-5.1h0m0.8 0.7h0m0.6-0.2h0m1.7 1.1h0m0.2-1h0m1.4-1h0m0.1 3.1h0m32.9-1.2h0m3.2-0.9h0m21.3 3.3h0m80.4-2.6h0m0.1-1.2h0m0.4-0.3h0m0.2 1.5h0m0.6-1.3h0m0.3 0h0m0 0.3h0m1.4 3.4h0m0.1-0.9h0m0.1-0.9h0m0.6-1.8h0m0.9 1.9h0m0.2-2h0m0.2 2.6h0m0.2 0.2h0m0.2-1.8h0m0.4-0.4h0m0.2 2.6h0m0.1 1.2h0m0.2-4.1h0m1.1 2.3h0m0.2-0.6h0m0.1 0.7h0m1.4-1.7h0m0.1 0.4h0m0.9-0.4h0m0.3 1.2h0m0.2-0.3h0m0-1.2h0m0.7 1.9h0m0.3-3h0m0 3.5h0m0.2 1.9h0m0.5-0.8h0m0.4-4.3h0m0.7 3.8h0m0.4-0.9h0m0 1.7h0m0.6-1.7h0m0.8 2.3h0m0.8-3.8h0m0.3 2.3h0m0.3-3.6h0m0.1 0h0m0 1.7h0m0.4 1.3h0m0.4 1.3h0m0.3-2.5h0m0-1.7h0m0.3 4h0m1.7-1.6h0m0.1 1.9h0m0-4.7h0m0.4 1h0m0.2-0.8h0m0.1 3.4h0m0.3-1.3h0m0.2 2.2h0m0.2-3.4h0m0.1-1.1h0m0.8 2.8h0m0.1-1.9h0m0.6 0h0m0.3 2.3h0m0.2-1.9h0m0.6-1.2h0m0.2 3.2h0m0.3 1.1h0m0.4-4h0m0.5 1.9h0m0.3 0.1h0m1.2-0.1h0m0.1-1.1h0m0.1-0.2h0m0.4 1.8h0m0.3-2.3h0m0.6 3.3h0m1 0.3h0m1.1-1.4h0m0.3-2.3h0m1.5 2.7h0m0.1-1.3h0m0.8-0.4h0m2.5 1.1h0m0.1-0.4h0m0.4-0.6h0m0.5 2.8h0m0.1-4.1h0m1.4 0.3h0m0.5 1.2h0m3 1.4h0m13.4 2.8h0m1.6-3.3h0m12.3 0h0m16.3 0.8h0m0.8-3.3h0m17.2 4.1h0m-434.7 2.5h0m173.8-0.4h0m3 0h0m8.6-0.4h0m203 77.2h0m11.2-1.6h0m1.3-0.8h0m0.6-0.8h0m-195.5 5.8h0m184.7-1.8h0m-394.3 9h0m392 1.3h0m-407 6.7h0m3.5-2.4h0m6.7 1.2h0m9.8-2.8h0m383 2.2h0m3.2 0.8h0m-408.9 5.9h0m20.2-0.8h0m0.4 2.3h0m369.9-5.1h0m10.4 0h0m3.1 3.3h0m4-3.3h0m-407.2 7.2h0m2.7 2.9h0m2.2-3.4h0m1.5 3.6h0m9.1-2.9h0m18.5 1.8h0m164.2-0.8h0m4.3-2.4h0m185.6-0.3h0m2.4 0.8h0m28.7 1.5h0m-419.6 8.5h0m1.2 0h0m8.3-1.2h0m1.3-1.9h0m18.4-1.7h0m5.9 2.4h0m355.3-2.1h0m32.5 0.9h0m-420.1 8.9h0m5.7-0.4h0m16.1-2h0m2.3 2.7h0m2.1 0.6h0m6.2-2.9h0m366.9-0.5h0m-399.9 6.2h0m1.3 3.1h0m3.5-2.7h0m1.3-1.6h0m11.9 5.3h0m3.8-4.1h0m2.7-0.8h0m0.1 0.3h0m10.7 0.4h0m390.1-0.5h0m-427.9 6.5h0m18.8 0.1h0m2 3.6h0m9.8-3.2h0m207.9-0.2h0m149 2.5h0m10.9 0h0m13.6 0.7h0m10.4-5.2h0m15.2 5.6h0m4-4.8h0m-420.5 9.2h0m9.2-0.4h0m3.2 0.5h0m0.4-1.6h0m1 0.7h0m1 1.1h0m160.8-1.7h0m27.3 2.6h0m171.9-2.4h0m1.7 2.4h0m4.1-0.6h0m2.6-4.3h0m3.8 5h0m3.5-3.9h0m0.3 0.6h0m2 0.7h0m0.5 0.1h0m0.4-1.5h0m0.9 1.5h0m0.2 2.5h0m1.7-1h0m0.4 0.2h0m0.5 0.5h0m0.7 0.2h0m7.2-2.4h0m5.5 0h0m8 0.8h0m0.9-3.3h0m13.6 1.7h0m-443.7 7.7h0m12.7-0.5h0m157-0.1h0m0.9 1.1h0m15.4-0.8h0m1.3 2.1h0m2.6-1.2h0m0.6 0.5h0m0.2-1.4h0m11.9-0.5h0m7.4-0.7h0m0.5 3.6h0m11.9-1h0m167.6-4.3h0m0.9-0.1h0m0.7 4.5h0m0 0.6h0m1.8 0.4h0m0.7-0.3h0m0.5-2.7h0m1.1-2.2h0m0.4 3.3h0m1.1-1.7h0m0.7 2.6h0m1 0.7h0m1.6-4.9h0m2.4-0.7h0m1 3.7h0m0.6-1.4h0m0 2.4h0m0-0.9h0m0.7 1.6h0m1.7-4.7h0m0.5 2.1h0m5.8 1.9h0m2.5-4h0m0 4h0m1.5-3.1h0m4 1.6h0m4-3.2h0m11.3 4h0m4 1.6h0m2.4-5.6h0m4.8 3.2h0m-458.2 8.4h0m5-1.8h0m10.7 0.5h0m2.5 0.2h0m0.1 1.3h0m2-4h0m1.1 2.7h0m0.2-3.5h0m0.3 0.4h0m1.8 0.5h0m0.7-0.4h0m0.5 1.8h0m0.8 1h0m1.2-0.6h0m1-2.9h0m0 2.8h0m0.8-0.2h0m1-2h0m0.6 0.5h0m1.1 0.4h0m0.2-0.1h0m0.7 0.9h0m0.1 0.5h0m0.4-1.8h0m4.7 1h0m146.5 0.2h0m0.2 2.9h0m0.6-2.2h0m3.1 0.2h0m0.1-3.1h0m2.6 1.5h0m0.2-0.6h0m0.6 3.2h0m0.9-4.8h0m12.3 5.7h0m0.2-0.6h0m2.2-4.1h0m0.3 0.2h0m4.4-0.2h0m2 2.2h0m0.1-1h0m1.1-1.5h0m3.9 4.5h0m0-1.4h0m6.3 0.5h0m2.2-3.1h0m1.6 2.5h0m1.1 1.8h0m7.8-2.7h0m150.8-0.9h0m1.6 1.7h0m0.3-0.1h0m1.2-2.6h0m0.9 4.2h0m1.7-3.4h0m0.7 2.5h0m2.4-4h0m0.1 0.8h0m0.2 1.5h0m0.1 0.8h0m0.6 2h0m0.5-1.3h0m0.7 1.4h0m0.1-3.5h0m0.2 2.1h0m0.4-2h0m1.1 2.2h0m0.8-0.6h0m0.8-2.5h0m0.5 3.7h0m0.1-0.5h0m0.4-1.5h0m0.2-2.6h0m0.2 4h0m0.2-3.9h0m0.1 1.1h0m0.6 1h0m1.8 2.7h0m0.4-0.5h0m0.4 0h0m0.2-2.2h0m1.3 1.8h0m0.6-2h0m0.1 3h0m0.2-3.8h0m1-0.5h0m0.4 1h0m0.4-1.2h0m1.3 0.4h0m4.5 0.1h0m1.1 2.4h0m7.1-0.3h0m0.6 0.1h0m28.3 0.8h0m8-2.3h0m-463.8 5.5h0m0.9-0.5h0m0.3 4.4h0m4.2 0.4h0m1.9-0.5h0m0.4-0.6h0m0.2-0.2h0m0.1-2.2h0m1.8 1.9h0m4.5-4.1h0m0.8 1.8h0m0.8 0.5h0m1.2 3.3h0m0-1.5h0m1-1.6h0m0.4 2.4h0m0.1-3.8h0m0.2 1.1h0m0.2 2.3h0m0.5 0.8h0m0.3-4.6h0m0.2 1.7h0m0.6-1.7h0m0.8 4.8h0m0.2-2.9h0m0.1-0.1h0m0.1 0.4h0m0.3-1.5h0m0.1 0.9h0m0.3-1.6h0m1.1 0.7h0m0.3 3.8h0m0.4-0.1h0m0.2-0.4h0m0.2-1.6h0m0.8-0.2h0m0-2.5h0m0.3 3.3h0m0 0h0m0.1-1.8h0m0.1 2.4h0m0.1-0.2h0m0.5-0.3h0m0.1-3.4h0m0.4-0.4h0m0 3h0m0.3 1.5h0m0.2-4h0m0.2 3.7h0m0-0.6h0m0.4 1.3h0m0.6 0.1h0m0.3 0.4h0m0.1-2.7h0m0.1 2.1h0m0.2 0.9h0m0.1-0.8h0m0-0.4h0m0.1 0.3h0m0.4-0.7h0m0.1-2.7h0m0.1 2.5h0m0-3.3h0m0.5 2.2h0m0 2.7h0m0.1-0.5h0m0.6-2.9h0m0 0h0m0.1-1.4h0m0 1.8h0m0.3 1h0m0-0.6h0m0.2 2.4h0m0.2 0.5h0m0.1-0.9h0m0.2-0.7h0m0.7 0.3h0m0.3-3.1h0m0.3-0.5h0m0 3.9h0m0.2-3.2h0m0.2 2.9h0m0.4-2.1h0m0-2h0m1.8 4.5h0m0.5 0.5h0m0-1.9h0m1.2 0h0m0.2-2.6h0m0.1 3h0m0.2 0.7h0m1.9 1h0m1.5-2.7h0m143.1-2.5h0m1.8 5.3h0m2.3-5.8h0m1.5 3.9h0m2.2-0.7h0m2.6-1h0m1.1-2.2h0m0.8 2.7h0m1.9-1.6h0m1.3 4.3h0m0.6-2.3h0m1.2-3.1h0m0.7 0.4h0m1 1.9h0m1 2.4h0m0.2-2.9h0m0.1 3.3h0m0.8-1.2h0m0.2 0.1h0m1.2-3.8h0m0.2 4.2h0m0.4-3h0m0.4 0.3h0m0.4 2.4h0m0.3-0.2h0m0.3 0.1h0m0.2-1.2h0m0.9-2.2h0m1.1 3.2h0m0.7-2.2h0m0.5 3.8h0m1.9-4.3h0m2.1 3.9h0m1.4-1.6h0m2.4 1.1h0m0.5-1.7h0m0.4 2.9h0m0.7-2.1h0m1-2.8h0m0.5 4.8h0m0-1.9h0m0 1.3h0m0.8-3.8h0m0.4 0h0m0.9-0.5h0m2.2 2.2h0m0.8 1.8h0m0.1-1h0m1.3 0.6h0m0.6 0.7h0m0.6-1.3h0m0-1.9h0m0.5-0.9h0m2.6 3.5h0m0.1 0.3h0m2.5 0.1h0m0.4-4.6h0m129.1 5.3h0m15.4-3.5h0m0.6 3.1h0m2-4.4h0m1.6 4.1h0m2.2-4.3h0m2.3 1.1h0m1.5 3.1h0m0.9-4.7h0m2 3.2h0m0.1-2.7h0m0.8 1.5h0m0.1-1.5h0m1.2 4.6h0m0.3-4.9h0m0.3 3h0m0.3 0.3h0m2-1.9h0m0.2 3.6h0m3.6-4.8h0m2.6 1.7h0m0.1-2.1h0m0.1 2.1h0m2.3-1.7h0m2.4 1.2h0m1.2 0.4h0m22 2.7h0m4-4h0m-438.9 10.2h0m1.1-1.6h0m0.4-1.9h0m1.6 3h0m2.5-3.9h0m0.4 0.6h0m0.9 1.8h0m0.1-0.3h0m0.1 3h0m0.9-2.5h0m0.9 1.5h0m0.1-3h0m1.8-1.2h0m0.2 3.1h0m0.5-3.1h0m0.8 0.6h0m0 0.4h0m0.9 3.9h0m0-0.2h0m0.5-2.8h0m0 2.1h0m0.1-1.4h0m1.5-1.9h0m0.4 3.4h0m0.6-2.9h0m0.2-1.2h0m0.3 1.1h0m0.5 1.9h0m0.1 0.3h0m0-0.7h0m0.3 0.5h0m0 0.9h0m0.1-0.5h0m0.1 1h0m0.2 0.5h0m0.2 0.5h0m0.2-1.7h0m0.1 0.9h0m0.3-2.6h0m0.4 3h0m0-0.9h0m0.5 0.9h0m0.1-4.7h0m0.1-0.1h0m0 4.7h0m0-0.4h0m0.6-4.1h0m0.8 3.5h0m0.5 1.2h0m0.1-4.1h0m0.1 4.4h0m0.1-4.5h0m0.1 3.6h0m0-3.4h0m0.3 2.9h0m0-1.5h0m0.1 1.7h0m0-3.1h0m0.3 1.6h0m0.1 2.7h0m0-1.3h0m0.1 0h0m0.2-1.8h0m0.1 2.2h0m0-1.9h0m0-2.9h0m0.1 3.5h0m0.2 2.1h0m0.1-3.7h0m0 2h0m0.1 1.3h0m0.1-5.1h0m0.4 1.6h0m0-0.7h0m0 1.7h0m0.6 1.7h0m0-4.5h0m0 2.1h0m0.1-1.9h0m0.1 5.5h0m0.2-4.9h0m0.3 0h0m0.1 2.3h0m0 2h0m0.3-0.3h0m0.1-4.6h0m0.1 3.5h0m0.1-3h0m0-0.3h0m0 0.8h0m0.3 3.4h0m0.4-4.7h0m0 0.1h0m0 2.9h0m0.1-1.9h0m0.2 4.6h0m0-5.7h0m0.1 0.7h0m0.3 2.9h0m0-1.4h0m0.1 0h0m0.1 1.5h0m0.1-0.6h0m0 1.9h0m0.1-4.2h0m0 1.1h0m0.1 0.5h0m0.1-2.4h0m0 1.9h0m0.1 3.5h0m0-3.3h0m0.2-1.6h0m0 5.3h0m0-0.5h0m0.3-2.6h0m0-2.2h0m0.2 4.3h0m0.3 0.3h0m0.1-1.5h0m0.2-1.7h0m0.4 1.5h0m0.1 2.2h0m0-1h0m0.1-0.9h0m0.3-1.9h0m0.1 1.8h0m0.1 1.8h0m0-3.1h0m0.2 2.8h0m0.3-4h0m0 4.7h0m0.1-5.8h0m0.3 2.5h0m0.2 0.4h0m0.2 2.5h0m0.3 0.4h0m0.1-1.1h0m0.4 0.3h0m0.2-5h0m0.1 4.3h0m0 0.5h0m0.2-1.4h0m0 1.3h0m0.1 0.2h0m0.4-2.7h0m0-1.8h0m0.6 0h0m0.3 3.2h0m0.2-3.5h0m0 0.6h0m0.2 3.9h0m0.6-2.2h0m0.1-1.3h0m0.4 1.6h0m0.2-0.5h0m1.2 3.2h0m1.3-1.9h0m0.5 1.7h0m0-5.2h0m0.1 1.3h0m150.6-0.1h0m0.6 4h0m0.5-5.2h0m0.3 1.1h0m0.5-0.7h0m0.2 3h0m1.9-0.5h0m1-1.9h0m1.1 2.3h0m0.4 1.3h0m0.1 0.5h0m0.7 0.2h0m0.2-3.5h0m0.1 1.6h0m0.7 1.9h0m0.1-3h0m0.4-0.3h0m0 0.9h0m3.8-2.6h0m0.4 0.1h0m0.8 3.8h0m0.1 0.8h0m0.3-4.1h0m0.1 4.3h0m0.5-1.5h0m0.3 1h0m1.9 0.2h0m1.9-2.7h0m1 0.9h0m0.3 2.5h0m0.3 0h0m0.5-4.8h0m0.6 3.3h0m2.9-1.2h0m0.3 2h0m1-0.2h0m1.9-2h0m0.4 2.3h0m0.4 0.1h0m0.3-1.6h0m0.1 0.8h0m1 0.6h0m1.2-3.4h0m0.2-1.4h0m0.6 0.7h0m0.1 3.1h0m0.5-3.3h0m1.2 3h0m0.9-0.7h0m0 0.3h0m0 2.2h0m1.1 0.2h0m0.1-2.1h0m0.9 1.7h0m0.1-3.6h0m0.3-0.9h0m0.3 2.3h0m0.5 1.5h0m0.2-2.9h0m0.7-0.7h0m0.1 3.5h0m0.6-0.8h0m0.2 1.4h0m0.9 0.3h0m0.3-3.7h0m0.4 2.3h0m0.2 0h0m0.1-3.5h0m0.4 2.8h0m1.2 2.3h0m1.9-2.5h0m0.5 1.6h0m0.6 0.5h0m0.2-3.1h0m123.8 2.8h0m2.5-1.5h0m0.6-2.6h0m1.1 2.7h0m1.2 2.4h0m1.7-0.1h0m0.4 0.2h0m3.1-0.9h0m1.4 0.8h0m0.1-0.7h0m0.1-0.5h0m1.3 1h0m0.8-1.8h0m0.3 1.6h0m0.2-0.7h0m0.7-1.4h0m0.4 0.2h0m0.2 0.3h0m0.3-0.2h0m0 0h0m0.4 2.1h0m0-2h0m0.1 0.3h0m0.5 1h0m0.8 0.7h0m0.7-3.7h0m0.4 0.7h0m1.3 2.3h0m1.1 0h0m0-0.5h0m1.8 0.8h0m0.2-2.2h0m0.3-2.8h0m0.8 1.5h0m0.7 1.6h0m0.5 2.4h0m0.2-2h0m1-3.2h0m0.3 0.1h0m2.6 3.1h0m4.3 0.3h0m0.8-1.7h0m3.1-0.4h0m7.2-0.8h0m6.3-0.9h0m11.3 1.7h0m10.4 1.6h0m-433 3.3h0m2.3 3.4h0m0.8 1.4h0m0.6-1.9h0m0.6-1h0m0.7 0.6h0m0.2 1.8h0m1.3-4.2h0m0.1 3.1h0m1.2 1.2h0m0.8-3.8h0m0-0.8h0m0.2 4.3h0m1-1.3h0m0.9 2.2h0m0.4-2.2h0m0.1-2.7h0m0 2.6h0m0-1.2h0m0.1 2.3h0m0 0.3h0m0.9-2.1h0m0.3 2.7h0m0.1-2.2h0m0.2-3h0m0.1 3.3h0m0.1-2.5h0m0-0.7h0m0.3 3.6h0m0-3.3h0m0.1 4.4h0m0.2-3.9h0m0.2 1h0m0-1.2h0m0.2 2h0m0.1-0.8h0m0.3-1.5h0m0.7 2.7h0m0.2-0.5h0m0.2-0.6h0m0.1 0.4h0m0.4 0.9h0m0.7-1.8h0m0.5 2.9h0m0 0h0m0.4-4.8h0m0 2.9h0m1-2.3h0m0.1 3.2h0m0-3h0m0.2 3.2h0m0 1h0m0.3-3.4h0m0-0.7h0m0.1 3.4h0m0.6 1.1h0m0.3-3h0m0.3 3h0m0.1-2.5h0m0.1-2.2h0m0.2 3.1h0m0 0h0m0.1-3.7h0m0 0.1h0m0.2 0.4h0m0.2-0.5h0m0 4h0m0.3 1.6h0m0.3-1.4h0m0.2-1.3h0m0.1 1.9h0m0-2.3h0m0.1 0.1h0m0.1-1.5h0m0.6 2.3h0m0.5-2.3h0m0.1 2.3h0m0-2.7h0m0.5 0.1h0m0.1 4h0m0-0.6h0m0.1-0.4h0m0 0.4h0m0.1 0.8h0m0.2-0.1h0m0.1-2.9h0m0 2.9h0m0.1 0h0m0-4.8h0m0 1h0m0.3-0.5h0m0.3 0.7h0m0 1.2h0m0.3 0.6h0m0 0.1h0m0.1-1.2h0m0 2.3h0m0.1 0.6h0m0-0.9h0m0.4-2.5h0m0.3 1.3h0m0.3-0.1h0m0.2-1.6h0m0.4 0.7h0m0.1 1.4h0m0-1h0m0-2.2h0m0.1 5.8h0m0-1.6h0m0.2 0.7h0m0.1-2.2h0m0 1.1h0m0 1.4h0m0.2-0.7h0m0.3-1h0m0.2 0.3h0m0.1-2.8h0m0.3 0.6h0m1.6 3.1h0m0.1-4.7h0m0 1.9h0m0.1-2h0m0.2 3.5h0m0.1-2.8h0m0.1 0.4h0m0.4 0.2h0m0-1.1h0m0.2 3.9h0m0.1-0.9h0m0.2-0.4h0m0.3-2.4h0m0.2 2.8h0m0.2-0.8h0m0.9-1.1h0m0.4-0.4h0m0.8 3.9h0m1.3-3.4h0m0.1 2.6h0m0.2-1.8h0m0.1 2.5h0m0.5-1h0m0.4 1.4h0m0.8-4.1h0m0.4 1.4h0m0.1 3h0m0.8-0.9h0m0.4-4.1h0m0.4 2.5h0m0.1-1.7h0m139.5 1.4h0m2.8 0.3h0m0.1 3h0m1.9-1.1h0m2.7-2.3h0m2.6 0.9h0m1.2-1.6h0m0.2-0.5h0m0 0.4h0m0.3 2.4h0m2 0.8h0m0.6-2.1h0m1.4 1.3h0m2.2 1h0m0.4-3h0m0-1.9h0m0.5 1.2h0m0.1-1.3h0m0.2 5.3h0m0.6-3.2h0m1.6 1.3h0m0.2 1.6h0m0.1-1.1h0m0.3 0.9h0m0.1-4.3h0m0.5 2.5h0m0.4 2.5h0m0.3-5.6h0m0.1 3.2h0m0.2-3.1h0m0.6 4h0m0.3-2.1h0m0 3.8h0m0.6 0.1h0m0.2-2.7h0m0.4-2.2h0m0 1.2h0m0.2 3.1h0m0-5.1h0m1.3 1.1h0m0.3 0.6h0m1.1-1.8h0m0.6 2.1h0m0.1 2.3h0m2-0.9h0m0.9-2.4h0m0.1 4.2h0m0.6-0.1h0m0.7-4.2h0m3.1 2.5h0m0.4 0.7h0m0.2-1.3h0m0.7-0.1h0m0.2 2.8h0m0.3-0.8h0m0.9-3.1h0m0.8 1.6h0m0.3 0.1h0m0.2-0.4h0m0.1-2.5h0m1.6 4.1h0m0.3-3.8h0m0.5 4.3h0m0.4-4.3h0m0 2.2h0m0.4 1.1h0m0.4-1.4h0m0.7-1.2h0m0.3-0.1h0m0.1 0.9h0m0.7 3.1h0m0.1-1.8h0m0-0.4h0m0.1 2.5h0m0.4-2.7h0m1.1-0.9h0m2.1 0.2h0m0.2-0.7h0m0.2 4.1h0m0.3-1.3h0m0-4.4h0m0.1 0.8h0m0.1 2.2h0m0.4-1.3h0m0.1 2.9h0m0.3-0.2h0m1.5 1.3h0m1.2-5.8h0m120.3 5.9h0m0.4-0.5h0m0.2 0.2h0m0.7-1h0m0.4-1.1h0m0.2-1.8h0m0 4h0m0.2-2.3h0m2-0.7h0m0.5-1.5h0m0.1 1.4h0m0.2-1.5h0m0.3 2h0m1 1.3h0m0.2-2.1h0m0.1 2.2h0m0.1 0h0m0.1 0.1h0m0.1-1.5h0m0.1 2.5h0m0.1-1.8h0m0.1-1.1h0m0 3.1h0m0.1-3.8h0m0.9 2.1h0m0.7 1.3h0m0-3.9h0m0.4 4.2h0m0-4.6h0m0 4.7h0m0.2-5.6h0m0.1 3.2h0m0 0.4h0m0 2.1h0m0.1-4.8h0m0.5-0.1h0m0 1.4h0m0.2-1.6h0m0.4 4.6h0m0-4.7h0m0.1 2.1h0m0.1 1.8h0m0-3.7h0m0.1 4.9h0m0.1-4.1h0m0.4 3.9h0m0-1.5h0m0.2-0.5h0m0.1 0.4h0m0.2 0.3h0m0.3 1.6h0m0-0.7h0m0.1-0.9h0m0.2-0.3h0m0.3-3.9h0m0 3h0m0 1.6h0m0.5-1.9h0m0.2 1.4h0m0.4 1h0m0.1-5.2h0m0.1 2.9h0m0.1-1.8h0m0.3 2.5h0m0.3 1.3h0m0.1-3.8h0m0.4 3h0m0.1-3.9h0m0.3 2.5h0m0-0.1h0m0.1 0.5h0m0.1-2.9h0m0.4 4.7h0m0.3-4.2h0m0.1 5.1h0m0-3.3h0m0.4-1.4h0m0.1 0.6h0m0.1 2.2h0m0.1-3.2h0m0 4h0m0.2-1.4h0m0 2.2h0m0-2.7h0m0.3-1.8h0m0.1 1.6h0m0.1-2.6h0m0 4.4h0m0.1-1.8h0m0-0.8h0m0.1 3h0m0.1-4.4h0m0.1 2.5h0m0.5 0.6h0m0.1 0.7h0m0.1-2.8h0m0.1 1.9h0m0.1-0.7h0m0.1 0h0m0.1 1.6h0m0 1.7h0m0.1-1.4h0m0.6-1.7h0m0 1.1h0m0-3h0m0 4.3h0m0.1-2.7h0m0.5 0.6h0m0 1.8h0m0.3 0.8h0m0.7-0.6h0m0.2 0.8h0m0.6-4.4h0m0 2.8h0m0.1-1.9h0m0 2.4h0m0 0.1h0m0.4-0.7h0m0.3 0.5h0m0.1 0.3h0m0.2-1.2h0m0.1-3.4h0m0 0.5h0m0.2 4.9h0m0.1-1.4h0m0-0.6h0m0.1-0.1h0m0.1 2.2h0m0.4-0.8h0m0.2-0.7h0m0.1-0.9h0m0.4 0.5h0m0-0.9h0m0 1.5h0m0.1 1.2h0m0.5-0.3h0m0.2-1.8h0m0.1-2.1h0m0 2.8h0m0.2-4.2h0m0.3 3.4h0m0.1 0.9h0m0.2-0.9h0m0 1h0m0.2-2.5h0m0.3 2.2h0m0-0.1h0m0.4-3h0m0 0.9h0m0.1 3.2h0m0.1-4.4h0m0.4 2h0m0.7 1h0m0.2 1.9h0m0.1-1.7h0m0.2-0.8h0m0.1 0.8h0m0.1 1.2h0m0.3-3.1h0m0.6-0.8h0m0.1 4.4h0m0.1-1.8h0m0.1 0.1h0m0.3-3.9h0m-386.2 9.7h0m1.5 0.5h0m0.5-2.5h0m0.3-0.1h0m1.9 2.3h0m0.2-2.4h0m1.6 1.1h0m0.2-1.6h0m0.2 4.5h0m0.1-0.9h0m0.2-2.7h0m0.2-1.8h0m0.2 5.2h0m0.1-3.5h0m0.6-0.6h0m0.6-1.3h0m0 5.1h0m0.2-4.8h0m0.1 2.2h0m0.3 1.9h0m0.5-2.4h0m0.1-1.3h0m0.4 0.7h0m0.1 2.8h0m0.4-1.8h0m0.7 2.2h0m0.1-3.2h0m0.1 3.9h0m0.5-4.3h0m0.3 0.2h0m0.8 3.5h0m1 1.1h0m0.1-1.1h0m0.2-3.9h0m0.2-0.3h0m0.2 1h0m0.3 1.6h0m0.5 0.2h0m0.3 1.8h0m0.1-1.1h0m0.1-2h0m0.1 2.4h0m0.2 0.5h0m0-4.8h0m0.3 2.7h0m0-0.8h0m0.2-0.9h0m0.3 4.5h0m0.2 0.1h0m0.4-4.4h0m0.3 1.1h0m0.1 1.6h0m0.1-0.2h0m0.2 1.4h0m0.1-3.8h0m0 2.8h0m0-1.4h0m0.6-2.3h0m0.4 3.1h0m0.3 0.9h0m0-3.6h0m0.1 4.4h0m0-4.8h0m1.5 5.1h0m0.1 0h0m0.3-3.6h0m0 0.3h0m0.4 3h0m0.1-3.6h0m0-0.9h0m0.1 0.7h0m0.2 3h0m0.2-1.7h0m0.7-0.1h0m0.3 1.1h0m0.3-3.7h0m0 4.4h0m0.6-4.3h0m0.2 0.1h0m0.8 4.1h0m0.1 0.6h0m0.1-4.5h0m0.2 4.2h0m0.2-0.8h0m0.2 0.1h0m0.8 1.6h0m0.1-4.2h0m0.1 0h0m0.2 2.2h0m0.7-3.6h0m0.5 2.1h0m0.3 1.5h0m0.1-0.9h0m0.3 2.9h0m0.6-1.3h0m0 0.7h0m0.6-4.2h0m0.1 3.4h0m0.8-4.2h0m1.1 3h0m0-3h0m0.1 1.9h0m0.2 2.9h0m0.2-2.8h0m1.3 2.9h0m0.3-0.5h0m0.9-3.4h0m0.2 4.6h0m1.8-2h0m0.2-1h0m0.3-2.3h0m0.3 4.1h0m0 0h0m0.1 0.9h0m142.7 0.2h0m0.8-3h0m1.3-0.4h0m1.8-0.9h0m0.3 4.4h0m2.5-0.6h0m0-3.8h0m0.6 4.2h0m2.5-4.3h0m0.1 2.6h0m0-2.1h0m1-1.3h0m0.3 2.1h0m1.7-2.3h0m0.6 2.7h0m0.1 0.2h0m1.8-1.7h0m0.7 0.8h0m2.1-1.4h0m0.2 2.9h0m0.1 1.1h0m0.3 0.7h0m0.2-0.8h0m0.2-4.1h0m0.5-0.6h0m0.2 3.1h0m0.4 0.1h0m0.1-0.3h0m0.1-2.2h0m0.1 3h0m0-1.3h0m0.8 1.1h0m0.2 0.2h0m0-2.7h0m0.7 2h0m0 2.1h0m0.5-0.9h0m0.6-2.9h0m0.3-0.8h0m1.1 1.9h0m0.3-0.9h0m0.3 1.9h0m0.6 0.2h0m0-2.1h0m0.1 0.8h0m0.2-0.7h0m0.7-1h0m0.1 2.9h0m1.1-1.3h0m0.3 0.1h0m0.1-0.6h0m0.1 3.7h0m0.7-3.9h0m0.3 2.7h0m0.2 1h0m0.1-0.9h0m1.2 1.5h0m4-0.3h0m0.7-4.7h0m1.8 4h0m1.6-2h0m0.3-0.5h0m0.3 2.3h0m0.2-0.4h0m0.2-1.7h0m0.4 0.6h0m1.6-1.9h0m0.8-1.2h0m0.1 2.5h0m0.4-2.4h0m0 4.5h0m0.3-1.4h0m0.5 0.7h0m0.6-0.2h0m0.3-0.9h0m0-0.7h0m0.4-0.1h0m0.1-0.3h0m0.8-0.2h0m0.3 1h0m0.4-1.3h0m0.3-1.1h0m0.3 2.4h0m0-2.3h0m0.2 5.6h0m0.1-1.9h0m0.8-2.1h0m0.9-0.3h0m0.1 2.1h0m0.3 1h0m1.1-2.5h0m0.8-0.4h0m0.1-1.4h0m2.2 2.6h0m116.1-2h0m0.7 3.3h0m0.2 0.1h0m0.3-2.2h0m0.3 1.4h0m0 0.8h0m0.1-1.9h0m0.3 3h0m0-0.1h0m0.4-1.3h0m1.1-0.1h0m0 1.7h0m0.2-4h0m0.4-1h0m0.4 4.1h0m0.1-1.7h0m0.6 0.3h0m0.2-3.3h0m1 5.5h0m0.1-5h0m0 3.3h0m0.1-3.2h0m0.2 3.5h0m0-2.6h0m0.1-1h0m0.6 3.3h0m0.1 1.3h0m0.1-0.1h0m0.2 0.3h0m0.1-0.3h0m0.4-0.8h0m0.2-2.1h0m0.2-0.3h0m0.1 1.5h0m0.3 0.3h0m0 0.3h0m0.1 0.1h0m0.1-3.3h0m0.1 3.2h0m0.1 1h0m0.2-4.8h0m0.1 4h0m0-2.7h0m0.2 1.7h0m0.2-3h0m0.1 1.6h0m0 2.9h0m0.1-2h0m0.2 1.4h0m0.1 1.1h0m0.1-0.9h0m0.2-4h0m0.1 3.3h0m0.1 0.1h0m0 1.3h0m0.3-2.7h0m0.1 1.1h0m0.1-2.5h0m0.1 3.2h0m0.2-1.9h0m0 2.1h0m0.2 0.8h0m0-2.6h0m0.1-0.2h0m0.2-1h0m0.3 4.2h0m0.1-5.3h0m0 4.4h0m0 0h0m0.5-4.4h0m0 5.1h0m0.6-1.3h0m0.1-0.2h0m0.1 1.8h0m0-3.1h0m0-0.8h0m0 4h0m0-3.8h0m0.3 3.9h0m0.1-1.5h0m0 0.7h0m0.1 0.8h0m0.7-4.2h0m0.1 3.8h0m0.5-1.9h0m0-2.4h0m0 3.2h0m0.2 1.1h0m0-4.6h0m0 1.4h0m0.2 1.5h0m0.2 2.1h0m0.1-1.7h0m0.1-1.3h0m0.1 1.4h0m0-1.3h0m0.1-0.4h0m0.1 3.4h0m0.1-1.9h0m0 1.2h0m0.1-3.3h0m0.1-0.4h0m0.2 3h0m0.2-2.3h0m0.1 2.5h0m0.1-4h0m0 1h0m0.1 0.2h0m0.1 2.7h0m0-0.1h0m0 1.2h0m0.1-3.6h0m0.1 1.9h0m0.2-0.3h0m0 0.5h0m0-1.5h0m0.1 1.4h0m0.2-3.5h0m0.1 1.9h0m0 2.3h0m0.1-4.1h0m0 3.5h0m0.4-1.3h0m0 1.8h0m0.1-3.8h0m0.1 0.4h0m0.2 1.1h0m0.1 2.8h0m0.6-4.1h0m0.2-0.3h0m0 1.1h0m0 2.3h0m0.1-1.7h0m0.3-0.6h0m0.3-0.5h0m0.1 2.8h0m0.1-0.2h0m0.1 1h0m0.1-0.5h0m0.1-2.9h0m0.1 1.5h0m0-2.1h0m0.2 0.7h0m0 0h0m0.2 2.3h0m0-2.9h0m0 4.6h0m0.3-1.2h0m0.1-4.3h0m0.2 5.4h0m0.4-1.7h0m0.1-1.1h0m0 1.5h0m0.1 0.8h0m0-3.3h0m0 0h0m0.1 1.3h0m0 0.3h0m0.3 1.9h0m0-2h0m0.1 2.1h0m0.1-4.1h0m0 4.6h0m0.1-2.8h0m0.1 0.4h0m0.1 1.2h0m0.1 0.3h0m0-1.9h0m0.1-0.9h0m0.2 0.9h0m0.5-0.2h0m0.5-0.2h0m0 0.9h0m0.1-3.2h0m0.2 2.7h0m0.2-0.1h0m0 0.2h0m0.2 2.3h0m0.1-5.4h0m0 0.1h0m0.1 5.7h0m0-2.9h0m0.1 1.9h0m0.4 0.5h0m0-2.3h0m0.2-2.3h0m0 0.3h0m0.1 0.7h0m0.4 2.3h0m0 0.7h0m0.1-2.3h0m0.1 0h0m0.1 1.1h0m0 0.3h0m0.2 0.7h0m0.2-4h0m0.2 2.3h0m0.1-1.5h0m0.2 3.8h0m0-4.1h0m0.1 3.3h0m0.3 0.1h0m0.2-3h0m0.8 1.2h0m0.1 0.8h0m0 1h0m0.2-0.9h0m0-2.1h0m0.1 3.5h0m0.1-4.5h0m0.4 1.3h0m0.1 3.5h0m0.8-2.4h0m0.2-0.3h0m0 3h0m0.1-4h0m0.1 2.5h0m0.1-1.1h0m0.1 1.3h0m0.3 0h0m0.3 1h0m0.2-1h0m0-0.1h0m0.1-3.3h0m0.8 0.2h0m-387.1 7.6h0m0 0.6h0m0.8-3.2h0m0 4.7h0m0.2-4.5h0m0 5.4h0m0.7-5.2h0m0.4 3.8h0m1.1-3.2h0m0.9 0.1h0m0.5-0.8h0m0.3 3.4h0m0 1.7h0m0.8-5.1h0m2 2.4h0m0.6 0.2h0m0.7 2.5h0m1 0h0m1.1-5.3h0m0.1 1.3h0m0.8-1.2h0m0.3 4.4h0m1.1-0.6h0m0-3.5h0m0.2 2.9h0m0.2 0.4h0m0.4-3h0m0.2 0.1h0m0.7 0.5h0m0.6 0.7h0m0.6-1.9h0m0 1.2h0m0.1 1.6h0m0.5-1.7h0m0.1 1.8h0m0.2-0.2h0m0.1-2.1h0m0.3 0h0m0.2 0.8h0m0-0.1h0m0.1 3.7h0m0.5-4.8h0m0.8 0.5h0m2 4.1h0m0.1-4.7h0m0.4 1.8h0m0.1-2h0m0.4 0.9h0m0.4 2.8h0m0.2-0.6h0m0 2.1h0m0.1-4h0m0.2 2.3h0m0.1-2.4h0m0.2 2.5h0m0 1.7h0m0.1-2.9h0m0.5-2.4h0m0.8 4.8h0m0.4-0.2h0m0.1 0.2h0m0.2-4.3h0m0.1 3.8h0m0.1-3.4h0m0.3 3.9h0m0.1-2h0m0.4 2.4h0m0.4-1.4h0m1.8 1.8h0m0.2-0.3h0m0.4-1.7h0m0.3-1.5h0m0.2 1h0m3.3-1.3h0m0.2-0.7h0m0.3-1.2h0m3.2 4.2h0m1.8-4.2h0m0.5 1.2h0m140.1 0.6h0m7.9 3.8h0m4-3.1h0m1.7 1.5h0m0.7-1.8h0m1.9-1.7h0m0.9 0.5h0m0.3-0.4h0m0 5h0m0.1-0.4h0m0.7-4.7h0m0.1 0.5h0m0.7 4.5h0m0.2-3.2h0m0.1-1.1h0m0 1.2h0m0.1-1.6h0m0.1-0.5h0m0.1 1.3h0m0.3-1h0m0.2 0.3h0m0.4-0.9h0m0 3.3h0m0.3 1.7h0m0-3.3h0m0.1 1.6h0m0.2 2.6h0m0.4 0h0m0.9-5.8h0m1.4 4.9h0m0.4-0.4h0m0.1-3.4h0m0.3 3.9h0m0.2-4.6h0m0.3 4.3h0m0.4-1.7h0m0.8 0.4h0m0.2 1.8h0m0.5-2.3h0m0.4 1.4h0m0.1-3.6h0m1-0.1h0m0.1 3.3h0m0.7-3.1h0m0.9 1.9h0m0.3 1.1h0m1.7-2.8h0m0.2 0.2h0m0.2 2.5h0m0.1-2.8h0m0.2 4.2h0m0.8-0.4h0m0.6-1.2h0m0.2 1h0m0 1h0m0.7-0.7h0m0.6 0.9h0m1.1-5.8h0m0.6 1h0m1.9 0.4h0m0.2 0.7h0m1.3-1.8h0m0.2 4.9h0m1.8-4.8h0m0.2 2.5h0m0.7-1.2h0m1.5-1.6h0m0.8 5h0m0.5-3.9h0m1.3 1.4h0m1 1h0m2.6-1.2h0m1.4 3.5h0m1.7-5.6h0m1.1 0.5h0m1.1 5.1h0m116.3-5.4h0m0.1 2.8h0m1.7-0.9h0m0.2 0h0m0.1 1.9h0m0.2 0.8h0m0.9-4.5h0m0.6 1.3h0m0.2-0.5h0m0.7 3.6h0m0-4.9h0m0 4.4h0m0.1-2.6h0m0 0.7h0m0.1 2.7h0m1.1-1.3h0m0.1-0.3h0m0 1.6h0m0.2-1.1h0m0.1-0.1h0m0-3.4h0m0.3 4.8h0m0.1-5.1h0m0.4 2.5h0m0.2 2h0m0 0.8h0m0.4-0.4h0m0-3.4h0m0.3 3.2h0m0.2-1.5h0m0.1-0.3h0m0.4 1.2h0m0 1.4h0m0-1.3h0m0.2-4.5h0m0.1 3.3h0m0.1 1.6h0m0-1.8h0m0.1-1.9h0m0.1 4.4h0m0-1.6h0m0.1-2h0m0-1h0m0.1 3.1h0m0.1-2.1h0m0.2 2.5h0m0-0.1h0m0-0.4h0m0.2-1.7h0m0.3 1.3h0m0-1.5h0m0.1-0.9h0m0 2.8h0m0.1-1.1h0m0.1 1.5h0m0.1-3.8h0m0 4.8h0m0.3-5h0m0 1.4h0m0-1.6h0m0.4 5h0m0.1-1.7h0m0.3 2h0m0.1-3.9h0m0.2 1h0m0.1 3h0m0.3-0.2h0m0-0.9h0m0.1-4.6h0m0.1 2.4h0m0.1 3.4h0m0-0.2h0m0-3.4h0m0.2-0.2h0m0.1 1.1h0m0.2 2.8h0m0.2-1.8h0m0.4-1.7h0m0.2 1.6h0m0.1 1.5h0m0-3.5h0m0.2 3.1h0m0 0.8h0m0-3.6h0m0.2 0.1h0m0 2.6h0m0.1-5h0m0.1 3.2h0m0.1 1.4h0m0-2.4h0m0.1-1.6h0m0.3 2.2h0m0.1-1h0m0.2 3.5h0m0-3.6h0m0.1 0.3h0m0.1 0.5h0m0-0.8h0m0 0h0m0.4-0.8h0m0 4.9h0m0.2-4.5h0m0 1h0m0 1h0m0.1 0.8h0m0.2-0.7h0m0.1-1.6h0m0 1.8h0m0-1.9h0m0.5 2.7h0m0-3.8h0m0.1 0.7h0m0.1 2.3h0m0 1.8h0m0.2-4h0m0.1-0.7h0m0.1 2.7h0m0 1.8h0m0-0.6h0m0.1-2.2h0m0-1.3h0m0.2 0.9h0m0.1 1.6h0m0.1-2.5h0m0 2.9h0m0-1.8h0m0.1 1.8h0m0.1-1.9h0m0 2.3h0m0.2-3h0m0 2.6h0m0.1-1.9h0m0-0.5h0m0.1 3.6h0m0.2 0.2h0m0-2.7h0m0.2 0.3h0m0.1 0h0m0.1-1.8h0m0.1 0.8h0m0-0.4h0m0 2.8h0m0-2.6h0m0 1.8h0m0.1 0.4h0m0.2 1.9h0m0.1-3.1h0m0 0.7h0m0-1.1h0m0.1-0.6h0m0.1 2.6h0m0.1 1.5h0m0.3-4.9h0m0.1 4.6h0m0.1-3.5h0m0.1 1.1h0m0-0.6h0m0-1.3h0m0.1 3.2h0m0.1-3.5h0m0 0.1h0m0.2 0.9h0m0-0.6h0m0.1 3.2h0m0-4.1h0m0 4.2h0m0 0h0m0.3 0.3h0m0-2.3h0m0-0.6h0m0.2-0.6h0m0.1 2.3h0m0.1 0.5h0m0.2-1.3h0m0.1 2h0m0.1-4h0m0.1 3.8h0m0.3-1.2h0m0.2 1.4h0m0-4.5h0m0.2 0.6h0m0.1-1.1h0m0.1 4.2h0m0.2-2.3h0m0 1.5h0m0 2.2h0m0.1-5.3h0m0.2 0.1h0m0 5.1h0m0 0.2h0m0.1-4.5h0m0 0.1h0m0 2.9h0m0-1.4h0m0.1 2h0m0.2-0.5h0m0-1.2h0m0.2-1.2h0m0.1-0.2h0m0 2.3h0m0.1-0.8h0m0 1.9h0m0.2-1.6h0m0.1-0.4h0m0.1 0.5h0m0.2-2.2h0m0 3.1h0m0.1-4h0m0 5.3h0m0-1.3h0m0.1 1.4h0m0-5.8h0m0.2 4.8h0m0 0.1h0m0-2.1h0m0.3 0h0m0 0.2h0m0-2.5h0m0 2.8h0m0.1 1.9h0m0.1-4.1h0m0 1.2h0m0 1.7h0m0.1-1.2h0m0.1-2.3h0m0.5 5.2h0m0.1-5.7h0m0 3.4h0m0 1h0m0.2 1.1h0m0-3.5h0m0.1-1.4h0m0.1 3.1h0m0.2 2.1h0m0-1h0m0.3-3.4h0m0.1 0.5h0m0 0.5h0m0.1-0.6h0m0.2 4h0m0-5.9h0m0.1 4.5h0m0.1-4h0m0.1 1h0m0.1 0.1h0m0.1 0.2h0m0.1 3.2h0m0.2-0.4h0m0-4.6h0m0.1 1.3h0m0.1 3.6h0m0.2-1.3h0m0.1-1.2h0m0.1 2.6h0m0.5-3.5h0m0.2 3.5h0m0-4.2h0m0.1 4.5h0m0.1-2.2h0m0.2 1.4h0m0-2.6h0m0.1-1.1h0m0 0.5h0m0.1-0.8h0m0 3.6h0m0 1.4h0m0.1-4h0m0.2 1.4h0m0-1h0m0.1-1.3h0m0.2 3.6h0m0.1-1.7h0m0.4-1.8h0m0 3.4h0m0.1 1.1h0m0-1.7h0m0.1 2.4h0m0.1-1h0m0-3.1h0m0.1 2.9h0m0-4.7h0m0.2 3.8h0m0.3-0.4h0m0 2.2h0m0-0.4h0m0.1-4.7h0m0.2 3.7h0m0.1-1.1h0m1-2.9h0m0 5h0m0.1-3h0m0 1.9h0m-386.1 7.8h0m2.4-3.5h0m2 1.9h0m1.8-1.1h0m0.1-1.2h0m0.1 0h0m0.1 1.4h0m0.1 1.5h0m2.5-0.9h0m0.4-0.8h0m0.2-0.1h0m0.3-2.2h0m0.1-0.6h0m0.6 3.7h0m1.4 0.1h0m1.5 1h0m0.4-4h0m0.1 3h0m0.8 1.8h0m0.1-5.7h0m0.2 4.7h0m0.1-0.5h0m0.2 0.5h0m0.1-1.5h0m0.3-3.4h0m0.9 1.5h0m0.2-1.5h0m0.1 5.4h0m0.6 0.5h0m0.1-2.2h0m0.3 2h0m0-3h0m0 2.5h0m0.4-3.9h0m0.3 1h0m1.2-0.2h0m0.7-1.9h0m0.3 3.9h0m0.8-0.5h0m0.7-2.7h0m0.2 3.4h0m0.6-3.7h0m0.3 0.3h0m0.1-0.2h0m0.2 3.6h0m1.9-1.3h0m1.3 2.3h0m0.5-5.1h0m0 0.8h0m0.4 0.7h0m0.6 3.9h0m1.9-4.6h0m6.4 1.7h0m0.7-0.8h0m148.1 0.3h0m0.7-0.1h0m2.4 1.8h0m2.6-3.4h0m1.2-0.2h0m1.2 4.9h0m1.1-2.1h0m0.1 1.2h0m1.4 1.2h0m0.5-2.5h0m0.4 0.3h0m2.7 1.6h0m1.2-3.5h0m1.3 2.2h0m0.5-1.4h0m0.4 0.8h0m0.9 2.9h0m1.1-2h0m0.9-1.4h0m1.1 1.5h0m0.3-2.3h0m0.5 1.7h0m5.5-3.2h0m2.5 3.8h0m1.4 0.4h0m0.4-4.4h0m2.2 0.3h0m0.2-0.1h0m0.4 2.5h0m3.2-0.1h0m1.3-0.3h0m4.6 1.1h0m121.7-0.9h0m0.5 1.2h0m1-3.5h0m0.3 0.4h0m0.1 0.3h0m0.3-0.4h0m0.5 1.2h0m0.1 2.3h0m0.1-3.3h0m0 0.1h0m0.5 0.7h0m0.1 3.5h0m0.5-3h0m0.2 2.8h0m0-1.5h0m0.1-2.4h0m0.4 0.6h0m0.1 0.1h0m0.3-0.3h0m0.8-1h0m0.1-0.1h0m0.3-0.2h0m0.1 4.1h0m0.4-2.3h0m0.1-0.9h0m0 0.9h0m0.1-1.3h0m0.1 4.6h0m0.3-0.1h0m0.2-3.6h0m0.3 0.7h0m0.5 1.9h0m0.2-0.8h0m0-2.3h0m0.1 4h0m0.2-4.6h0m0.1 0.6h0m0.3 2.1h0m0.1-1h0m0.1 3h0m0.1-1.3h0m0-2.2h0m0.2 0.7h0m0 2.4h0m0-1.9h0m0.4 0.5h0m0.1-0.6h0m0 2.3h0m0-1.2h0m0.1 0.4h0m0-2.2h0m0 2.8h0m0.1-4.6h0m0.3 0h0m0.1 1.3h0m0.2 3.2h0m0-4h0m0.2 1.5h0m0.5 0.3h0m0 0.1h0m0 2.9h0m0.2-2.1h0m0.2 1h0m0-0.8h0m0-3h0m0.1 2.9h0m0 2.1h0m0-0.5h0m0.1-1.6h0m0-3.2h0m0 1h0m0.1 2.6h0m0.1 0h0m0.2-0.3h0m0.2-2.3h0m0.1 0.9h0m0-1.1h0m0.2 2.9h0m0.1-3.4h0m0.1 3.5h0m0.1 1.6h0m0.1-0.5h0m0.1-1.5h0m0.1-2.1h0m0.4-1.2h0m0.1-0.1h0m0.1 2.6h0m0.2-2h0m0.1 2.6h0m0 1.3h0m0.1-3.6h0m0.1 0.9h0m0-0.3h0m0.4 2.3h0m0-1.2h0m0.4-1.4h0m0.2 1.5h0m0-2.3h0m0.1 4.7h0m0 0.2h0m0.4-2.3h0m0.1-0.3h0m0-2.8h0m0.1 5.6h0m0.4-1.9h0m0 1.5h0m0.2-0.3h0m0.1-2.4h0m0-1.6h0m0 4.5h0m0-1.2h0m0.1-4.2h0m0 2.3h0m0 1.6h0m0-2.5h0m0 1.8h0m0.1-2.3h0m0.2 3.7h0m0.1-1.7h0m0 2.1h0m0.2-4.9h0m0.2 2.6h0m0 1h0m0 1.9h0m0-2.6h0m0.1 2.2h0m0.4-2.4h0m0.1 2.7h0m0-5.5h0m0 3.9h0m0.3-1.2h0m0.3-2.5h0m0.2 4.7h0m0-4h0m0.2 4.7h0m0.2-5.3h0m0.1 4.5h0m0 0.4h0m0.1-3.5h0m0.1 1.2h0m0 2.4h0m0-2.5h0m0.2-1.9h0m0.1 0.8h0m0.1-0.1h0m0 2.7h0m0-3.2h0m0-0.2h0m0.1 0.2h0m0.1 0.4h0m0.5 4h0m0.2-4.8h0m0.1 0h0m0.2 1.3h0m0.1 0.1h0m0.1-0.1h0m0 2.1h0m0.1-2h0m0 3.6h0m0-3.8h0m0.1-1.5h0m0.3 2.2h0m0 0.9h0m0-0.4h0m0.1-2.2h0m0 4.8h0m0.1-5.7h0m0.2 0.7h0m0.2 1.1h0m0 2.1h0m0.1 1.3h0m0.3 0.5h0m0-1.7h0m0.1-2.9h0m0 1.6h0m0.2 0.3h0m0.1-1.7h0m0 2.3h0m0.1-3.3h0m0 3.1h0m0-1.5h0m0.1-1.3h0m0.1 3.3h0m0-2.9h0m0.4 1.1h0m0.1 3.4h0m0-2.5h0m0-0.3h0m0.1 3h0m0.1-5.2h0m0.2 1.2h0m0.1 2.5h0m0.1 1.4h0m0-4.3h0m0.3-1.1h0m0 5.2h0m0-3h0m0.1 3.1h0m0-3.2h0m0 3.3h0m0.2-4.6h0m0.2 4h0m0.2-4.6h0m0.2 5.3h0m0.3-5.1h0m0.1-0.2h0m0.2 0h0m0.2 2.3h0m0-1.2h0m0.1-1.4h0m0.2 5.1h0m0.4-2.3h0m0 1.6h0m0.4 0.9h0m0 0.1h0m0.4-1.5h0m0-0.5h0m0.5 1.4h0m0.2-3.6h0m0 4.1h0m0.1-5.5h0m0.3 4h0m0.1-1.5h0m0-2.3h0m0.1-0.1h0m0.1 1.8h0m0-0.5h0m0 4.5h0m0.1-0.8h0m0.4-1.4h0m0.3-2h0m0.1 1.1h0m0 1.9h0m0 0h0m0.1-3.8h0m0.2-0.4h0m0.1 3h0m0.1-3.2h0m0 2.9h0m0 0.1h0m0.1 1.9h0m0.3-1.4h0m0.1-0.5h0m0.1 0.7h0m0.1-2.6h0m0.2 1.1h0m0.4 1.1h0m0.4-3h0m1 3.5h0m-387.1 7.8h0m1.5-4h0m1.1 0.6h0m0.6-2.1h0m1.4 0.1h0m0.4 1.2h0m0.4-0.1h0m2.5 0.5h0m0.9-1.4h0m2.4 2.5h0m0.4-1.1h0m0.2 3.1h0m0.2-1.4h0m0.1-1.8h0m0.2 2.3h0m0.1 0.7h0m0.5-3.5h0m0.2 1.8h0m0-2.2h0m0.6-0.6h0m0.3-0.4h0m1.2 0.6h0m0.2 2.6h0m0.2-1.6h0m0.2-1.4h0m1 3.7h0m1.7-1.8h0m0.6 0.7h0m0.4 3h0m0.3 0h0m0.1-1.7h0m1.5-3.9h0m0.6 1.1h0m0.8 0.3h0m1.4-0.7h0m0 0.9h0m0.6-0.5h0m1.7 0.8h0m0.2 0.4h0m1.2 1.3h0m0.1-2.4h0m5.1 4.2h0m0.6-5.7h0m7.1 0.8h0m149.2 2.7h0m6.5-2h0m0.6 3.5h0m1.8 0.5h0m5.1-4.8h0m0.8 1.7h0m2.4 1.3h0m5.7-0.4h0m0.4-1.8h0m1.2-0.6h0m138 2.1h0m0.4-2.7h0m0.9 0.8h0m0.5-1h0m0.1 3.7h0m0.6-0.5h0m0.2-2.2h0m0.2-1.1h0m0.3 4.7h0m0.3 0.3h0m0-4h0m0.1 0.5h0m0.7 0.7h0m0.1 0.8h0m0.7-1.8h0m0.1 3.8h0m0.2-4.8h0m0.1 0.9h0m0.3 0.7h0m1.1 2h0m0.3-1.4h0m0.2 0.5h0m0.5-2.6h0m0.4 4.7h0m0.1-3h0m0.8 2.6h0m0.1-2.2h0m0.2 2h0m0.1-3.4h0m0.2 2.8h0m0.3-0.7h0m0.3 0.7h0m0-3.2h0m0 5.2h0m0.4-1.5h0m0.1 0h0m0.3-2.4h0m0 2.3h0m0.2-1.8h0m0.1-0.2h0m0.1 0.4h0m0.5-1.5h0m0.2 2.1h0m0.6-2.1h0m0 3h0m0.1-1.6h0m0.1-2.1h0m0 0h0m0.1 4.9h0m0.2-3.9h0m0 0.2h0m0-1.3h0m0.4 1.7h0m0.2 0.7h0m0-2.7h0m0.2 0.6h0m0.5 0.7h0m0 1.9h0m0-1.7h0m0.1 2.8h0m0.1 1.4h0m0.2-0.5h0m0.1 0.7h0m0.2-4.8h0m0.1-0.5h0m0.2 0.2h0m0.1 4h0m0.1-1.5h0m0.3-3.3h0m0.2 1.5h0m0 0h0m0.2 2.2h0m0.1-2.8h0m0.2 1.6h0m0.2-2.1h0m0.1 1.3h0m0.1-1.5h0m0 3.2h0m0.1-3h0m0.1 0.2h0m0.3 2.4h0m0.3-2.1h0m0.1 3.7h0m0.2-3.6h0m0 4.8h0m0.2-4h0m0.1-1.2h0m0.2-0.2h0m0-0.3h0m0 1.1h0m0.1 2.4h0m0-0.7h0m0.9-0.2h0m0.2-0.7h0m0.1 1.5h0m0.3 1.9h0m0.2-2.9h0m0.2-0.8h0m0.5 1.6h0m0-1.6h0m0.2-0.5h0m0.3 1.5h0m0.1 2.7h0m0-1.6h0m0.9-3.1h0m0 4h0m0.1-4.6h0m0.3 5.1h0m0.1 0h0m0-1.2h0m0.2-2.7h0m0 1.7h0m0.2 2h0m0.3-2.6h0m0.4-0.1h0m0.1 3.3h0m0.5-5.5h0m0.1 0.3h0m0.3 0.7h0m0 3.6h0m0.2-1.5h0m0.3-1.4h0m0.2-1.8h0m0.2 5.3h0m0.2-3.2h0m0 2.9h0m0.5-3.2h0m0.3 3.6h0m0.1-3.2h0m0 0.5h0m0.2-1.4h0m0.4 2h0m0 1.3h0m0.3-1.2h0m0.2 1.6h0m0.9-2.6h0m0.2 0h0m0.1-1.2h0m0.2 3.3h0m0.2-3.4h0m0 0.8h0m0.2 3.8h0m0.3 0.2h0m0.3-0.2h0m0-4.9h0m2.4 0.2h0m0.5 2.1h0m0.2 1.3h0m0.1-2.9h0m0.2-1.2h0m-386.1 7.1h0m5.1 0.4h0m1.6-1.8h0m12.5 1.7h0m1.2-1.7h0m3.5 1.8h0m7.1-0.3h0m159.2-0.1h0m1.1-1.3h0m14.8 0.2h0m147 0.6h0m2.1-0.5h0m4.8 0.7h0m4.3-0.5h0m0.1 0.1h0m0.3 0.2h0m1.2 0.6h0m1.1-0.4h0m3.6-0.3h0m1.2 0.4h0m0.4-0.4h0m0.9-0.8h0m0.4 0.9h0m0.7-0.5h0m1.2-0.4h0m0.6 1.4h0m1.3-0.6h0m1.1 0.7h0m2.1-0.1h0m1-1.4h0m1.2 0.1h0m1.8 0.1h0m1.7 0.7h0" stroke="#000" stroke-width="1.7" stroke-linecap="square" fill="none"/>
<rect x="27.2" y="45.3" width="129.2" height="125.9" fill="none" stroke="#3a3a3a" stroke-width="1.15"/>
<rect x="206.6" y="45.3" width="125.3" height="126.1" fill="none" stroke="#3a3a3a" stroke-width="1.15"/>
<rect x="382.3" y="44.7" width="126.2" height="126.1" fill="none" stroke="#3a3a3a" stroke-width="1.15"/>
<rect x="28.6" y="250.4" width="129.9" height="127.4" fill="none" stroke="#3a3a3a" stroke-width="1.15"/>
<rect x="206.9" y="249.6" width="125.8" height="127.5" fill="none" stroke="#3a3a3a" stroke-width="1.15"/>
<rect x="381.3" y="248.7" width="127.3" height="127.5" fill="none" stroke="#3a3a3a" stroke-width="1.15"/>
<rect x="27.8" y="445.0" width="130.4" height="125.9" fill="none" stroke="#3a3a3a" stroke-width="1.15"/>
<rect x="205.5" y="444.7" width="126.5" height="125.8" fill="none" stroke="#3a3a3a" stroke-width="1.15"/>
<rect x="381.8" y="443.3" width="126.8" height="126.9" fill="none" stroke="#3a3a3a" stroke-width="1.15"/>
<path d="M34 171 C50 162 75 147 100 138 L118 131.4 L131 129 L156.4 127.5 L156.4 145 L144 150.2 L124.5 157.3 L105 162.5 L92 165 L75 168.5 L62 171" fill="none" stroke="#111" stroke-width="1.1"/>
<text font-size="34.78" font-weight="bold" transform="translate(0.32 25.50) scale(1.008 1)">A</text>
<text font-size="34.35" font-weight="bold" transform="translate(180.85 25.50) scale(0.964 1)">B</text>
<text font-size="34.23" font-weight="bold" transform="translate(353.63 25.16) scale(0.928 1)">C</text>
<text font-size="34.49" font-weight="bold" transform="translate(1.28 225.10) scale(0.948 1)">D</text>
<text font-size="34.20" font-weight="bold" transform="translate(181.78 224.90) scale(0.911 1)">E</text>
<text font-size="34.78" font-weight="bold" transform="translate(355.12 225.10) scale(0.919 1)">F</text>
<text font-size="34.37" font-weight="bold" transform="translate(0.17 428.96) scale(0.966 1)">G</text>
<text font-size="34.78" font-weight="bold" transform="translate(181.16 429.50) scale(0.945 1)">H</text>
<text font-size="34.06" font-weight="bold" transform="translate(357.62 429.30) scale(0.850 1)">I</text>
<text font-size="11.70" font-weight="bold" transform="translate(18.43 145.77) rotate(-90) scale(0.913 1)">Side scatter</text>
<text font-size="11.20" font-weight="bold" transform="translate(22.84 73.41) rotate(-90) scale(0.912 1)">1023</text>
<text font-size="9.58" font-weight="bold" transform="translate(24.69 182.25) scale(1.198 1)">0</text>
<text font-size="8.73" font-weight="bold" transform="translate(133.96 181.76) scale(1.207 1)">1023</text>
<text font-size="9.39" font-weight="bold" transform="translate(42.57 189.96) scale(1.250 1)">Forward scatter</text>
<text font-size="9.42" font-weight="bold" transform="translate(133.95 165.75) scale(0.985 1)">R1</text>
<text font-size="13.24" font-weight="bold" transform="translate(193.92 117.77) rotate(-90) scale(0.974 1)">CD45</text>
<text font-size="8.55" font-weight="bold" transform="translate(247.67 60.25) scale(0.859 1)">R1</text>
<text font-size="9.12" font-weight="bold" transform="translate(240.47 183.56) scale(1.008 1)">Side scatter</text>
<text font-size="5.92" font-weight="bold" transform="translate(318.29 177.49) scale(1.201 1)">1023</text>
<text font-size="10.70" font-weight="bold" transform="translate(364.14 118.10) rotate(-90) scale(0.825 1)">CD133</text>
<text font-size="9.58" font-weight="bold" transform="translate(433.78 194.15) scale(0.965 1)">CD34</text>
<text font-size="9.01" font-weight="bold" transform="translate(12.76 326.34) rotate(-90) scale(1.093 1)">CD133</text>
<text font-size="9.58" font-weight="bold" transform="translate(79.62 398.45) scale(1.130 1)">CD38</text>
<text font-size="9.01" font-weight="bold" transform="translate(190.46 320.99) rotate(-90) scale(0.953 1)">CD19</text>
<text font-size="8.73" font-weight="bold" transform="translate(258.88 401.06) scale(1.059 1)">CD3</text>
<text font-size="9.58" font-weight="bold" transform="translate(364.15 317.78) rotate(-90) scale(0.872 1)">CD56</text>
<text font-size="8.17" font-weight="bold" transform="translate(432.22 395.27) scale(1.024 1)">CD3</text>
<text font-size="9.72" font-weight="bold" transform="translate(10.45 516.16) rotate(-90) scale(1.056 1)">CD2</text>
<text font-size="7.97" font-weight="bold" transform="translate(71.03 592.65) scale(1.005 1)">HLA-DR</text>
<text font-size="10.14" font-weight="bold" transform="translate(191.45 512.72) rotate(-90) scale(0.904 1)">CD8</text>
<text font-size="8.45" font-weight="bold" transform="translate(258.89 588.27) scale(1.077 1)">CD4</text>
<text font-size="11.34" font-weight="bold" transform="translate(368.07 554.75) rotate(-90) scale(0.908 1)">TCR-gamma/delta</text>
<text font-size="8.73" font-weight="bold" transform="translate(432.43 589.86) scale(1.202 1)">CD3</text>
<g transform="translate(200.10 163.60) rotate(-90)"><text font-size="7.06" font-weight="bold" stroke="#000" stroke-width="0.3" transform="translate(-5.35 3.10) scale(0.950 1)">10</text><text font-size="5.65" font-weight="bold" stroke="#000" stroke-width="0.3" transform="translate(2.15 0.78) scale(0.950 1)">0</text></g>
<g transform="translate(200.10 132.80) rotate(-90)"><text font-size="7.06" font-weight="bold" stroke="#000" stroke-width="0.3" transform="translate(-5.32 3.07) scale(0.950 1)">10</text><text font-size="5.65" font-weight="bold" stroke="#000" stroke-width="0.3" transform="translate(2.04 0.75) scale(0.950 1)">1</text></g>
<g transform="translate(200.10 102.00) rotate(-90)"><text font-size="7.06" font-weight="bold" stroke="#000" stroke-width="0.3" transform="translate(-5.36 3.10) scale(0.950 1)">10</text><text font-size="5.65" font-weight="bold" stroke="#000" stroke-width="0.3" transform="translate(2.16 0.78) scale(0.950 1)">2</text></g>
<g transform="translate(200.10 71.20) rotate(-90)"><text font-size="7.06" font-weight="bold" stroke="#000" stroke-width="0.3" transform="translate(-5.40 3.10) scale(0.950 1)">10</text><text font-size="5.65" font-weight="bold" stroke="#000" stroke-width="0.3" transform="translate(2.18 0.78) scale(0.950 1)">3</text></g>
<g transform="translate(200.10 40.40) rotate(-90)"><text font-size="7.06" font-weight="bold" stroke="#000" stroke-width="0.3" transform="translate(-5.51 3.07) scale(0.950 1)">10</text><text font-size="5.65" font-weight="bold" stroke="#000" stroke-width="0.3" transform="translate(2.12 0.75) scale(0.950 1)">4</text></g>
<g transform="translate(373.00 161.40) rotate(-90)"><text font-size="7.70" font-weight="bold" stroke="#000" stroke-width="0.3" transform="translate(-5.65 3.98) scale(0.880 1)">10</text><text font-size="7.31" font-weight="bold" stroke="#000" stroke-width="0.3" transform="translate(1.89 1.07) scale(0.880 1)">0</text></g>
<g transform="translate(373.00 131.80) rotate(-90)"><text font-size="7.70" font-weight="bold" stroke="#000" stroke-width="0.3" transform="translate(-5.61 3.94) scale(0.880 1)">10</text><text font-size="7.31" font-weight="bold" stroke="#000" stroke-width="0.3" transform="translate(1.76 1.03) scale(0.880 1)">1</text></g>
<g transform="translate(373.00 102.20) rotate(-90)"><text font-size="7.70" font-weight="bold" stroke="#000" stroke-width="0.3" transform="translate(-5.66 3.98) scale(0.880 1)">10</text><text font-size="7.31" font-weight="bold" stroke="#000" stroke-width="0.3" transform="translate(1.91 1.07) scale(0.880 1)">2</text></g>
<g transform="translate(373.00 72.60) rotate(-90)"><text font-size="7.70" font-weight="bold" stroke="#000" stroke-width="0.3" transform="translate(-5.71 3.98) scale(0.880 1)">10</text><text font-size="7.31" font-weight="bold" stroke="#000" stroke-width="0.3" transform="translate(1.92 1.07) scale(0.880 1)">3</text></g>
<g transform="translate(373.00 43.00) rotate(-90)"><text font-size="7.70" font-weight="bold" stroke="#000" stroke-width="0.3" transform="translate(-5.84 3.94) scale(0.880 1)">10</text><text font-size="7.31" font-weight="bold" stroke="#000" stroke-width="0.3" transform="translate(1.86 1.03) scale(0.880 1)">4</text></g>
<g transform="translate(21.10 369.60) rotate(-90)"><text font-size="10.00" font-weight="bold" stroke="#000" stroke-width="0.3" transform="translate(-6.16 3.55) scale(0.780 1)">10</text><text font-size="7.70" font-weight="bold" stroke="#000" stroke-width="0.3" transform="translate(2.56 1.73) scale(0.780 1)">0</text></g>
<g transform="translate(21.10 338.10) rotate(-90)"><text font-size="10.00" font-weight="bold" stroke="#000" stroke-width="0.3" transform="translate(-6.13 3.52) scale(0.780 1)">10</text><text font-size="7.70" font-weight="bold" stroke="#000" stroke-width="0.3" transform="translate(2.44 1.70) scale(0.780 1)">1</text></g>
<g transform="translate(21.10 306.60) rotate(-90)"><text font-size="10.00" font-weight="bold" stroke="#000" stroke-width="0.3" transform="translate(-6.18 3.55) scale(0.780 1)">10</text><text font-size="7.70" font-weight="bold" stroke="#000" stroke-width="0.3" transform="translate(2.58 1.73) scale(0.780 1)">2</text></g>
<g transform="translate(21.10 275.10) rotate(-90)"><text font-size="10.00" font-weight="bold" stroke="#000" stroke-width="0.3" transform="translate(-6.22 3.55) scale(0.780 1)">10</text><text font-size="7.70" font-weight="bold" stroke="#000" stroke-width="0.3" transform="translate(2.59 1.73) scale(0.780 1)">3</text></g>
<g transform="translate(21.10 243.60) rotate(-90)"><text font-size="10.00" font-weight="bold" stroke="#000" stroke-width="0.3" transform="translate(-6.35 3.52) scale(0.780 1)">10</text><text font-size="7.70" font-weight="bold" stroke="#000" stroke-width="0.3" transform="translate(2.53 1.70) scale(0.780 1)">4</text></g>
<g transform="translate(200.90 368.40) rotate(-90)"><text font-size="7.70" font-weight="bold" stroke="#000" stroke-width="0.3" transform="translate(-5.65 3.41) scale(0.880 1)">10</text><text font-size="7.31" font-weight="bold" stroke="#000" stroke-width="0.3" transform="translate(1.89 1.63) scale(0.880 1)">0</text></g>
<g transform="translate(200.90 337.30) rotate(-90)"><text font-size="7.70" font-weight="bold" stroke="#000" stroke-width="0.3" transform="translate(-5.61 3.37) scale(0.880 1)">10</text><text font-size="7.31" font-weight="bold" stroke="#000" stroke-width="0.3" transform="translate(1.76 1.60) scale(0.880 1)">1</text></g>
<g transform="translate(200.90 306.20) rotate(-90)"><text font-size="7.70" font-weight="bold" stroke="#000" stroke-width="0.3" transform="translate(-5.66 3.41) scale(0.880 1)">10</text><text font-size="7.31" font-weight="bold" stroke="#000" stroke-width="0.3" transform="translate(1.91 1.63) scale(0.880 1)">2</text></g>
<g transform="translate(200.90 275.10) rotate(-90)"><text font-size="7.70" font-weight="bold" stroke="#000" stroke-width="0.3" transform="translate(-5.71 3.41) scale(0.880 1)">10</text><text font-size="7.31" font-weight="bold" stroke="#000" stroke-width="0.3" transform="translate(1.92 1.63) scale(0.880 1)">3</text></g>
<g transform="translate(200.90 244.00) rotate(-90)"><text font-size="7.70" font-weight="bold" stroke="#000" stroke-width="0.3" transform="translate(-5.84 3.37) scale(0.880 1)">10</text><text font-size="7.31" font-weight="bold" stroke="#000" stroke-width="0.3" transform="translate(1.86 1.60) scale(0.880 1)">4</text></g>
<g transform="translate(375.10 368.70) rotate(-90)"><text font-size="7.70" font-weight="bold" stroke="#000" stroke-width="0.3" transform="translate(-5.65 3.41) scale(0.880 1)">10</text><text font-size="7.31" font-weight="bold" stroke="#000" stroke-width="0.3" transform="translate(1.89 1.63) scale(0.880 1)">0</text></g>
<g transform="translate(375.10 337.40) rotate(-90)"><text font-size="7.70" font-weight="bold" stroke="#000" stroke-width="0.3" transform="translate(-5.61 3.37) scale(0.880 1)">10</text><text font-size="7.31" font-weight="bold" stroke="#000" stroke-width="0.3" transform="translate(1.76 1.60) scale(0.880 1)">1</text></g>
<g transform="translate(375.10 306.10) rotate(-90)"><text font-size="7.70" font-weight="bold" stroke="#000" stroke-width="0.3" transform="translate(-5.66 3.41) scale(0.880 1)">10</text><text font-size="7.31" font-weight="bold" stroke="#000" stroke-width="0.3" transform="translate(1.91 1.63) scale(0.880 1)">2</text></g>
<g transform="translate(375.10 274.80) rotate(-90)"><text font-size="7.70" font-weight="bold" stroke="#000" stroke-width="0.3" transform="translate(-5.71 3.41) scale(0.880 1)">10</text><text font-size="7.31" font-weight="bold" stroke="#000" stroke-width="0.3" transform="translate(1.92 1.63) scale(0.880 1)">3</text></g>
<g transform="translate(375.10 243.50) rotate(-90)"><text font-size="7.70" font-weight="bold" stroke="#000" stroke-width="0.3" transform="translate(-5.84 3.37) scale(0.880 1)">10</text><text font-size="7.31" font-weight="bold" stroke="#000" stroke-width="0.3" transform="translate(1.86 1.60) scale(0.880 1)">4</text></g>
<g transform="translate(20.85 559.60) rotate(-90)"><text font-size="9.04" font-weight="bold" stroke="#000" stroke-width="0.3" transform="translate(-5.31 4.51) scale(0.720 1)">10</text><text font-size="7.96" font-weight="bold" stroke="#000" stroke-width="0.3" transform="translate(1.94 0.97) scale(0.720 1)">0</text></g>
<g transform="translate(20.85 530.10) rotate(-90)"><text font-size="9.04" font-weight="bold" stroke="#000" stroke-width="0.3" transform="translate(-5.29 4.47) scale(0.720 1)">10</text><text font-size="7.96" font-weight="bold" stroke="#000" stroke-width="0.3" transform="translate(1.83 0.93) scale(0.720 1)">1</text></g>
<g transform="translate(20.85 500.60) rotate(-90)"><text font-size="9.04" font-weight="bold" stroke="#000" stroke-width="0.3" transform="translate(-5.33 4.51) scale(0.720 1)">10</text><text font-size="7.96" font-weight="bold" stroke="#000" stroke-width="0.3" transform="translate(1.96 0.97) scale(0.720 1)">2</text></g>
<g transform="translate(20.85 471.10) rotate(-90)"><text font-size="9.04" font-weight="bold" stroke="#000" stroke-width="0.3" transform="translate(-5.37 4.51) scale(0.720 1)">10</text><text font-size="7.96" font-weight="bold" stroke="#000" stroke-width="0.3" transform="translate(1.97 0.97) scale(0.720 1)">3</text></g>
<g transform="translate(20.85 441.60) rotate(-90)"><text font-size="9.04" font-weight="bold" stroke="#000" stroke-width="0.3" transform="translate(-5.49 4.47) scale(0.720 1)">10</text><text font-size="7.96" font-weight="bold" stroke="#000" stroke-width="0.3" transform="translate(1.91 0.93) scale(0.720 1)">4</text></g>
<g transform="translate(199.95 565.40) rotate(-90)"><text font-size="7.30" font-weight="bold" stroke="#000" stroke-width="0.3" transform="translate(-3.83 3.41) scale(0.620 1)">10</text><text font-size="5.47" font-weight="bold" stroke="#000" stroke-width="0.3" transform="translate(1.78 0.35) scale(0.620 1)">0</text></g>
<g transform="translate(199.95 533.80) rotate(-90)"><text font-size="7.30" font-weight="bold" stroke="#000" stroke-width="0.3" transform="translate(-3.81 3.39) scale(0.620 1)">10</text><text font-size="5.47" font-weight="bold" stroke="#000" stroke-width="0.3" transform="translate(1.72 0.32) scale(0.620 1)">1</text></g>
<g transform="translate(199.95 502.20) rotate(-90)"><text font-size="7.30" font-weight="bold" stroke="#000" stroke-width="0.3" transform="translate(-3.84 3.41) scale(0.620 1)">10</text><text font-size="5.47" font-weight="bold" stroke="#000" stroke-width="0.3" transform="translate(1.79 0.35) scale(0.620 1)">2</text></g>
<g transform="translate(199.95 470.60) rotate(-90)"><text font-size="7.30" font-weight="bold" stroke="#000" stroke-width="0.3" transform="translate(-3.86 3.41) scale(0.620 1)">10</text><text font-size="5.47" font-weight="bold" stroke="#000" stroke-width="0.3" transform="translate(1.80 0.35) scale(0.620 1)">3</text></g>
<g transform="translate(199.95 439.00) rotate(-90)"><text font-size="7.30" font-weight="bold" stroke="#000" stroke-width="0.3" transform="translate(-3.93 3.39) scale(0.620 1)">10</text><text font-size="5.47" font-weight="bold" stroke="#000" stroke-width="0.3" transform="translate(1.77 0.32) scale(0.620 1)">4</text></g>
<g transform="translate(376.35 564.50) rotate(-90)"><text font-size="7.30" font-weight="bold" stroke="#000" stroke-width="0.3" transform="translate(-4.37 3.08) scale(0.750 1)">10</text><text font-size="5.84" font-weight="bold" stroke="#000" stroke-width="0.3" transform="translate(1.75 0.93) scale(0.750 1)">0</text></g>
<g transform="translate(376.35 533.00) rotate(-90)"><text font-size="7.30" font-weight="bold" stroke="#000" stroke-width="0.3" transform="translate(-4.34 3.05) scale(0.750 1)">10</text><text font-size="5.84" font-weight="bold" stroke="#000" stroke-width="0.3" transform="translate(1.67 0.91) scale(0.750 1)">1</text></g>
<g transform="translate(376.35 501.50) rotate(-90)"><text font-size="7.30" font-weight="bold" stroke="#000" stroke-width="0.3" transform="translate(-4.38 3.08) scale(0.750 1)">10</text><text font-size="5.84" font-weight="bold" stroke="#000" stroke-width="0.3" transform="translate(1.77 0.93) scale(0.750 1)">2</text></g>
<g transform="translate(376.35 470.00) rotate(-90)"><text font-size="7.30" font-weight="bold" stroke="#000" stroke-width="0.3" transform="translate(-4.41 3.08) scale(0.750 1)">10</text><text font-size="5.84" font-weight="bold" stroke="#000" stroke-width="0.3" transform="translate(1.78 0.93) scale(0.750 1)">3</text></g>
<g transform="translate(376.35 438.50) rotate(-90)"><text font-size="7.30" font-weight="bold" stroke="#000" stroke-width="0.3" transform="translate(-4.50 3.05) scale(0.750 1)">10</text><text font-size="5.84" font-weight="bold" stroke="#000" stroke-width="0.3" transform="translate(1.73 0.91) scale(0.750 1)">4</text></g>
<g transform="translate(388.60 179.45)"><text font-size="7.49" font-weight="bold" stroke="#000" stroke-width="0.3" transform="translate(-4.97 3.76) scale(0.820 1)">10</text><text font-size="6.37" font-weight="bold" stroke="#000" stroke-width="0.3" transform="translate(1.88 0.62) scale(0.820 1)">0</text></g>
<g transform="translate(420.20 179.45)"><text font-size="7.49" font-weight="bold" stroke="#000" stroke-width="0.3" transform="translate(-4.94 3.73) scale(0.820 1)">10</text><text font-size="6.37" font-weight="bold" stroke="#000" stroke-width="0.3" transform="translate(1.78 0.59) scale(0.820 1)">1</text></g>
<g transform="translate(451.40 179.45)"><text font-size="7.49" font-weight="bold" stroke="#000" stroke-width="0.3" transform="translate(-4.98 3.76) scale(0.820 1)">10</text><text font-size="6.37" font-weight="bold" stroke="#000" stroke-width="0.3" transform="translate(1.90 0.62) scale(0.820 1)">2</text></g>
<g transform="translate(482.30 179.45)"><text font-size="7.49" font-weight="bold" stroke="#000" stroke-width="0.3" transform="translate(-5.02 3.76) scale(0.820 1)">10</text><text font-size="6.37" font-weight="bold" stroke="#000" stroke-width="0.3" transform="translate(1.91 0.62) scale(0.820 1)">3</text></g>
<g transform="translate(512.80 179.45)"><text font-size="7.49" font-weight="bold" stroke="#000" stroke-width="0.3" transform="translate(-5.13 3.73) scale(0.820 1)">10</text><text font-size="6.37" font-weight="bold" stroke="#000" stroke-width="0.3" transform="translate(1.86 0.59) scale(0.820 1)">4</text></g>
<g transform="translate(35.70 384.35)"><text font-size="9.31" font-weight="bold" stroke="#000" stroke-width="0.3" transform="translate(-7.04 3.44) scale(0.920 1)">10</text><text font-size="6.05" font-weight="bold" stroke="#000" stroke-width="0.3" transform="translate(3.62 0.70) scale(0.920 1)">0</text></g>
<g transform="translate(70.10 384.35)"><text font-size="9.31" font-weight="bold" stroke="#000" stroke-width="0.3" transform="translate(-7.01 3.41) scale(0.920 1)">10</text><text font-size="6.05" font-weight="bold" stroke="#000" stroke-width="0.3" transform="translate(3.50 0.67) scale(0.920 1)">1</text></g>
<g transform="translate(102.90 384.35)"><text font-size="9.31" font-weight="bold" stroke="#000" stroke-width="0.3" transform="translate(-7.05 3.44) scale(0.920 1)">10</text><text font-size="6.05" font-weight="bold" stroke="#000" stroke-width="0.3" transform="translate(3.63 0.70) scale(0.920 1)">2</text></g>
<g transform="translate(133.60 384.35)"><text font-size="9.31" font-weight="bold" stroke="#000" stroke-width="0.3" transform="translate(-7.09 3.44) scale(0.920 1)">10</text><text font-size="6.05" font-weight="bold" stroke="#000" stroke-width="0.3" transform="translate(3.64 0.70) scale(0.920 1)">3</text></g>
<g transform="translate(162.70 384.35)"><text font-size="9.31" font-weight="bold" stroke="#000" stroke-width="0.3" transform="translate(-7.21 3.41) scale(0.920 1)">10</text><text font-size="6.05" font-weight="bold" stroke="#000" stroke-width="0.3" transform="translate(3.59 0.67) scale(0.920 1)">4</text></g>
<g transform="translate(213.70 383.30)"><text font-size="7.06" font-weight="bold" stroke="#000" stroke-width="0.3" transform="translate(-5.38 3.47) scale(0.920 1)">10</text><text font-size="6.57" font-weight="bold" stroke="#000" stroke-width="0.3" transform="translate(1.85 1.05) scale(0.920 1)">0</text></g>
<g transform="translate(244.00 383.30)"><text font-size="7.06" font-weight="bold" stroke="#000" stroke-width="0.3" transform="translate(-5.35 3.44) scale(0.920 1)">10</text><text font-size="6.57" font-weight="bold" stroke="#000" stroke-width="0.3" transform="translate(1.73 1.02) scale(0.920 1)">1</text></g>
<g transform="translate(275.90 383.30)"><text font-size="7.06" font-weight="bold" stroke="#000" stroke-width="0.3" transform="translate(-5.40 3.47) scale(0.920 1)">10</text><text font-size="6.57" font-weight="bold" stroke="#000" stroke-width="0.3" transform="translate(1.86 1.05) scale(0.920 1)">2</text></g>
<g transform="translate(306.00 383.30)"><text font-size="7.06" font-weight="bold" stroke="#000" stroke-width="0.3" transform="translate(-5.44 3.47) scale(0.920 1)">10</text><text font-size="6.57" font-weight="bold" stroke="#000" stroke-width="0.3" transform="translate(1.88 1.05) scale(0.920 1)">3</text></g>
<g transform="translate(336.30 383.30)"><text font-size="7.06" font-weight="bold" stroke="#000" stroke-width="0.3" transform="translate(-5.56 3.44) scale(0.920 1)">10</text><text font-size="6.57" font-weight="bold" stroke="#000" stroke-width="0.3" transform="translate(1.82 1.02) scale(0.920 1)">4</text></g>
<g transform="translate(387.90 382.10)"><text font-size="7.06" font-weight="bold" stroke="#000" stroke-width="0.3" transform="translate(-5.38 3.47) scale(0.920 1)">10</text><text font-size="6.57" font-weight="bold" stroke="#000" stroke-width="0.3" transform="translate(1.85 1.05) scale(0.920 1)">0</text></g>
<g transform="translate(418.60 382.10)"><text font-size="7.06" font-weight="bold" stroke="#000" stroke-width="0.3" transform="translate(-5.35 3.44) scale(0.920 1)">10</text><text font-size="6.57" font-weight="bold" stroke="#000" stroke-width="0.3" transform="translate(1.73 1.02) scale(0.920 1)">1</text></g>
<g transform="translate(450.30 382.10)"><text font-size="7.06" font-weight="bold" stroke="#000" stroke-width="0.3" transform="translate(-5.40 3.47) scale(0.920 1)">10</text><text font-size="6.57" font-weight="bold" stroke="#000" stroke-width="0.3" transform="translate(1.86 1.05) scale(0.920 1)">2</text></g>
<g transform="translate(481.00 382.10)"><text font-size="7.06" font-weight="bold" stroke="#000" stroke-width="0.3" transform="translate(-5.44 3.47) scale(0.920 1)">10</text><text font-size="6.57" font-weight="bold" stroke="#000" stroke-width="0.3" transform="translate(1.88 1.05) scale(0.920 1)">3</text></g>
<g transform="translate(511.30 382.10)"><text font-size="7.06" font-weight="bold" stroke="#000" stroke-width="0.3" transform="translate(-5.56 3.44) scale(0.920 1)">10</text><text font-size="6.57" font-weight="bold" stroke="#000" stroke-width="0.3" transform="translate(1.82 1.02) scale(0.920 1)">4</text></g>
<g transform="translate(37.90 577.95)"><text font-size="7.81" font-weight="bold" stroke="#000" stroke-width="0.3" transform="translate(-6.23 3.51) scale(1.000 1)">10</text><text font-size="6.25" font-weight="bold" stroke="#000" stroke-width="0.3" transform="translate(2.50 0.78) scale(1.000 1)">0</text></g>
<g transform="translate(68.00 577.95)"><text font-size="7.81" font-weight="bold" stroke="#000" stroke-width="0.3" transform="translate(-6.20 3.48) scale(1.000 1)">10</text><text font-size="6.25" font-weight="bold" stroke="#000" stroke-width="0.3" transform="translate(2.38 0.75) scale(1.000 1)">1</text></g>
<g transform="translate(100.00 577.95)"><text font-size="7.81" font-weight="bold" stroke="#000" stroke-width="0.3" transform="translate(-6.24 3.51) scale(1.000 1)">10</text><text font-size="6.25" font-weight="bold" stroke="#000" stroke-width="0.3" transform="translate(2.52 0.78) scale(1.000 1)">2</text></g>
<g transform="translate(132.50 577.95)"><text font-size="7.81" font-weight="bold" stroke="#000" stroke-width="0.3" transform="translate(-6.29 3.51) scale(1.000 1)">10</text><text font-size="6.25" font-weight="bold" stroke="#000" stroke-width="0.3" transform="translate(2.53 0.78) scale(1.000 1)">3</text></g>
<g transform="translate(162.80 577.95)"><text font-size="7.81" font-weight="bold" stroke="#000" stroke-width="0.3" transform="translate(-6.42 3.48) scale(1.000 1)">10</text><text font-size="6.25" font-weight="bold" stroke="#000" stroke-width="0.3" transform="translate(2.47 0.75) scale(1.000 1)">4</text></g>
<g transform="translate(210.90 575.10)"><text font-size="6.31" font-weight="bold" stroke="#000" stroke-width="0.3" transform="translate(-4.78 2.84) scale(0.950 1)">10</text><text font-size="5.05" font-weight="bold" stroke="#000" stroke-width="0.3" transform="translate(1.92 0.63) scale(0.950 1)">0</text></g>
<g transform="translate(242.20 575.10)"><text font-size="6.31" font-weight="bold" stroke="#000" stroke-width="0.3" transform="translate(-4.76 2.82) scale(0.950 1)">10</text><text font-size="5.05" font-weight="bold" stroke="#000" stroke-width="0.3" transform="translate(1.83 0.61) scale(0.950 1)">1</text></g>
<g transform="translate(273.70 575.10)"><text font-size="6.31" font-weight="bold" stroke="#000" stroke-width="0.3" transform="translate(-4.79 2.84) scale(0.950 1)">10</text><text font-size="5.05" font-weight="bold" stroke="#000" stroke-width="0.3" transform="translate(1.93 0.63) scale(0.950 1)">2</text></g>
<g transform="translate(304.00 575.10)"><text font-size="6.31" font-weight="bold" stroke="#000" stroke-width="0.3" transform="translate(-4.83 2.84) scale(0.950 1)">10</text><text font-size="5.05" font-weight="bold" stroke="#000" stroke-width="0.3" transform="translate(1.95 0.63) scale(0.950 1)">3</text></g>
<g transform="translate(334.90 575.10)"><text font-size="6.31" font-weight="bold" stroke="#000" stroke-width="0.3" transform="translate(-4.93 2.82) scale(0.950 1)">10</text><text font-size="5.05" font-weight="bold" stroke="#000" stroke-width="0.3" transform="translate(1.90 0.61) scale(0.950 1)">4</text></g>
<g transform="translate(388.70 575.85)"><text font-size="7.06" font-weight="bold" stroke="#000" stroke-width="0.3" transform="translate(-5.07 3.18) scale(0.900 1)">10</text><text font-size="5.65" font-weight="bold" stroke="#000" stroke-width="0.3" transform="translate(2.04 0.71) scale(0.900 1)">0</text></g>
<g transform="translate(418.40 575.85)"><text font-size="7.06" font-weight="bold" stroke="#000" stroke-width="0.3" transform="translate(-5.04 3.15) scale(0.900 1)">10</text><text font-size="5.65" font-weight="bold" stroke="#000" stroke-width="0.3" transform="translate(1.94 0.68) scale(0.900 1)">1</text></g>
<g transform="translate(450.60 575.85)"><text font-size="7.06" font-weight="bold" stroke="#000" stroke-width="0.3" transform="translate(-5.08 3.18) scale(0.900 1)">10</text><text font-size="5.65" font-weight="bold" stroke="#000" stroke-width="0.3" transform="translate(2.05 0.71) scale(0.900 1)">2</text></g>
<g transform="translate(481.00 575.85)"><text font-size="7.06" font-weight="bold" stroke="#000" stroke-width="0.3" transform="translate(-5.12 3.18) scale(0.900 1)">10</text><text font-size="5.65" font-weight="bold" stroke="#000" stroke-width="0.3" transform="translate(2.06 0.71) scale(0.900 1)">3</text></g>
<g transform="translate(511.30 575.85)"><text font-size="7.06" font-weight="bold" stroke="#000" stroke-width="0.3" transform="translate(-5.22 3.15) scale(0.900 1)">10</text><text font-size="5.65" font-weight="bold" stroke="#000" stroke-width="0.3" transform="translate(2.01 0.68) scale(0.900 1)">4</text></g>
</svg>
</body></html>
